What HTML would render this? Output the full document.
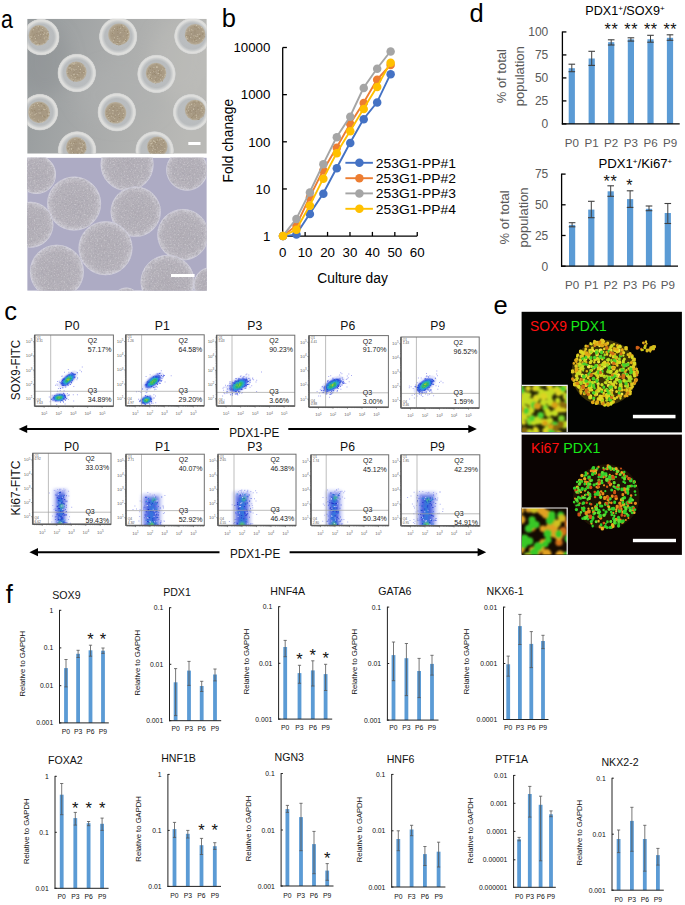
<!DOCTYPE html>
<html><head><meta charset="utf-8"><style>
html,body{margin:0;padding:0;background:#fff;}
body{width:685px;height:905px;overflow:hidden;position:relative;}
svg{position:absolute;left:0;top:0;font-family:"Liberation Sans", sans-serif;}
</style></head><body>
<svg width="685" height="905" viewBox="0 0 685 905">
<defs><filter id="sblur" x="-20%" y="-20%" width="140%" height="140%"><feGaussianBlur stdDeviation="0.45"/></filter><filter id="bigblur" x="-50%" y="-50%" width="200%" height="200%"><feGaussianBlur stdDeviation="8"/></filter><filter id="fsoft2" x="-50%" y="-50%" width="200%" height="200%"><feGaussianBlur stdDeviation="1.1"/></filter><filter id="fsoft" x="-50%" y="-50%" width="200%" height="200%"><feGaussianBlur stdDeviation="0.7"/></filter><clipPath id="fc1"><rect x="34.7" y="335.0" width="78.7" height="71.2"/></clipPath><clipPath id="fc2"><rect x="125.8" y="334.8" width="78.4" height="71.0"/></clipPath><clipPath id="fc3"><rect x="216.6" y="335.2" width="78.2" height="70.8"/></clipPath><clipPath id="fc4"><rect x="309.0" y="335.6" width="79.4" height="71.6"/></clipPath><clipPath id="fc5"><rect x="401.0" y="337.0" width="78.2" height="71.0"/></clipPath><clipPath id="fc6"><rect x="32.8" y="453.2" width="78.2" height="71.1"/></clipPath><clipPath id="fc7"><rect x="126.0" y="454.2" width="78.3" height="71.3"/></clipPath><clipPath id="fc8"><rect x="218.0" y="454.2" width="78.0" height="71.3"/></clipPath><clipPath id="fc9"><rect x="311.0" y="454.8" width="77.7" height="70.7"/></clipPath><clipPath id="fc10"><rect x="401.0" y="454.8" width="78.8" height="71.0"/></clipPath><linearGradient id="abg" x1="0" y1="0" x2="1" y2="0.15"><stop offset="0" stop-color="#959a9c"/><stop offset="0.45" stop-color="#a8aaaa"/><stop offset="1" stop-color="#b9b9b6"/></linearGradient><radialGradient id="awell" cx="0.5" cy="0.5" r="0.5"><stop offset="0" stop-color="#bcbfc1"/><stop offset="0.70" stop-color="#b9bcbe"/><stop offset="0.80" stop-color="#cdcfcf"/><stop offset="0.87" stop-color="#dfdfdd"/><stop offset="0.93" stop-color="#dddddb"/><stop offset="0.97" stop-color="#d0d1d0"/><stop offset="1" stop-color="#b8babb" stop-opacity="0.3"/></radialGradient><radialGradient id="asph" cx="0.5" cy="0.5" r="0.5"><stop offset="0" stop-color="#a39580"/><stop offset="0.8" stop-color="#aa9c85"/><stop offset="1" stop-color="#bab09d"/></radialGradient><filter id="grain" x="0" y="0" width="1" height="1"><feTurbulence type="fractalNoise" baseFrequency="0.8" numOctaves="2" seed="4" result="t"/><feColorMatrix in="t" type="matrix" values="0 0 0 0 0.35  0 0 0 0 0.3  0 0 0 0 0.22  1.4 0 0 0 -0.68" result="d"/><feComposite in="d" in2="SourceAlpha" operator="in" result="dd"/><feMerge><feMergeNode in="SourceGraphic"/><feMergeNode in="dd"/></feMerge></filter><filter id="grain2" x="0" y="0" width="1" height="1"><feTurbulence type="fractalNoise" baseFrequency="0.55" numOctaves="2" seed="9" result="t"/><feColorMatrix in="t" type="matrix" values="0 0 0 0 0.36  0 0 0 0 0.35  0 0 0 0 0.40  1.6 0 0 0 -0.72" result="d"/><feComposite in="d" in2="SourceAlpha" operator="in" result="dd"/><feTurbulence type="fractalNoise" baseFrequency="0.18" numOctaves="2" seed="3" result="t2"/><feColorMatrix in="t2" type="matrix" values="0 0 0 0 0.45  0 0 0 0 0.43  0 0 0 0 0.48  2.2 0 0 0 -1.0" result="d2"/><feComposite in="d2" in2="SourceAlpha" operator="in" result="dd2"/><feTurbulence type="fractalNoise" baseFrequency="0.7" numOctaves="1" seed="21" result="t3"/><feColorMatrix in="t3" type="matrix" values="0 0 0 0 0.88  0 0 0 0 0.87  0 0 0 0 0.9  1.2 0 0 0 -0.66" result="d3"/><feComposite in="d3" in2="SourceAlpha" operator="in" result="dd3"/><feMerge><feMergeNode in="SourceGraphic"/><feMergeNode in="dd2"/><feMergeNode in="dd"/><feMergeNode in="dd3"/></feMerge><feGaussianBlur stdDeviation="0.35"/></filter><clipPath id="clipA1"><rect x="27.2" y="18.8" width="179.6" height="134.9"/></clipPath><clipPath id="clipA2"><rect x="27.2" y="157.6" width="179.6" height="133.2"/></clipPath><radialGradient id="bsph" cx="0.5" cy="0.5" r="0.5"><stop offset="0" stop-color="#b2aeb6"/><stop offset="0.75" stop-color="#b7b3bb"/><stop offset="0.9" stop-color="#c4c1c9"/><stop offset="0.97" stop-color="#d0ced8"/><stop offset="1" stop-color="#c4c2d4"/></radialGradient><clipPath id="clipE1"><rect x="521.6" y="311.8" width="160.3" height="120.6"/></clipPath><clipPath id="clipE2"><rect x="521.6" y="434.6" width="160.3" height="120.4"/></clipPath><clipPath id="clipI1"><rect x="521.6" y="385.3" width="45.6" height="46.6"/></clipPath><clipPath id="clipI2"><rect x="521.6" y="508.0" width="45.6" height="46.6"/></clipPath><filter id="eblur" x="-10%" y="-10%" width="120%" height="120%"><feGaussianBlur stdDeviation="0.45"/></filter><filter id="eblur2" x="-10%" y="-10%" width="120%" height="120%"><feGaussianBlur stdDeviation="0.9"/></filter></defs>
<text x="0.00" y="0.00" font-size="25.5" fill="#000" text-anchor="start" transform="translate(0.9 28.0) scale(0.84 1)">a</text>
<text x="221.80" y="26.60" font-size="25.5" fill="#000" text-anchor="start" >b</text>
<text x="4.20" y="320.40" font-size="25.5" fill="#000" text-anchor="start" >c</text>
<text x="469.60" y="21.90" font-size="25.5" fill="#000" text-anchor="start" >d</text>
<text x="493.40" y="314.20" font-size="25.5" fill="#000" text-anchor="start" >e</text>
<text x="5.80" y="602.70" font-size="25.5" fill="#000" text-anchor="start" >f</text>
<line x1="282.70" y1="47.50" x2="282.70" y2="236.70" stroke="#000" stroke-width="1.3" />
<line x1="282.10" y1="236.10" x2="417.25" y2="236.10" stroke="#000" stroke-width="1.3" />
<line x1="282.70" y1="236.10" x2="286.90" y2="236.10" stroke="#000" stroke-width="1.3" />
<text x="270.40" y="240.80" font-size="13.3" fill="#000" text-anchor="end" >1</text>
<line x1="282.70" y1="188.95" x2="286.90" y2="188.95" stroke="#000" stroke-width="1.3" />
<text x="270.40" y="193.65" font-size="13.3" fill="#000" text-anchor="end" >10</text>
<line x1="282.70" y1="141.80" x2="286.90" y2="141.80" stroke="#000" stroke-width="1.3" />
<text x="270.40" y="146.50" font-size="13.3" fill="#000" text-anchor="end" >100</text>
<line x1="282.70" y1="94.65" x2="286.90" y2="94.65" stroke="#000" stroke-width="1.3" />
<text x="270.40" y="99.35" font-size="13.3" fill="#000" text-anchor="end" >1000</text>
<line x1="282.70" y1="47.50" x2="286.90" y2="47.50" stroke="#000" stroke-width="1.3" />
<text x="270.40" y="52.20" font-size="13.3" fill="#000" text-anchor="end" >10000</text>
<line x1="305.12" y1="236.10" x2="305.12" y2="231.90" stroke="#000" stroke-width="1.3" />
<line x1="327.55" y1="236.10" x2="327.55" y2="231.90" stroke="#000" stroke-width="1.3" />
<line x1="349.98" y1="236.10" x2="349.98" y2="231.90" stroke="#000" stroke-width="1.3" />
<line x1="372.40" y1="236.10" x2="372.40" y2="231.90" stroke="#000" stroke-width="1.3" />
<line x1="394.82" y1="236.10" x2="394.82" y2="231.90" stroke="#000" stroke-width="1.3" />
<line x1="417.25" y1="236.10" x2="417.25" y2="231.90" stroke="#000" stroke-width="1.3" />
<text x="282.70" y="257.00" font-size="13.3" fill="#000" text-anchor="middle" >0</text>
<text x="305.12" y="257.00" font-size="13.3" fill="#000" text-anchor="middle" >10</text>
<text x="327.55" y="257.00" font-size="13.3" fill="#000" text-anchor="middle" >20</text>
<text x="349.98" y="257.00" font-size="13.3" fill="#000" text-anchor="middle" >30</text>
<text x="372.40" y="257.00" font-size="13.3" fill="#000" text-anchor="middle" >40</text>
<text x="394.82" y="257.00" font-size="13.3" fill="#000" text-anchor="middle" >50</text>
<text x="417.25" y="257.00" font-size="13.3" fill="#000" text-anchor="middle" >60</text>
<text x="352.60" y="282.60" font-size="13.8" fill="#000" text-anchor="middle" >Culture day</text>
<text x="0.00" y="0.00" font-size="13.8" fill="#000" text-anchor="middle" transform="translate(232.9 140.7) rotate(-90)">Fold chanage</text>
<polyline points="282.70,236.10 296.15,234.60 309.61,214.00 323.06,193.70 336.52,168.20 349.98,143.00 363.43,119.20 376.88,102.60 390.34,74.30" fill="none" stroke="#4472C4" stroke-width="1.9"/>
<circle cx="283.00" cy="236.10" r="4.25" fill="#4472C4"/>
<circle cx="296.45" cy="234.60" r="4.25" fill="#4472C4"/>
<circle cx="309.91" cy="214.00" r="4.25" fill="#4472C4"/>
<circle cx="323.37" cy="193.70" r="4.25" fill="#4472C4"/>
<circle cx="336.82" cy="168.20" r="4.25" fill="#4472C4"/>
<circle cx="350.28" cy="143.00" r="4.25" fill="#4472C4"/>
<circle cx="363.73" cy="119.20" r="4.25" fill="#4472C4"/>
<circle cx="377.19" cy="102.60" r="4.25" fill="#4472C4"/>
<circle cx="390.64" cy="74.30" r="4.25" fill="#4472C4"/>
<polyline points="282.70,236.10 296.15,225.70 309.61,197.40 323.06,170.40 336.52,147.70 349.98,124.00 363.43,103.00 376.88,79.80 390.34,65.00" fill="none" stroke="#ED7D31" stroke-width="1.9"/>
<circle cx="283.00" cy="236.10" r="4.25" fill="#ED7D31"/>
<circle cx="296.45" cy="225.70" r="4.25" fill="#ED7D31"/>
<circle cx="309.91" cy="197.40" r="4.25" fill="#ED7D31"/>
<circle cx="323.37" cy="170.40" r="4.25" fill="#ED7D31"/>
<circle cx="336.82" cy="147.70" r="4.25" fill="#ED7D31"/>
<circle cx="350.28" cy="124.00" r="4.25" fill="#ED7D31"/>
<circle cx="363.73" cy="103.00" r="4.25" fill="#ED7D31"/>
<circle cx="377.19" cy="79.80" r="4.25" fill="#ED7D31"/>
<circle cx="390.64" cy="65.00" r="4.25" fill="#ED7D31"/>
<polyline points="282.70,236.10 296.15,219.10 309.61,192.50 323.06,164.30 336.52,137.30 349.98,116.70 363.43,88.00 376.88,68.70 390.34,51.50" fill="none" stroke="#A5A5A5" stroke-width="1.9"/>
<circle cx="283.00" cy="236.10" r="4.25" fill="#A5A5A5"/>
<circle cx="296.45" cy="219.10" r="4.25" fill="#A5A5A5"/>
<circle cx="309.91" cy="192.50" r="4.25" fill="#A5A5A5"/>
<circle cx="323.37" cy="164.30" r="4.25" fill="#A5A5A5"/>
<circle cx="336.82" cy="137.30" r="4.25" fill="#A5A5A5"/>
<circle cx="350.28" cy="116.70" r="4.25" fill="#A5A5A5"/>
<circle cx="363.73" cy="88.00" r="4.25" fill="#A5A5A5"/>
<circle cx="377.19" cy="68.70" r="4.25" fill="#A5A5A5"/>
<circle cx="390.64" cy="51.50" r="4.25" fill="#A5A5A5"/>
<polyline points="282.70,236.10 296.15,229.70 309.61,205.80 323.06,178.80 336.52,153.20 349.98,131.30 363.43,109.00 376.88,87.10 390.34,62.80" fill="none" stroke="#FFC000" stroke-width="1.9"/>
<circle cx="283.00" cy="236.10" r="4.25" fill="#FFC000"/>
<circle cx="296.45" cy="229.70" r="4.25" fill="#FFC000"/>
<circle cx="309.91" cy="205.80" r="4.25" fill="#FFC000"/>
<circle cx="323.37" cy="178.80" r="4.25" fill="#FFC000"/>
<circle cx="336.82" cy="153.20" r="4.25" fill="#FFC000"/>
<circle cx="350.28" cy="131.30" r="4.25" fill="#FFC000"/>
<circle cx="363.73" cy="109.00" r="4.25" fill="#FFC000"/>
<circle cx="377.19" cy="87.10" r="4.25" fill="#FFC000"/>
<circle cx="390.64" cy="62.80" r="4.25" fill="#FFC000"/>
<line x1="345.40" y1="162.80" x2="372.90" y2="162.80" stroke="#4472C4" stroke-width="1.9" />
<circle cx="359.4" cy="162.8" r="4.25" fill="#4472C4"/>
<text x="375.80" y="167.60" font-size="13.5" fill="#000" text-anchor="start" textLength="80.2" lengthAdjust="spacingAndGlyphs">253G1-PP#1</text>
<line x1="345.40" y1="178.20" x2="372.90" y2="178.20" stroke="#ED7D31" stroke-width="1.9" />
<circle cx="359.4" cy="178.2" r="4.25" fill="#ED7D31"/>
<text x="375.80" y="183.00" font-size="13.5" fill="#000" text-anchor="start" textLength="80.2" lengthAdjust="spacingAndGlyphs">253G1-PP#2</text>
<line x1="345.40" y1="193.40" x2="372.90" y2="193.40" stroke="#A5A5A5" stroke-width="1.9" />
<circle cx="359.4" cy="193.4" r="4.25" fill="#A5A5A5"/>
<text x="375.80" y="198.20" font-size="13.5" fill="#000" text-anchor="start" textLength="80.2" lengthAdjust="spacingAndGlyphs">253G1-PP#3</text>
<line x1="345.40" y1="208.80" x2="372.90" y2="208.80" stroke="#FFC000" stroke-width="1.9" />
<circle cx="359.4" cy="208.8" r="4.25" fill="#FFC000"/>
<text x="375.80" y="213.60" font-size="13.5" fill="#000" text-anchor="start" textLength="80.2" lengthAdjust="spacingAndGlyphs">253G1-PP#4</text>
<rect x="568.70" y="68.20" width="6.20" height="55.70" fill="#5B9BD5" />
<rect x="588.60" y="58.50" width="6.20" height="65.40" fill="#5B9BD5" />
<rect x="608.10" y="42.20" width="6.20" height="81.70" fill="#5B9BD5" />
<rect x="627.80" y="39.30" width="6.20" height="84.60" fill="#5B9BD5" />
<rect x="647.40" y="39.30" width="6.20" height="84.60" fill="#5B9BD5" />
<rect x="666.90" y="37.80" width="6.20" height="86.10" fill="#5B9BD5" />
<line x1="571.80" y1="64.20" x2="571.80" y2="71.70" stroke="#404040" stroke-width="1" />
<line x1="568.50" y1="64.20" x2="575.10" y2="64.20" stroke="#404040" stroke-width="1.1" />
<line x1="568.50" y1="71.70" x2="575.10" y2="71.70" stroke="#404040" stroke-width="1.1" />
<line x1="591.70" y1="51.30" x2="591.70" y2="65.40" stroke="#404040" stroke-width="1" />
<line x1="588.40" y1="51.30" x2="595.00" y2="51.30" stroke="#404040" stroke-width="1.1" />
<line x1="588.40" y1="65.40" x2="595.00" y2="65.40" stroke="#404040" stroke-width="1.1" />
<line x1="611.20" y1="39.80" x2="611.20" y2="45.00" stroke="#404040" stroke-width="1" />
<line x1="607.90" y1="39.80" x2="614.50" y2="39.80" stroke="#404040" stroke-width="1.1" />
<line x1="607.90" y1="45.00" x2="614.50" y2="45.00" stroke="#404040" stroke-width="1.1" />
<line x1="630.90" y1="37.80" x2="630.90" y2="41.10" stroke="#404040" stroke-width="1" />
<line x1="627.60" y1="37.80" x2="634.20" y2="37.80" stroke="#404040" stroke-width="1.1" />
<line x1="627.60" y1="41.10" x2="634.20" y2="41.10" stroke="#404040" stroke-width="1.1" />
<line x1="650.50" y1="35.30" x2="650.50" y2="42.20" stroke="#404040" stroke-width="1" />
<line x1="647.20" y1="35.30" x2="653.80" y2="35.30" stroke="#404040" stroke-width="1.1" />
<line x1="647.20" y1="42.20" x2="653.80" y2="42.20" stroke="#404040" stroke-width="1.1" />
<line x1="670.00" y1="34.80" x2="670.00" y2="40.30" stroke="#404040" stroke-width="1" />
<line x1="666.70" y1="34.80" x2="673.30" y2="34.80" stroke="#404040" stroke-width="1.1" />
<line x1="666.70" y1="40.30" x2="673.30" y2="40.30" stroke="#404040" stroke-width="1.1" />
<line x1="562.40" y1="31.50" x2="562.40" y2="124.50" stroke="#000" stroke-width="1.3" />
<line x1="561.80" y1="123.90" x2="679.70" y2="123.90" stroke="#000" stroke-width="1.3" />
<line x1="562.40" y1="123.90" x2="566.40" y2="123.90" stroke="#000" stroke-width="1.3" />
<text x="548.30" y="128.20" font-size="12.0" fill="#595959" text-anchor="end" >0</text>
<line x1="562.40" y1="100.91" x2="566.40" y2="100.91" stroke="#000" stroke-width="1.3" />
<text x="548.30" y="105.21" font-size="12.0" fill="#595959" text-anchor="end" >25</text>
<line x1="562.40" y1="77.92" x2="566.40" y2="77.92" stroke="#000" stroke-width="1.3" />
<text x="548.30" y="82.22" font-size="12.0" fill="#595959" text-anchor="end" >50</text>
<line x1="562.40" y1="54.93" x2="566.40" y2="54.93" stroke="#000" stroke-width="1.3" />
<text x="548.30" y="59.23" font-size="12.0" fill="#595959" text-anchor="end" >75</text>
<line x1="562.40" y1="31.94" x2="566.40" y2="31.94" stroke="#000" stroke-width="1.3" />
<text x="548.30" y="36.24" font-size="12.0" fill="#595959" text-anchor="end" >100</text>
<text x="571.80" y="146.60" font-size="11.6" fill="#595959" text-anchor="middle" >P0</text>
<text x="591.70" y="146.60" font-size="11.6" fill="#595959" text-anchor="middle" >P1</text>
<text x="611.20" y="146.60" font-size="11.6" fill="#595959" text-anchor="middle" >P2</text>
<text x="630.90" y="146.60" font-size="11.6" fill="#595959" text-anchor="middle" >P3</text>
<text x="650.50" y="146.60" font-size="11.6" fill="#595959" text-anchor="middle" >P6</text>
<text x="670.00" y="146.60" font-size="11.6" fill="#595959" text-anchor="middle" >P9</text>
<text x="611.50" y="35.20" font-size="16.2" fill="#111" text-anchor="middle" letter-spacing="0.6">**</text>
<text x="631.20" y="35.20" font-size="16.2" fill="#111" text-anchor="middle" letter-spacing="0.6">**</text>
<text x="650.80" y="35.20" font-size="16.2" fill="#111" text-anchor="middle" letter-spacing="0.6">**</text>
<text x="670.30" y="35.20" font-size="16.2" fill="#111" text-anchor="middle" letter-spacing="0.6">**</text>
<text x="585.3" y="15.2" font-size="12.6" fill="#000">PDX1<tspan font-size="8" dy="-4.5">+</tspan><tspan dy="4.5">/SOX9</tspan><tspan font-size="8" dy="-4.5">+</tspan><tspan dy="4.5"></tspan></text>
<text x="0.00" y="0.00" font-size="13.0" fill="#595959" text-anchor="middle" transform="translate(505.5 76.2) rotate(-90)">% of total</text>
<text x="0.00" y="0.00" font-size="13.0" fill="#595959" text-anchor="middle" transform="translate(524.0 76.2) rotate(-90)">population</text>
<rect x="569.00" y="224.90" width="6.20" height="41.30" fill="#5B9BD5" />
<rect x="588.20" y="209.60" width="6.20" height="56.60" fill="#5B9BD5" />
<rect x="607.60" y="191.30" width="6.20" height="74.90" fill="#5B9BD5" />
<rect x="627.00" y="199.10" width="6.20" height="67.10" fill="#5B9BD5" />
<rect x="645.90" y="208.80" width="6.20" height="57.40" fill="#5B9BD5" />
<rect x="664.70" y="213.00" width="6.20" height="53.20" fill="#5B9BD5" />
<line x1="572.10" y1="222.70" x2="572.10" y2="226.80" stroke="#404040" stroke-width="1" />
<line x1="568.80" y1="222.70" x2="575.40" y2="222.70" stroke="#404040" stroke-width="1.1" />
<line x1="568.80" y1="226.80" x2="575.40" y2="226.80" stroke="#404040" stroke-width="1.1" />
<line x1="591.30" y1="201.30" x2="591.30" y2="217.70" stroke="#404040" stroke-width="1" />
<line x1="588.00" y1="201.30" x2="594.60" y2="201.30" stroke="#404040" stroke-width="1.1" />
<line x1="588.00" y1="217.70" x2="594.60" y2="217.70" stroke="#404040" stroke-width="1.1" />
<line x1="610.70" y1="185.80" x2="610.70" y2="196.30" stroke="#404040" stroke-width="1" />
<line x1="607.40" y1="185.80" x2="614.00" y2="185.80" stroke="#404040" stroke-width="1.1" />
<line x1="607.40" y1="196.30" x2="614.00" y2="196.30" stroke="#404040" stroke-width="1.1" />
<line x1="630.10" y1="190.80" x2="630.10" y2="207.40" stroke="#404040" stroke-width="1" />
<line x1="626.80" y1="190.80" x2="633.40" y2="190.80" stroke="#404040" stroke-width="1.1" />
<line x1="626.80" y1="207.40" x2="633.40" y2="207.40" stroke="#404040" stroke-width="1.1" />
<line x1="649.00" y1="206.00" x2="649.00" y2="210.70" stroke="#404040" stroke-width="1" />
<line x1="645.70" y1="206.00" x2="652.30" y2="206.00" stroke="#404040" stroke-width="1.1" />
<line x1="645.70" y1="210.70" x2="652.30" y2="210.70" stroke="#404040" stroke-width="1.1" />
<line x1="667.80" y1="203.50" x2="667.80" y2="223.50" stroke="#404040" stroke-width="1" />
<line x1="664.50" y1="203.50" x2="671.10" y2="203.50" stroke="#404040" stroke-width="1.1" />
<line x1="664.50" y1="223.50" x2="671.10" y2="223.50" stroke="#404040" stroke-width="1.1" />
<line x1="561.60" y1="173.60" x2="561.60" y2="266.80" stroke="#000" stroke-width="1.3" />
<line x1="561.00" y1="266.20" x2="678.00" y2="266.20" stroke="#000" stroke-width="1.3" />
<line x1="561.60" y1="266.20" x2="565.60" y2="266.20" stroke="#000" stroke-width="1.3" />
<text x="548.30" y="270.50" font-size="12.0" fill="#595959" text-anchor="end" >0</text>
<line x1="561.60" y1="235.50" x2="565.60" y2="235.50" stroke="#000" stroke-width="1.3" />
<text x="548.30" y="239.80" font-size="12.0" fill="#595959" text-anchor="end" >25</text>
<line x1="561.60" y1="204.80" x2="565.60" y2="204.80" stroke="#000" stroke-width="1.3" />
<text x="548.30" y="209.10" font-size="12.0" fill="#595959" text-anchor="end" >50</text>
<line x1="561.60" y1="174.10" x2="565.60" y2="174.10" stroke="#000" stroke-width="1.3" />
<text x="548.30" y="178.40" font-size="12.0" fill="#595959" text-anchor="end" >75</text>
<text x="572.10" y="288.80" font-size="11.6" fill="#595959" text-anchor="middle" >P0</text>
<text x="591.30" y="288.80" font-size="11.6" fill="#595959" text-anchor="middle" >P1</text>
<text x="610.70" y="288.80" font-size="11.6" fill="#595959" text-anchor="middle" >P2</text>
<text x="630.10" y="288.80" font-size="11.6" fill="#595959" text-anchor="middle" >P3</text>
<text x="649.00" y="288.80" font-size="11.6" fill="#595959" text-anchor="middle" >P6</text>
<text x="667.80" y="288.80" font-size="11.6" fill="#595959" text-anchor="middle" >P9</text>
<text x="610.50" y="186.50" font-size="16.2" fill="#111" text-anchor="middle" letter-spacing="0.6">**</text>
<text x="629.70" y="191.30" font-size="16.2" fill="#111" text-anchor="middle" letter-spacing="0.6">*</text>
<text x="598.4" y="168.0" font-size="13.2" fill="#000">PDX1<tspan font-size="8" dy="-4.5">+</tspan><tspan dy="4.5">/Ki67</tspan><tspan font-size="8" dy="-4.5">+</tspan><tspan dy="4.5"></tspan></text>
<text x="0.00" y="0.00" font-size="13.0" fill="#595959" text-anchor="middle" transform="translate(509.0 217.4) rotate(-90)">% of total</text>
<text x="0.00" y="0.00" font-size="13.0" fill="#595959" text-anchor="middle" transform="translate(527.8 217.4) rotate(-90)">population</text>
<rect x="64.10" y="668.10" width="3.80" height="54.80" fill="#5B9BD5" />
<rect x="76.20" y="653.80" width="3.80" height="69.10" fill="#5B9BD5" />
<rect x="88.60" y="650.30" width="3.80" height="72.60" fill="#5B9BD5" />
<rect x="101.10" y="650.70" width="3.80" height="72.20" fill="#5B9BD5" />
<line x1="66.00" y1="659.50" x2="66.00" y2="686.90" stroke="#555" stroke-width="0.8" />
<line x1="64.40" y1="659.50" x2="67.60" y2="659.50" stroke="#555" stroke-width="0.8" />
<line x1="64.40" y1="686.90" x2="67.60" y2="686.90" stroke="#555" stroke-width="0.8" />
<line x1="78.10" y1="650.30" x2="78.10" y2="657.50" stroke="#555" stroke-width="0.8" />
<line x1="76.50" y1="650.30" x2="79.70" y2="650.30" stroke="#555" stroke-width="0.8" />
<line x1="76.50" y1="657.50" x2="79.70" y2="657.50" stroke="#555" stroke-width="0.8" />
<line x1="90.50" y1="645.20" x2="90.50" y2="656.20" stroke="#555" stroke-width="0.8" />
<line x1="88.90" y1="645.20" x2="92.10" y2="645.20" stroke="#555" stroke-width="0.8" />
<line x1="88.90" y1="656.20" x2="92.10" y2="656.20" stroke="#555" stroke-width="0.8" />
<line x1="103.00" y1="648.00" x2="103.00" y2="653.40" stroke="#555" stroke-width="0.8" />
<line x1="101.40" y1="648.00" x2="104.60" y2="648.00" stroke="#555" stroke-width="0.8" />
<line x1="101.40" y1="653.40" x2="104.60" y2="653.40" stroke="#555" stroke-width="0.8" />
<line x1="59.50" y1="609.90" x2="59.50" y2="723.40" stroke="#222" stroke-width="1.0" />
<line x1="59.00" y1="722.90" x2="108.80" y2="722.90" stroke="#222" stroke-width="1.0" />
<line x1="59.50" y1="610.30" x2="61.30" y2="610.30" stroke="#222" stroke-width="1.0" />
<text x="53.20" y="612.80" font-size="6.8" fill="#111" text-anchor="end" >1</text>
<line x1="59.50" y1="647.90" x2="61.30" y2="647.90" stroke="#222" stroke-width="1.0" />
<text x="53.20" y="650.40" font-size="6.8" fill="#111" text-anchor="end" >0.1</text>
<line x1="59.50" y1="685.70" x2="61.30" y2="685.70" stroke="#222" stroke-width="1.0" />
<text x="53.20" y="688.20" font-size="6.8" fill="#111" text-anchor="end" >0.01</text>
<line x1="59.50" y1="722.90" x2="61.30" y2="722.90" stroke="#222" stroke-width="1.0" />
<text x="53.20" y="725.40" font-size="6.8" fill="#111" text-anchor="end" >0.001</text>
<text x="66.00" y="734.00" font-size="6.8" fill="#111" text-anchor="middle" >P0</text>
<text x="78.10" y="734.00" font-size="6.8" fill="#111" text-anchor="middle" >P3</text>
<text x="90.50" y="734.00" font-size="6.8" fill="#111" text-anchor="middle" >P6</text>
<text x="103.00" y="734.00" font-size="6.8" fill="#111" text-anchor="middle" >P9</text>
<text x="90.50" y="644.80" font-size="16.5" fill="#111" text-anchor="middle" >*</text>
<text x="103.00" y="644.80" font-size="16.5" fill="#111" text-anchor="middle" >*</text>
<text x="66.40" y="598.60" font-size="10.6" fill="#111" text-anchor="middle" >SOX9</text>
<text x="0.00" y="0.00" font-size="8.1" fill="#111" text-anchor="middle" transform="translate(24.6 663.7) rotate(-90)" textLength="65.5" lengthAdjust="spacingAndGlyphs">Relative to GAPDH</text>
<rect x="173.70" y="682.30" width="3.80" height="38.40" fill="#5B9BD5" />
<rect x="187.10" y="670.60" width="3.80" height="50.10" fill="#5B9BD5" />
<rect x="199.80" y="686.00" width="3.80" height="34.70" fill="#5B9BD5" />
<rect x="213.10" y="674.50" width="3.80" height="46.20" fill="#5B9BD5" />
<line x1="175.60" y1="668.60" x2="175.60" y2="715.60" stroke="#555" stroke-width="0.8" />
<line x1="174.00" y1="668.60" x2="177.20" y2="668.60" stroke="#555" stroke-width="0.8" />
<line x1="174.00" y1="715.60" x2="177.20" y2="715.60" stroke="#555" stroke-width="0.8" />
<line x1="189.00" y1="661.40" x2="189.00" y2="685.40" stroke="#555" stroke-width="0.8" />
<line x1="187.40" y1="661.40" x2="190.60" y2="661.40" stroke="#555" stroke-width="0.8" />
<line x1="187.40" y1="685.40" x2="190.60" y2="685.40" stroke="#555" stroke-width="0.8" />
<line x1="201.70" y1="681.30" x2="201.70" y2="691.50" stroke="#555" stroke-width="0.8" />
<line x1="200.10" y1="681.30" x2="203.30" y2="681.30" stroke="#555" stroke-width="0.8" />
<line x1="200.10" y1="691.50" x2="203.30" y2="691.50" stroke="#555" stroke-width="0.8" />
<line x1="215.00" y1="669.00" x2="215.00" y2="680.90" stroke="#555" stroke-width="0.8" />
<line x1="213.40" y1="669.00" x2="216.60" y2="669.00" stroke="#555" stroke-width="0.8" />
<line x1="213.40" y1="680.90" x2="216.60" y2="680.90" stroke="#555" stroke-width="0.8" />
<line x1="169.50" y1="607.30" x2="169.50" y2="721.20" stroke="#222" stroke-width="1.0" />
<line x1="169.00" y1="720.70" x2="221.20" y2="720.70" stroke="#222" stroke-width="1.0" />
<line x1="169.50" y1="607.70" x2="171.30" y2="607.70" stroke="#222" stroke-width="1.0" />
<text x="163.20" y="610.20" font-size="6.8" fill="#111" text-anchor="end" >0.1</text>
<line x1="169.50" y1="664.30" x2="171.30" y2="664.30" stroke="#222" stroke-width="1.0" />
<text x="163.20" y="666.80" font-size="6.8" fill="#111" text-anchor="end" >0.01</text>
<line x1="169.50" y1="720.70" x2="171.30" y2="720.70" stroke="#222" stroke-width="1.0" />
<text x="163.20" y="723.20" font-size="6.8" fill="#111" text-anchor="end" >0.001</text>
<text x="175.60" y="731.30" font-size="6.8" fill="#111" text-anchor="middle" >P0</text>
<text x="189.00" y="731.30" font-size="6.8" fill="#111" text-anchor="middle" >P3</text>
<text x="201.70" y="731.30" font-size="6.8" fill="#111" text-anchor="middle" >P6</text>
<text x="215.00" y="731.30" font-size="6.8" fill="#111" text-anchor="middle" >P9</text>
<text x="177.00" y="596.00" font-size="10.6" fill="#111" text-anchor="middle" >PDX1</text>
<text x="0.00" y="0.00" font-size="8.1" fill="#111" text-anchor="middle" transform="translate(140.3 662.7) rotate(-90)" textLength="65.5" lengthAdjust="spacingAndGlyphs">Relative to GAPDH</text>
<rect x="283.30" y="647.00" width="3.80" height="72.10" fill="#5B9BD5" />
<rect x="297.60" y="673.10" width="3.80" height="46.00" fill="#5B9BD5" />
<rect x="310.90" y="670.40" width="3.80" height="48.70" fill="#5B9BD5" />
<rect x="323.70" y="674.10" width="3.80" height="45.00" fill="#5B9BD5" />
<line x1="285.20" y1="640.40" x2="285.20" y2="656.70" stroke="#555" stroke-width="0.8" />
<line x1="283.60" y1="640.40" x2="286.80" y2="640.40" stroke="#555" stroke-width="0.8" />
<line x1="283.60" y1="656.70" x2="286.80" y2="656.70" stroke="#555" stroke-width="0.8" />
<line x1="299.50" y1="665.30" x2="299.50" y2="683.30" stroke="#555" stroke-width="0.8" />
<line x1="297.90" y1="665.30" x2="301.10" y2="665.30" stroke="#555" stroke-width="0.8" />
<line x1="297.90" y1="683.30" x2="301.10" y2="683.30" stroke="#555" stroke-width="0.8" />
<line x1="312.80" y1="660.80" x2="312.80" y2="686.00" stroke="#555" stroke-width="0.8" />
<line x1="311.20" y1="660.80" x2="314.40" y2="660.80" stroke="#555" stroke-width="0.8" />
<line x1="311.20" y1="686.00" x2="314.40" y2="686.00" stroke="#555" stroke-width="0.8" />
<line x1="325.60" y1="664.30" x2="325.60" y2="690.50" stroke="#555" stroke-width="0.8" />
<line x1="324.00" y1="664.30" x2="327.20" y2="664.30" stroke="#555" stroke-width="0.8" />
<line x1="324.00" y1="690.50" x2="327.20" y2="690.50" stroke="#555" stroke-width="0.8" />
<line x1="278.60" y1="606.30" x2="278.60" y2="719.60" stroke="#222" stroke-width="1.0" />
<line x1="278.10" y1="719.10" x2="332.20" y2="719.10" stroke="#222" stroke-width="1.0" />
<line x1="278.60" y1="606.70" x2="280.40" y2="606.70" stroke="#222" stroke-width="1.0" />
<text x="272.30" y="609.20" font-size="6.8" fill="#111" text-anchor="end" >0.1</text>
<line x1="278.60" y1="663.30" x2="280.40" y2="663.30" stroke="#222" stroke-width="1.0" />
<text x="272.30" y="665.80" font-size="6.8" fill="#111" text-anchor="end" >0.01</text>
<line x1="278.60" y1="719.10" x2="280.40" y2="719.10" stroke="#222" stroke-width="1.0" />
<text x="272.30" y="721.60" font-size="6.8" fill="#111" text-anchor="end" >0.001</text>
<text x="285.20" y="730.30" font-size="6.8" fill="#111" text-anchor="middle" >P0</text>
<text x="299.50" y="730.30" font-size="6.8" fill="#111" text-anchor="middle" >P3</text>
<text x="312.80" y="730.30" font-size="6.8" fill="#111" text-anchor="middle" >P6</text>
<text x="325.60" y="730.30" font-size="6.8" fill="#111" text-anchor="middle" >P9</text>
<text x="299.50" y="665.05" font-size="16.5" fill="#111" text-anchor="middle" >*</text>
<text x="312.80" y="660.95" font-size="16.5" fill="#111" text-anchor="middle" >*</text>
<text x="325.60" y="664.05" font-size="16.5" fill="#111" text-anchor="middle" >*</text>
<text x="287.70" y="594.80" font-size="10.6" fill="#111" text-anchor="middle" >HNF4A</text>
<text x="0.00" y="0.00" font-size="8.1" fill="#111" text-anchor="middle" transform="translate(249.3 661.5) rotate(-90)" textLength="65.5" lengthAdjust="spacingAndGlyphs">Relative to GAPDH</text>
<rect x="391.60" y="655.10" width="3.80" height="65.00" fill="#5B9BD5" />
<rect x="404.50" y="658.20" width="3.80" height="61.90" fill="#5B9BD5" />
<rect x="417.20" y="671.00" width="3.80" height="49.10" fill="#5B9BD5" />
<rect x="430.10" y="663.90" width="3.80" height="56.20" fill="#5B9BD5" />
<line x1="393.50" y1="642.00" x2="393.50" y2="680.70" stroke="#555" stroke-width="0.8" />
<line x1="391.90" y1="642.00" x2="395.10" y2="642.00" stroke="#555" stroke-width="0.8" />
<line x1="391.90" y1="680.70" x2="395.10" y2="680.70" stroke="#555" stroke-width="0.8" />
<line x1="406.40" y1="643.50" x2="406.40" y2="695.60" stroke="#555" stroke-width="0.8" />
<line x1="404.80" y1="643.50" x2="408.00" y2="643.50" stroke="#555" stroke-width="0.8" />
<line x1="404.80" y1="695.60" x2="408.00" y2="695.60" stroke="#555" stroke-width="0.8" />
<line x1="419.10" y1="658.40" x2="419.10" y2="697.60" stroke="#555" stroke-width="0.8" />
<line x1="417.50" y1="658.40" x2="420.70" y2="658.40" stroke="#555" stroke-width="0.8" />
<line x1="417.50" y1="697.60" x2="420.70" y2="697.60" stroke="#555" stroke-width="0.8" />
<line x1="432.00" y1="655.30" x2="432.00" y2="675.10" stroke="#555" stroke-width="0.8" />
<line x1="430.40" y1="655.30" x2="433.60" y2="655.30" stroke="#555" stroke-width="0.8" />
<line x1="430.40" y1="675.10" x2="433.60" y2="675.10" stroke="#555" stroke-width="0.8" />
<line x1="387.40" y1="606.70" x2="387.40" y2="720.60" stroke="#222" stroke-width="1.0" />
<line x1="386.90" y1="720.10" x2="438.50" y2="720.10" stroke="#222" stroke-width="1.0" />
<line x1="387.40" y1="607.10" x2="389.20" y2="607.10" stroke="#222" stroke-width="1.0" />
<text x="381.10" y="609.60" font-size="6.8" fill="#111" text-anchor="end" >0.1</text>
<line x1="387.40" y1="663.50" x2="389.20" y2="663.50" stroke="#222" stroke-width="1.0" />
<text x="381.10" y="666.00" font-size="6.8" fill="#111" text-anchor="end" >0.01</text>
<line x1="387.40" y1="720.10" x2="389.20" y2="720.10" stroke="#222" stroke-width="1.0" />
<text x="381.10" y="722.60" font-size="6.8" fill="#111" text-anchor="end" >0.001</text>
<text x="393.50" y="730.30" font-size="6.8" fill="#111" text-anchor="middle" >P0</text>
<text x="406.40" y="730.30" font-size="6.8" fill="#111" text-anchor="middle" >P3</text>
<text x="419.10" y="730.30" font-size="6.8" fill="#111" text-anchor="middle" >P6</text>
<text x="432.00" y="730.30" font-size="6.8" fill="#111" text-anchor="middle" >P9</text>
<text x="394.80" y="595.00" font-size="10.6" fill="#111" text-anchor="middle" >GATA6</text>
<text x="0.00" y="0.00" font-size="8.1" fill="#111" text-anchor="middle" transform="translate(356.7 661.7) rotate(-90)" textLength="65.5" lengthAdjust="spacingAndGlyphs">Relative to GAPDH</text>
<rect x="506.30" y="664.30" width="3.80" height="55.20" fill="#5B9BD5" />
<rect x="518.00" y="626.10" width="3.80" height="93.40" fill="#5B9BD5" />
<rect x="529.40" y="643.90" width="3.80" height="75.60" fill="#5B9BD5" />
<rect x="541.10" y="641.00" width="3.80" height="78.50" fill="#5B9BD5" />
<line x1="508.20" y1="656.10" x2="508.20" y2="676.20" stroke="#555" stroke-width="0.8" />
<line x1="506.60" y1="656.10" x2="509.80" y2="656.10" stroke="#555" stroke-width="0.8" />
<line x1="506.60" y1="676.20" x2="509.80" y2="676.20" stroke="#555" stroke-width="0.8" />
<line x1="519.90" y1="614.40" x2="519.90" y2="644.50" stroke="#555" stroke-width="0.8" />
<line x1="518.30" y1="614.40" x2="521.50" y2="614.40" stroke="#555" stroke-width="0.8" />
<line x1="518.30" y1="644.50" x2="521.50" y2="644.50" stroke="#555" stroke-width="0.8" />
<line x1="531.30" y1="631.60" x2="531.30" y2="667.60" stroke="#555" stroke-width="0.8" />
<line x1="529.70" y1="631.60" x2="532.90" y2="631.60" stroke="#555" stroke-width="0.8" />
<line x1="529.70" y1="667.60" x2="532.90" y2="667.60" stroke="#555" stroke-width="0.8" />
<line x1="543.00" y1="635.30" x2="543.00" y2="648.60" stroke="#555" stroke-width="0.8" />
<line x1="541.40" y1="635.30" x2="544.60" y2="635.30" stroke="#555" stroke-width="0.8" />
<line x1="541.40" y1="648.60" x2="544.60" y2="648.60" stroke="#555" stroke-width="0.8" />
<line x1="503.50" y1="606.70" x2="503.50" y2="720.00" stroke="#222" stroke-width="1.0" />
<line x1="503.00" y1="719.50" x2="548.50" y2="719.50" stroke="#222" stroke-width="1.0" />
<line x1="503.50" y1="607.10" x2="505.30" y2="607.10" stroke="#222" stroke-width="1.0" />
<text x="497.20" y="609.60" font-size="6.8" fill="#111" text-anchor="end" >0.01</text>
<line x1="503.50" y1="663.50" x2="505.30" y2="663.50" stroke="#222" stroke-width="1.0" />
<text x="497.20" y="666.00" font-size="6.8" fill="#111" text-anchor="end" >0.001</text>
<line x1="503.50" y1="719.50" x2="505.30" y2="719.50" stroke="#222" stroke-width="1.0" />
<text x="497.20" y="722.00" font-size="6.8" fill="#111" text-anchor="end" >0.0001</text>
<text x="508.20" y="730.30" font-size="6.8" fill="#111" text-anchor="middle" >P0</text>
<text x="519.90" y="730.30" font-size="6.8" fill="#111" text-anchor="middle" >P3</text>
<text x="531.30" y="730.30" font-size="6.8" fill="#111" text-anchor="middle" >P6</text>
<text x="543.00" y="730.30" font-size="6.8" fill="#111" text-anchor="middle" >P9</text>
<text x="505.10" y="594.80" font-size="10.6" fill="#111" text-anchor="middle" >NKX6-1</text>
<text x="0.00" y="0.00" font-size="8.1" fill="#111" text-anchor="middle" transform="translate(469.3 661.5) rotate(-90)" textLength="65.5" lengthAdjust="spacingAndGlyphs">Relative to GAPDH</text>
<rect x="59.80" y="794.70" width="3.80" height="93.60" fill="#5B9BD5" />
<rect x="73.40" y="818.10" width="3.80" height="70.20" fill="#5B9BD5" />
<rect x="86.70" y="823.20" width="3.80" height="65.10" fill="#5B9BD5" />
<rect x="100.20" y="823.80" width="3.80" height="64.50" fill="#5B9BD5" />
<line x1="61.70" y1="783.50" x2="61.70" y2="814.70" stroke="#555" stroke-width="0.8" />
<line x1="60.10" y1="783.50" x2="63.30" y2="783.50" stroke="#555" stroke-width="0.8" />
<line x1="60.10" y1="814.70" x2="63.30" y2="814.70" stroke="#555" stroke-width="0.8" />
<line x1="75.30" y1="812.40" x2="75.30" y2="825.10" stroke="#555" stroke-width="0.8" />
<line x1="73.70" y1="812.40" x2="76.90" y2="812.40" stroke="#555" stroke-width="0.8" />
<line x1="73.70" y1="825.10" x2="76.90" y2="825.10" stroke="#555" stroke-width="0.8" />
<line x1="88.60" y1="821.50" x2="88.60" y2="825.70" stroke="#555" stroke-width="0.8" />
<line x1="87.00" y1="821.50" x2="90.20" y2="821.50" stroke="#555" stroke-width="0.8" />
<line x1="87.00" y1="825.70" x2="90.20" y2="825.70" stroke="#555" stroke-width="0.8" />
<line x1="102.10" y1="818.10" x2="102.10" y2="830.40" stroke="#555" stroke-width="0.8" />
<line x1="100.50" y1="818.10" x2="103.70" y2="818.10" stroke="#555" stroke-width="0.8" />
<line x1="100.50" y1="830.40" x2="103.70" y2="830.40" stroke="#555" stroke-width="0.8" />
<line x1="55.00" y1="775.90" x2="55.00" y2="888.80" stroke="#222" stroke-width="1.0" />
<line x1="54.50" y1="888.30" x2="108.60" y2="888.30" stroke="#222" stroke-width="1.0" />
<line x1="55.00" y1="776.30" x2="56.80" y2="776.30" stroke="#222" stroke-width="1.0" />
<text x="48.70" y="778.80" font-size="6.8" fill="#111" text-anchor="end" >1</text>
<line x1="55.00" y1="832.30" x2="56.80" y2="832.30" stroke="#222" stroke-width="1.0" />
<text x="48.70" y="834.80" font-size="6.8" fill="#111" text-anchor="end" >0.1</text>
<line x1="55.00" y1="888.30" x2="56.80" y2="888.30" stroke="#222" stroke-width="1.0" />
<text x="48.70" y="890.80" font-size="6.8" fill="#111" text-anchor="end" >0.01</text>
<text x="61.70" y="899.10" font-size="6.8" fill="#111" text-anchor="middle" >P0</text>
<text x="75.30" y="899.10" font-size="6.8" fill="#111" text-anchor="middle" >P3</text>
<text x="88.60" y="899.10" font-size="6.8" fill="#111" text-anchor="middle" >P6</text>
<text x="102.10" y="899.10" font-size="6.8" fill="#111" text-anchor="middle" >P9</text>
<text x="75.30" y="814.25" font-size="16.5" fill="#111" text-anchor="middle" >*</text>
<text x="88.60" y="814.25" font-size="16.5" fill="#111" text-anchor="middle" >*</text>
<text x="102.10" y="814.25" font-size="16.5" fill="#111" text-anchor="middle" >*</text>
<text x="65.40" y="764.00" font-size="10.6" fill="#111" text-anchor="middle" >FOXA2</text>
<text x="0.00" y="0.00" font-size="8.1" fill="#111" text-anchor="middle" transform="translate(29.3 831.3) rotate(-90)" textLength="65.5" lengthAdjust="spacingAndGlyphs">Relative to GAPDH</text>
<rect x="172.60" y="829.10" width="3.80" height="57.30" fill="#5B9BD5" />
<rect x="185.90" y="833.80" width="3.80" height="52.60" fill="#5B9BD5" />
<rect x="199.60" y="845.20" width="3.80" height="41.20" fill="#5B9BD5" />
<rect x="212.90" y="846.20" width="3.80" height="40.20" fill="#5B9BD5" />
<line x1="174.50" y1="822.40" x2="174.50" y2="837.40" stroke="#555" stroke-width="0.8" />
<line x1="172.90" y1="822.40" x2="176.10" y2="822.40" stroke="#555" stroke-width="0.8" />
<line x1="172.90" y1="837.40" x2="176.10" y2="837.40" stroke="#555" stroke-width="0.8" />
<line x1="187.80" y1="830.40" x2="187.80" y2="838.00" stroke="#555" stroke-width="0.8" />
<line x1="186.20" y1="830.40" x2="189.40" y2="830.40" stroke="#555" stroke-width="0.8" />
<line x1="186.20" y1="838.00" x2="189.40" y2="838.00" stroke="#555" stroke-width="0.8" />
<line x1="201.50" y1="838.40" x2="201.50" y2="854.50" stroke="#555" stroke-width="0.8" />
<line x1="199.90" y1="838.40" x2="203.10" y2="838.40" stroke="#555" stroke-width="0.8" />
<line x1="199.90" y1="854.50" x2="203.10" y2="854.50" stroke="#555" stroke-width="0.8" />
<line x1="214.80" y1="842.70" x2="214.80" y2="849.40" stroke="#555" stroke-width="0.8" />
<line x1="213.20" y1="842.70" x2="216.40" y2="842.70" stroke="#555" stroke-width="0.8" />
<line x1="213.20" y1="849.40" x2="216.40" y2="849.40" stroke="#555" stroke-width="0.8" />
<line x1="167.90" y1="774.00" x2="167.90" y2="886.90" stroke="#222" stroke-width="1.0" />
<line x1="167.40" y1="886.40" x2="221.00" y2="886.40" stroke="#222" stroke-width="1.0" />
<line x1="167.90" y1="774.40" x2="169.70" y2="774.40" stroke="#222" stroke-width="1.0" />
<text x="161.60" y="776.90" font-size="6.8" fill="#111" text-anchor="end" >1</text>
<line x1="167.90" y1="830.40" x2="169.70" y2="830.40" stroke="#222" stroke-width="1.0" />
<text x="161.60" y="832.90" font-size="6.8" fill="#111" text-anchor="end" >0.1</text>
<line x1="167.90" y1="886.40" x2="169.70" y2="886.40" stroke="#222" stroke-width="1.0" />
<text x="161.60" y="888.90" font-size="6.8" fill="#111" text-anchor="end" >0.01</text>
<text x="174.50" y="897.80" font-size="6.8" fill="#111" text-anchor="middle" >P0</text>
<text x="187.80" y="897.80" font-size="6.8" fill="#111" text-anchor="middle" >P3</text>
<text x="201.50" y="897.80" font-size="6.8" fill="#111" text-anchor="middle" >P6</text>
<text x="214.80" y="897.80" font-size="6.8" fill="#111" text-anchor="middle" >P9</text>
<text x="201.50" y="836.45" font-size="16.5" fill="#111" text-anchor="middle" >*</text>
<text x="214.80" y="836.45" font-size="16.5" fill="#111" text-anchor="middle" >*</text>
<text x="178.50" y="762.10" font-size="10.6" fill="#111" text-anchor="middle" >HNF1B</text>
<text x="0.00" y="0.00" font-size="8.1" fill="#111" text-anchor="middle" transform="translate(141.2 828.9) rotate(-90)" textLength="65.5" lengthAdjust="spacingAndGlyphs">Relative to GAPDH</text>
<rect x="285.50" y="809.10" width="3.80" height="76.90" fill="#5B9BD5" />
<rect x="299.10" y="817.10" width="3.80" height="68.90" fill="#5B9BD5" />
<rect x="312.10" y="844.10" width="3.80" height="41.90" fill="#5B9BD5" />
<rect x="325.30" y="870.60" width="3.80" height="15.40" fill="#5B9BD5" />
<line x1="287.40" y1="805.40" x2="287.40" y2="812.40" stroke="#555" stroke-width="0.8" />
<line x1="285.80" y1="805.40" x2="289.00" y2="805.40" stroke="#555" stroke-width="0.8" />
<line x1="285.80" y1="812.40" x2="289.00" y2="812.40" stroke="#555" stroke-width="0.8" />
<line x1="301.00" y1="803.30" x2="301.00" y2="850.70" stroke="#555" stroke-width="0.8" />
<line x1="299.40" y1="803.30" x2="302.60" y2="803.30" stroke="#555" stroke-width="0.8" />
<line x1="299.40" y1="850.70" x2="302.60" y2="850.70" stroke="#555" stroke-width="0.8" />
<line x1="314.00" y1="831.40" x2="314.00" y2="873.70" stroke="#555" stroke-width="0.8" />
<line x1="312.40" y1="831.40" x2="315.60" y2="831.40" stroke="#555" stroke-width="0.8" />
<line x1="312.40" y1="873.70" x2="315.60" y2="873.70" stroke="#555" stroke-width="0.8" />
<line x1="327.20" y1="863.60" x2="327.20" y2="880.30" stroke="#555" stroke-width="0.8" />
<line x1="325.60" y1="863.60" x2="328.80" y2="863.60" stroke="#555" stroke-width="0.8" />
<line x1="325.60" y1="880.30" x2="328.80" y2="880.30" stroke="#555" stroke-width="0.8" />
<line x1="281.10" y1="773.10" x2="281.10" y2="886.50" stroke="#222" stroke-width="1.0" />
<line x1="280.60" y1="886.00" x2="333.50" y2="886.00" stroke="#222" stroke-width="1.0" />
<line x1="281.10" y1="773.50" x2="282.90" y2="773.50" stroke="#222" stroke-width="1.0" />
<text x="274.80" y="776.00" font-size="6.8" fill="#111" text-anchor="end" >0.1</text>
<line x1="281.10" y1="830.00" x2="282.90" y2="830.00" stroke="#222" stroke-width="1.0" />
<text x="274.80" y="832.50" font-size="6.8" fill="#111" text-anchor="end" >0.01</text>
<line x1="281.10" y1="886.00" x2="282.90" y2="886.00" stroke="#222" stroke-width="1.0" />
<text x="274.80" y="888.50" font-size="6.8" fill="#111" text-anchor="end" >0.001</text>
<text x="287.40" y="897.80" font-size="6.8" fill="#111" text-anchor="middle" >P0</text>
<text x="301.00" y="897.80" font-size="6.8" fill="#111" text-anchor="middle" >P3</text>
<text x="314.00" y="897.80" font-size="6.8" fill="#111" text-anchor="middle" >P6</text>
<text x="327.20" y="897.80" font-size="6.8" fill="#111" text-anchor="middle" >P9</text>
<text x="327.20" y="863.55" font-size="16.5" fill="#111" text-anchor="middle" >*</text>
<text x="289.30" y="761.10" font-size="10.6" fill="#111" text-anchor="middle" >NGN3</text>
<text x="0.00" y="0.00" font-size="8.1" fill="#111" text-anchor="middle" transform="translate(250.6 828.5) rotate(-90)" textLength="65.5" lengthAdjust="spacingAndGlyphs">Relative to GAPDH</text>
<rect x="396.40" y="839.00" width="3.80" height="48.00" fill="#5B9BD5" />
<rect x="409.70" y="829.50" width="3.80" height="57.50" fill="#5B9BD5" />
<rect x="423.00" y="854.10" width="3.80" height="32.90" fill="#5B9BD5" />
<rect x="436.70" y="851.70" width="3.80" height="35.30" fill="#5B9BD5" />
<line x1="398.30" y1="830.80" x2="398.30" y2="850.70" stroke="#555" stroke-width="0.8" />
<line x1="396.70" y1="830.80" x2="399.90" y2="830.80" stroke="#555" stroke-width="0.8" />
<line x1="396.70" y1="850.70" x2="399.90" y2="850.70" stroke="#555" stroke-width="0.8" />
<line x1="411.60" y1="825.30" x2="411.60" y2="835.70" stroke="#555" stroke-width="0.8" />
<line x1="410.00" y1="825.30" x2="413.20" y2="825.30" stroke="#555" stroke-width="0.8" />
<line x1="410.00" y1="835.70" x2="413.20" y2="835.70" stroke="#555" stroke-width="0.8" />
<line x1="424.90" y1="846.50" x2="424.90" y2="865.50" stroke="#555" stroke-width="0.8" />
<line x1="423.30" y1="846.50" x2="426.50" y2="846.50" stroke="#555" stroke-width="0.8" />
<line x1="423.30" y1="865.50" x2="426.50" y2="865.50" stroke="#555" stroke-width="0.8" />
<line x1="438.60" y1="842.20" x2="438.60" y2="867.00" stroke="#555" stroke-width="0.8" />
<line x1="437.00" y1="842.20" x2="440.20" y2="842.20" stroke="#555" stroke-width="0.8" />
<line x1="437.00" y1="867.00" x2="440.20" y2="867.00" stroke="#555" stroke-width="0.8" />
<line x1="391.70" y1="774.00" x2="391.70" y2="887.50" stroke="#222" stroke-width="1.0" />
<line x1="391.20" y1="887.00" x2="445.40" y2="887.00" stroke="#222" stroke-width="1.0" />
<line x1="391.70" y1="774.40" x2="393.50" y2="774.40" stroke="#222" stroke-width="1.0" />
<text x="385.40" y="776.90" font-size="6.8" fill="#111" text-anchor="end" >0.1</text>
<line x1="391.70" y1="830.80" x2="393.50" y2="830.80" stroke="#222" stroke-width="1.0" />
<text x="385.40" y="833.30" font-size="6.8" fill="#111" text-anchor="end" >0.01</text>
<line x1="391.70" y1="887.00" x2="393.50" y2="887.00" stroke="#222" stroke-width="1.0" />
<text x="385.40" y="889.50" font-size="6.8" fill="#111" text-anchor="end" >0.001</text>
<text x="398.30" y="899.00" font-size="6.8" fill="#111" text-anchor="middle" >P0</text>
<text x="411.60" y="899.00" font-size="6.8" fill="#111" text-anchor="middle" >F3</text>
<text x="424.90" y="899.00" font-size="6.8" fill="#111" text-anchor="middle" >P6</text>
<text x="438.60" y="899.00" font-size="6.8" fill="#111" text-anchor="middle" >P9</text>
<text x="400.50" y="762.50" font-size="10.6" fill="#111" text-anchor="middle" >HNF6</text>
<text x="0.00" y="0.00" font-size="8.1" fill="#111" text-anchor="middle" transform="translate(361.6 829.6) rotate(-90)" textLength="65.5" lengthAdjust="spacingAndGlyphs">Relative to GAPDH</text>
<rect x="517.20" y="839.30" width="3.80" height="48.00" fill="#5B9BD5" />
<rect x="527.90" y="794.00" width="3.80" height="93.30" fill="#5B9BD5" />
<rect x="538.70" y="804.80" width="3.80" height="82.50" fill="#5B9BD5" />
<rect x="549.10" y="814.30" width="3.80" height="73.00" fill="#5B9BD5" />
<line x1="519.10" y1="837.40" x2="519.10" y2="840.80" stroke="#555" stroke-width="0.8" />
<line x1="517.50" y1="837.40" x2="520.70" y2="837.40" stroke="#555" stroke-width="0.8" />
<line x1="517.50" y1="840.80" x2="520.70" y2="840.80" stroke="#555" stroke-width="0.8" />
<line x1="529.80" y1="786.40" x2="529.80" y2="817.10" stroke="#555" stroke-width="0.8" />
<line x1="528.20" y1="786.40" x2="531.40" y2="786.40" stroke="#555" stroke-width="0.8" />
<line x1="528.20" y1="817.10" x2="531.40" y2="817.10" stroke="#555" stroke-width="0.8" />
<line x1="540.60" y1="796.20" x2="540.60" y2="860.80" stroke="#555" stroke-width="0.8" />
<line x1="539.00" y1="796.20" x2="542.20" y2="796.20" stroke="#555" stroke-width="0.8" />
<line x1="539.00" y1="860.80" x2="542.20" y2="860.80" stroke="#555" stroke-width="0.8" />
<line x1="551.00" y1="810.90" x2="551.00" y2="816.70" stroke="#555" stroke-width="0.8" />
<line x1="549.40" y1="810.90" x2="552.60" y2="810.90" stroke="#555" stroke-width="0.8" />
<line x1="549.40" y1="816.70" x2="552.60" y2="816.70" stroke="#555" stroke-width="0.8" />
<line x1="513.60" y1="775.00" x2="513.60" y2="887.80" stroke="#222" stroke-width="1.0" />
<line x1="513.10" y1="887.30" x2="555.80" y2="887.30" stroke="#222" stroke-width="1.0" />
<line x1="513.60" y1="775.40" x2="515.40" y2="775.40" stroke="#222" stroke-width="1.0" />
<text x="507.30" y="777.90" font-size="6.8" fill="#111" text-anchor="end" >0.01</text>
<line x1="513.60" y1="803.30" x2="515.40" y2="803.30" stroke="#222" stroke-width="1.0" />
<text x="507.30" y="805.80" font-size="6.8" fill="#111" text-anchor="end" >0.001</text>
<line x1="513.60" y1="831.40" x2="515.40" y2="831.40" stroke="#222" stroke-width="1.0" />
<text x="507.30" y="833.90" font-size="6.8" fill="#111" text-anchor="end" >0.0001</text>
<line x1="513.60" y1="859.80" x2="515.40" y2="859.80" stroke="#222" stroke-width="1.0" />
<text x="507.30" y="862.30" font-size="6.8" fill="#111" text-anchor="end" >0.00001</text>
<line x1="513.60" y1="887.30" x2="515.40" y2="887.30" stroke="#222" stroke-width="1.0" />
<text x="507.30" y="889.80" font-size="6.8" fill="#111" text-anchor="end" >0.000001</text>
<text x="519.10" y="899.10" font-size="6.8" fill="#111" text-anchor="middle" >P0</text>
<text x="529.80" y="899.10" font-size="6.8" fill="#111" text-anchor="middle" >P3</text>
<text x="540.60" y="899.10" font-size="6.8" fill="#111" text-anchor="middle" >P6</text>
<text x="551.00" y="899.10" font-size="6.8" fill="#111" text-anchor="middle" >P9</text>
<text x="511.70" y="763.40" font-size="10.6" fill="#111" text-anchor="middle" >PTF1A</text>
<text x="0.00" y="0.00" font-size="8.1" fill="#111" text-anchor="middle" transform="translate(472.5 830.4) rotate(-90)" textLength="65.5" lengthAdjust="spacingAndGlyphs">Relative to GAPDH</text>
<rect x="616.70" y="839.00" width="3.80" height="51.20" fill="#5B9BD5" />
<rect x="630.00" y="820.90" width="3.80" height="69.30" fill="#5B9BD5" />
<rect x="642.90" y="839.00" width="3.80" height="51.20" fill="#5B9BD5" />
<rect x="656.00" y="855.10" width="3.80" height="35.10" fill="#5B9BD5" />
<line x1="618.60" y1="830.00" x2="618.60" y2="852.60" stroke="#555" stroke-width="0.8" />
<line x1="617.00" y1="830.00" x2="620.20" y2="830.00" stroke="#555" stroke-width="0.8" />
<line x1="617.00" y1="852.60" x2="620.20" y2="852.60" stroke="#555" stroke-width="0.8" />
<line x1="631.90" y1="807.30" x2="631.90" y2="851.30" stroke="#555" stroke-width="0.8" />
<line x1="630.30" y1="807.30" x2="633.50" y2="807.30" stroke="#555" stroke-width="0.8" />
<line x1="630.30" y1="851.30" x2="633.50" y2="851.30" stroke="#555" stroke-width="0.8" />
<line x1="644.80" y1="825.30" x2="644.80" y2="871.20" stroke="#555" stroke-width="0.8" />
<line x1="643.20" y1="825.30" x2="646.40" y2="825.30" stroke="#555" stroke-width="0.8" />
<line x1="643.20" y1="871.20" x2="646.40" y2="871.20" stroke="#555" stroke-width="0.8" />
<line x1="657.90" y1="848.40" x2="657.90" y2="865.10" stroke="#555" stroke-width="0.8" />
<line x1="656.30" y1="848.40" x2="659.50" y2="848.40" stroke="#555" stroke-width="0.8" />
<line x1="656.30" y1="865.10" x2="659.50" y2="865.10" stroke="#555" stroke-width="0.8" />
<line x1="612.00" y1="777.80" x2="612.00" y2="890.70" stroke="#222" stroke-width="1.0" />
<line x1="611.50" y1="890.20" x2="663.80" y2="890.20" stroke="#222" stroke-width="1.0" />
<line x1="612.00" y1="778.20" x2="613.80" y2="778.20" stroke="#222" stroke-width="1.0" />
<text x="605.70" y="780.70" font-size="6.8" fill="#111" text-anchor="end" >0.1</text>
<line x1="612.00" y1="834.20" x2="613.80" y2="834.20" stroke="#222" stroke-width="1.0" />
<text x="605.70" y="836.70" font-size="6.8" fill="#111" text-anchor="end" >0.01</text>
<line x1="612.00" y1="890.20" x2="613.80" y2="890.20" stroke="#222" stroke-width="1.0" />
<text x="605.70" y="892.70" font-size="6.8" fill="#111" text-anchor="end" >0.001</text>
<text x="618.60" y="901.60" font-size="6.8" fill="#111" text-anchor="middle" >P0</text>
<text x="631.90" y="901.60" font-size="6.8" fill="#111" text-anchor="middle" >P3</text>
<text x="644.80" y="901.60" font-size="6.8" fill="#111" text-anchor="middle" >P6</text>
<text x="657.90" y="901.60" font-size="6.8" fill="#111" text-anchor="middle" >P9</text>
<text x="620.00" y="765.90" font-size="10.6" fill="#111" text-anchor="middle" >NKX2-2</text>
<text x="0.00" y="0.00" font-size="8.1" fill="#111" text-anchor="middle" transform="translate(582.4 832.7) rotate(-90)" textLength="65.5" lengthAdjust="spacingAndGlyphs">Relative to GAPDH</text>
<rect x="34.7" y="335.0" width="78.7" height="71.2" fill="#fff"/>
<g clip-path="url(#fc1)">
<g transform="translate(68.0 379.5) rotate(-40)" filter="url(#fsoft)"><ellipse rx="12.00" ry="5.60" fill="#a4a8f2" opacity="0.3"/><ellipse rx="9.00" ry="4.20" fill="#4660e2" opacity="0.8"/><ellipse rx="7.20" ry="3.36" fill="#2a6ee4" opacity="1"/><ellipse rx="5.88" ry="2.74" fill="#22a0d0" opacity="1"/><ellipse rx="4.44" ry="2.07" fill="#2cb890" opacity="1"/><ellipse rx="3.00" ry="1.40" fill="#48c048" opacity="1"/><ellipse rx="1.56" ry="0.73" fill="#b0c830" opacity="1"/></g><path fill="#2a4ad8" d="M61.7 382.7h1v1h-1zM62.9 383.3h1v1h-1zM63.1 379.3h1v1h-1zM71.7 375.0h1v1h-1zM62.0 380.0h1v1h-1zM62.3 382.6h1v1h-1zM72.8 373.9h1v1h-1zM66.7 375.7h1v1h-1zM66.5 384.6h1v1h-1zM67.3 383.5h1v1h-1zM74.4 376.4h1v1h-1zM62.2 382.2h1v1h-1zM71.0 382.3h1v1h-1zM72.3 373.1h1v1h-1zM62.0 384.8h1v1h-1zM64.6 385.0h1v1h-1zM60.7 382.8h1v1h-1zM74.9 373.8h1v1h-1zM74.2 377.3h1v1h-1zM74.2 374.0h1v1h-1zM62.9 385.0h1v1h-1zM62.0 384.5h1v1h-1zM64.0 378.5h1v1h-1zM68.8 374.4h1v1h-1zM71.7 380.2h1v1h-1zM63.3 378.5h1v1h-1z"/><path fill="#2aa0d8" d="M64.0 381.4h1v1h-1zM65.1 379.8h1v1h-1zM65.9 383.7h1v1h-1zM71.0 377.1h1v1h-1zM71.5 379.2h1v1h-1zM69.0 376.7h1v1h-1zM65.3 383.5h1v1h-1zM70.2 379.7h1v1h-1zM65.2 382.6h1v1h-1zM64.8 382.4h1v1h-1zM71.6 379.1h1v1h-1zM72.3 375.5h1v1h-1zM65.5 379.5h1v1h-1zM71.9 377.6h1v1h-1zM63.3 382.2h1v1h-1zM64.3 380.4h1v1h-1z"/><path fill="#a8aaf2" d="M68.3 371.7h1v1h-1zM73.3 385.9h1v1h-1zM81.8 366.6h1v1h-1zM63.6 390.2h1v1h-1zM56.7 384.7h1v1h-1zM57.9 388.1h1v1h-1zM76.4 379.3h1v1h-1zM58.7 380.8h1v1h-1zM56.5 393.3h1v1h-1zM61.7 375.5h1v1h-1zM57.0 380.9h1v1h-1zM67.8 369.1h1v1h-1zM59.7 389.9h1v1h-1zM61.3 376.1h1v1h-1zM81.0 371.3h1v1h-1zM64.0 371.7h1v1h-1zM55.0 384.8h1v1h-1zM79.5 369.8h1v1h-1zM56.5 383.4h1v1h-1z"/><path fill="#2ab070" d="M69.7 378.1h1v1h-1zM66.3 380.0h1v1h-1zM66.4 381.4h1v1h-1zM67.0 381.0h1v1h-1zM65.2 380.6h1v1h-1zM67.4 378.0h1v1h-1zM65.9 380.3h1v1h-1zM67.0 380.9h1v1h-1zM70.6 377.9h1v1h-1zM69.6 380.1h1v1h-1z"/><path fill="#5a6ae6" d="M70.5 372.8h1v1h-1zM61.9 378.7h1v1h-1zM77.1 377.5h1v1h-1zM67.8 384.8h1v1h-1zM69.8 384.0h1v1h-1zM76.8 372.3h1v1h-1zM71.3 372.0h1v1h-1zM59.6 382.0h1v1h-1zM61.2 380.7h1v1h-1zM59.9 387.9h1v1h-1zM62.3 387.3h1v1h-1zM65.2 386.5h1v1h-1zM71.3 372.1h1v1h-1z"/>
<g transform="translate(59.0 397.5) rotate(-10)" filter="url(#fsoft)"><ellipse rx="9.20" ry="5.00" fill="#a4a8f2" opacity="0.3"/><ellipse rx="6.90" ry="3.75" fill="#4660e2" opacity="0.8"/><ellipse rx="5.52" ry="3.00" fill="#2a6ee4" opacity="1"/><ellipse rx="4.51" ry="2.45" fill="#22a0d0" opacity="1"/><ellipse rx="3.40" ry="1.85" fill="#2cb890" opacity="1"/><ellipse rx="2.30" ry="1.25" fill="#48c048" opacity="1"/><ellipse rx="1.20" ry="0.65" fill="#b0c830" opacity="1"/></g><path fill="#5a6ae6" d="M52.5 399.8h1v1h-1zM51.7 398.6h1v1h-1zM54.1 394.9h1v1h-1zM51.2 398.4h1v1h-1zM51.0 398.9h1v1h-1zM62.9 392.8h1v1h-1zM66.2 398.1h1v1h-1zM67.7 394.8h1v1h-1zM63.0 401.4h1v1h-1zM64.9 399.7h1v1h-1zM63.2 393.3h1v1h-1zM65.4 398.5h1v1h-1zM60.0 401.4h1v1h-1zM64.0 393.8h1v1h-1z"/><path fill="#2a4ad8" d="M64.1 395.0h1v1h-1zM62.2 400.3h1v1h-1zM63.1 398.2h1v1h-1zM65.1 397.1h1v1h-1zM59.0 394.4h1v1h-1zM61.6 394.6h1v1h-1zM63.9 394.8h1v1h-1zM64.4 396.2h1v1h-1zM63.4 398.1h1v1h-1zM53.3 397.3h1v1h-1zM63.6 398.8h1v1h-1zM60.8 400.1h1v1h-1zM59.2 394.8h1v1h-1zM55.3 400.6h1v1h-1zM64.9 395.6h1v1h-1z"/><path fill="#a8aaf2" d="M51.7 394.8h1v1h-1zM67.8 398.9h1v1h-1zM72.8 394.2h1v1h-1zM49.6 401.3h1v1h-1zM76.9 394.2h1v1h-1zM68.9 394.2h1v1h-1zM68.5 394.8h1v1h-1zM56.2 404.0h1v1h-1zM73.2 400.4h1v1h-1zM48.8 396.5h1v1h-1zM66.9 393.0h1v1h-1zM56.9 390.7h1v1h-1zM64.6 403.6h1v1h-1z"/><path fill="#2ab070" d="M58.3 396.8h1v1h-1zM59.6 397.8h1v1h-1zM57.1 397.6h1v1h-1zM58.7 398.7h1v1h-1zM60.6 397.8h1v1h-1zM58.6 398.7h1v1h-1zM56.9 398.6h1v1h-1z"/><path fill="#2aa0d8" d="M60.8 399.3h1v1h-1zM54.9 398.9h1v1h-1zM57.8 399.7h1v1h-1zM62.7 396.8h1v1h-1zM59.4 395.1h1v1h-1zM62.3 398.5h1v1h-1zM59.7 395.6h1v1h-1zM60.4 399.6h1v1h-1zM60.4 399.6h1v1h-1zM60.6 398.8h1v1h-1zM59.3 399.4h1v1h-1z"/>
</g>
<line x1="50.70" y1="335.00" x2="50.70" y2="406.20" stroke="#a0a0a0" stroke-width="0.7" />
<line x1="34.70" y1="391.30" x2="113.40" y2="391.30" stroke="#a0a0a0" stroke-width="0.7" />
<rect x="34.7" y="335.0" width="78.7" height="71.2" fill="none" stroke="#6e6e6e" stroke-width="1.0"/>
<line x1="34.70" y1="335.00" x2="34.70" y2="406.20" stroke="#5e5e5e" stroke-width="1.5" />
<line x1="34.70" y1="406.20" x2="113.40" y2="406.20" stroke="#5e5e5e" stroke-width="1.5" />
<path d="M33.1 341.7H34.7M33.8 337.4H34.7M33.1 355.9H34.7M33.8 351.6H34.7M33.8 349.1H34.7M33.8 347.4H34.7M33.8 346.0H34.7M33.8 344.9H34.7M33.8 343.9H34.7M33.8 343.1H34.7M33.8 342.3H34.7M33.1 370.1H34.7M33.8 365.8H34.7M33.8 363.3H34.7M33.8 361.6H34.7M33.8 360.2H34.7M33.8 359.1H34.7M33.8 358.1H34.7M33.8 357.3H34.7M33.8 356.5H34.7M33.1 384.3H34.7M33.8 380.0H34.7M33.8 377.5H34.7M33.8 375.8H34.7M33.8 374.4H34.7M33.8 373.3H34.7M33.8 372.3H34.7M33.8 371.5H34.7M33.8 370.7H34.7M33.1 398.5H34.7M33.8 394.2H34.7M33.8 391.7H34.7M33.8 390.0H34.7M33.8 388.6H34.7M33.8 387.5H34.7M33.8 386.5H34.7M33.8 385.7H34.7M33.8 384.9H34.7M33.8 405.9H34.7M33.8 404.2H34.7M33.8 402.8H34.7M33.8 401.7H34.7M33.8 400.7H34.7M33.8 399.9H34.7M33.8 399.1H34.7M36.6 406.2V407.1M38.4 406.2V407.1M39.8 406.2V407.1M41.0 406.2V407.1M42.0 406.2V407.1M42.8 406.2V407.1M43.5 406.2V407.1M44.2 406.2V407.8M48.6 406.2V407.1M51.1 406.2V407.1M52.9 406.2V407.1M54.3 406.2V407.1M55.5 406.2V407.1M56.5 406.2V407.1M57.3 406.2V407.1M58.0 406.2V407.1M58.7 406.2V407.8M63.1 406.2V407.1M65.6 406.2V407.1M67.4 406.2V407.1M68.8 406.2V407.1M70.0 406.2V407.1M71.0 406.2V407.1M71.8 406.2V407.1M72.5 406.2V407.1M73.2 406.2V407.8M77.6 406.2V407.1M80.1 406.2V407.1M81.9 406.2V407.1M83.3 406.2V407.1M84.5 406.2V407.1M85.5 406.2V407.1M86.3 406.2V407.1M87.0 406.2V407.1M87.7 406.2V407.8M92.1 406.2V407.1M94.6 406.2V407.1M96.4 406.2V407.1M97.8 406.2V407.1M99.0 406.2V407.1M100.0 406.2V407.1M100.8 406.2V407.1M101.5 406.2V407.1M102.2 406.2V407.8M106.6 406.2V407.1M109.1 406.2V407.1M110.9 406.2V407.1M112.3 406.2V407.1" stroke="#555" stroke-width="0.6" fill="none"/>
<text x="32.3" y="343.1" font-size="4.4" fill="#666" text-anchor="end">10<tspan font-size="3.0" dy="-1.7">5</tspan></text>
<text x="32.3" y="357.3" font-size="4.4" fill="#666" text-anchor="end">10<tspan font-size="3.0" dy="-1.7">4</tspan></text>
<text x="32.3" y="371.5" font-size="4.4" fill="#666" text-anchor="end">10<tspan font-size="3.0" dy="-1.7">3</tspan></text>
<text x="32.3" y="385.7" font-size="4.4" fill="#666" text-anchor="end">10<tspan font-size="3.0" dy="-1.7">2</tspan></text>
<text x="32.3" y="399.9" font-size="4.4" fill="#666" text-anchor="end">10<tspan font-size="3.0" dy="-1.7">1</tspan></text>
<text x="44.2" y="415.4" font-size="4.4" fill="#666" text-anchor="middle">10<tspan font-size="3.0" dy="-1.7">1</tspan></text>
<text x="58.7" y="415.4" font-size="4.4" fill="#666" text-anchor="middle">10<tspan font-size="3.0" dy="-1.7">2</tspan></text>
<text x="73.2" y="415.4" font-size="4.4" fill="#666" text-anchor="middle">10<tspan font-size="3.0" dy="-1.7">3</tspan></text>
<text x="87.7" y="415.4" font-size="4.4" fill="#666" text-anchor="middle">10<tspan font-size="3.0" dy="-1.7">4</tspan></text>
<text x="102.2" y="415.4" font-size="4.4" fill="#666" text-anchor="middle">10<tspan font-size="3.0" dy="-1.7">5</tspan></text>
<text x="87.80" y="343.20" font-size="7.0" fill="#222" text-anchor="start" >Q2</text>
<text x="87.80" y="351.70" font-size="7.0" fill="#222" text-anchor="start" >57.17%</text>
<text x="87.80" y="393.30" font-size="7.0" fill="#222" text-anchor="start" >Q3</text>
<text x="87.80" y="402.30" font-size="7.0" fill="#222" text-anchor="start" >34.89%</text>
<text x="36.5" y="338.6" font-size="3.2" fill="#555">Q1</text>
<text x="36.5" y="342.2" font-size="3.2" fill="#555">0.31</text>
<text x="36.5" y="400.8" font-size="3.2" fill="#555">Q4</text>
<text x="36.5" y="404.4" font-size="3.2" fill="#555">7.63</text>
<rect x="125.8" y="334.8" width="78.4" height="71.0" fill="#fff"/>
<g clip-path="url(#fc2)">
<g transform="translate(153.0 381.5) rotate(-38)" filter="url(#fsoft)"><ellipse rx="13.00" ry="6.00" fill="#a4a8f2" opacity="0.3"/><ellipse rx="9.75" ry="4.50" fill="#4660e2" opacity="0.8"/><ellipse rx="7.80" ry="3.60" fill="#2a6ee4" opacity="1"/><ellipse rx="6.37" ry="2.94" fill="#22a0d0" opacity="1"/><ellipse rx="4.81" ry="2.22" fill="#2cb890" opacity="1"/><ellipse rx="3.25" ry="1.50" fill="#48c048" opacity="1"/><ellipse rx="1.69" ry="0.78" fill="#b0c830" opacity="1"/></g><path fill="#5a6ae6" d="M158.9 373.0h1v1h-1zM155.6 385.9h1v1h-1zM146.6 389.3h1v1h-1zM161.4 377.8h1v1h-1zM159.6 382.9h1v1h-1zM154.4 387.3h1v1h-1zM163.0 374.7h1v1h-1zM161.2 380.1h1v1h-1zM160.6 380.9h1v1h-1zM156.6 373.4h1v1h-1zM161.0 375.1h1v1h-1zM142.0 388.6h1v1h-1zM162.7 376.2h1v1h-1zM153.2 386.9h1v1h-1zM157.6 373.6h1v1h-1zM159.2 382.7h1v1h-1zM159.6 372.8h1v1h-1zM163.8 375.0h1v1h-1zM144.7 384.4h1v1h-1zM162.5 376.1h1v1h-1z"/><path fill="#a8aaf2" d="M149.6 374.3h1v1h-1zM160.8 370.2h1v1h-1zM140.1 399.3h1v1h-1zM164.6 381.5h1v1h-1zM138.0 398.8h1v1h-1zM145.6 376.1h1v1h-1zM145.6 392.3h1v1h-1zM155.4 388.9h1v1h-1zM145.8 395.8h1v1h-1zM146.3 392.0h1v1h-1zM138.4 391.0h1v1h-1zM136.0 391.3h1v1h-1zM153.9 389.3h1v1h-1zM170.7 375.2h1v1h-1zM156.7 386.8h1v1h-1z"/><path fill="#2aa0d8" d="M149.0 383.4h1v1h-1zM155.5 381.5h1v1h-1zM154.5 377.8h1v1h-1zM157.7 380.4h1v1h-1zM150.7 385.4h1v1h-1zM155.9 382.3h1v1h-1zM148.5 383.5h1v1h-1zM150.8 380.4h1v1h-1zM151.2 385.8h1v1h-1zM152.0 378.6h1v1h-1z"/><path fill="#2a4ad8" d="M158.5 379.6h1v1h-1zM158.6 375.6h1v1h-1zM156.2 382.8h1v1h-1zM156.6 376.5h1v1h-1zM153.0 376.5h1v1h-1zM148.3 382.1h1v1h-1zM146.2 383.9h1v1h-1zM146.0 385.3h1v1h-1zM145.5 383.9h1v1h-1zM148.3 381.9h1v1h-1zM159.7 379.7h1v1h-1zM148.7 381.6h1v1h-1zM157.0 383.7h1v1h-1zM146.9 381.4h1v1h-1zM158.0 380.6h1v1h-1zM156.3 376.8h1v1h-1zM151.0 386.0h1v1h-1zM146.8 383.2h1v1h-1zM155.9 376.2h1v1h-1zM155.1 376.2h1v1h-1zM155.3 376.8h1v1h-1zM158.4 377.0h1v1h-1z"/><path fill="#2ab070" d="M155.9 379.7h1v1h-1zM153.4 381.9h1v1h-1zM152.2 384.0h1v1h-1zM153.7 379.1h1v1h-1zM153.2 381.2h1v1h-1zM152.5 383.4h1v1h-1zM152.0 380.3h1v1h-1zM153.8 382.8h1v1h-1zM154.5 380.6h1v1h-1zM154.4 380.5h1v1h-1zM152.6 381.9h1v1h-1zM150.8 381.3h1v1h-1zM150.5 383.9h1v1h-1zM155.0 379.1h1v1h-1zM154.2 382.0h1v1h-1zM155.5 381.0h1v1h-1zM153.1 380.6h1v1h-1z"/>
<g transform="translate(146.5 400.0) rotate(-20)" filter="url(#fsoft)"><ellipse rx="7.60" ry="5.20" fill="#a4a8f2" opacity="0.3"/><ellipse rx="5.70" ry="3.90" fill="#4660e2" opacity="0.8"/><ellipse rx="4.56" ry="3.12" fill="#2a6ee4" opacity="1"/><ellipse rx="3.72" ry="2.55" fill="#22a0d0" opacity="1"/><ellipse rx="2.81" ry="1.92" fill="#2cb890" opacity="1"/><ellipse rx="1.90" ry="1.30" fill="#48c048" opacity="1"/><ellipse rx="0.99" ry="0.68" fill="#b0c830" opacity="1"/></g><path fill="#5a6ae6" d="M151.2 402.6h1v1h-1zM153.5 397.4h1v1h-1zM149.6 395.6h1v1h-1zM141.7 403.0h1v1h-1zM144.9 394.9h1v1h-1zM139.6 399.9h1v1h-1zM139.2 400.9h1v1h-1zM149.0 403.6h1v1h-1zM140.4 400.6h1v1h-1zM144.4 404.4h1v1h-1z"/><path fill="#2a4ad8" d="M142.3 398.7h1v1h-1zM147.1 396.1h1v1h-1zM150.6 398.6h1v1h-1zM150.4 399.2h1v1h-1zM150.1 397.7h1v1h-1zM144.8 403.8h1v1h-1zM150.8 401.0h1v1h-1zM143.6 402.8h1v1h-1zM142.8 402.3h1v1h-1zM150.7 398.4h1v1h-1zM141.5 401.9h1v1h-1z"/><path fill="#a8aaf2" d="M150.0 404.5h1v1h-1zM152.6 402.8h1v1h-1zM155.2 402.2h1v1h-1zM155.0 395.5h1v1h-1zM153.4 394.3h1v1h-1zM140.5 391.9h1v1h-1zM142.8 407.5h1v1h-1z"/><path fill="#2aa0d8" d="M143.3 401.1h1v1h-1zM146.6 397.6h1v1h-1zM148.0 397.6h1v1h-1zM146.3 397.8h1v1h-1zM147.2 397.8h1v1h-1zM148.2 401.2h1v1h-1z"/><path fill="#2ab070" d="M144.9 399.9h1v1h-1zM146.9 400.8h1v1h-1zM144.4 400.8h1v1h-1zM147.2 400.6h1v1h-1zM148.4 399.5h1v1h-1zM146.3 401.5h1v1h-1z"/>
</g>
<line x1="141.60" y1="334.80" x2="141.60" y2="405.80" stroke="#a0a0a0" stroke-width="0.7" />
<line x1="125.80" y1="391.30" x2="204.20" y2="391.30" stroke="#a0a0a0" stroke-width="0.7" />
<rect x="125.8" y="334.8" width="78.4" height="71.0" fill="none" stroke="#6e6e6e" stroke-width="1.0"/>
<line x1="125.80" y1="334.80" x2="125.80" y2="405.80" stroke="#5e5e5e" stroke-width="1.5" />
<line x1="125.80" y1="405.80" x2="204.20" y2="405.80" stroke="#5e5e5e" stroke-width="1.5" />
<path d="M124.2 341.5H125.8M124.9 337.2H125.8M124.2 355.7H125.8M124.9 351.4H125.8M124.9 348.9H125.8M124.9 347.2H125.8M124.9 345.8H125.8M124.9 344.7H125.8M124.9 343.7H125.8M124.9 342.9H125.8M124.9 342.1H125.8M124.2 369.9H125.8M124.9 365.6H125.8M124.9 363.1H125.8M124.9 361.4H125.8M124.9 360.0H125.8M124.9 358.9H125.8M124.9 357.9H125.8M124.9 357.1H125.8M124.9 356.3H125.8M124.2 384.1H125.8M124.9 379.8H125.8M124.9 377.3H125.8M124.9 375.6H125.8M124.9 374.2H125.8M124.9 373.1H125.8M124.9 372.1H125.8M124.9 371.3H125.8M124.9 370.5H125.8M124.2 398.3H125.8M124.9 394.0H125.8M124.9 391.5H125.8M124.9 389.8H125.8M124.9 388.4H125.8M124.9 387.3H125.8M124.9 386.3H125.8M124.9 385.5H125.8M124.9 384.7H125.8M124.9 405.7H125.8M124.9 404.0H125.8M124.9 402.6H125.8M124.9 401.5H125.8M124.9 400.5H125.8M124.9 399.7H125.8M124.9 398.9H125.8M127.7 405.8V406.7M129.5 405.8V406.7M130.9 405.8V406.7M132.1 405.8V406.7M133.1 405.8V406.7M133.9 405.8V406.7M134.6 405.8V406.7M135.3 405.8V407.4M139.7 405.8V406.7M142.2 405.8V406.7M144.0 405.8V406.7M145.4 405.8V406.7M146.6 405.8V406.7M147.6 405.8V406.7M148.4 405.8V406.7M149.1 405.8V406.7M149.8 405.8V407.4M154.2 405.8V406.7M156.7 405.8V406.7M158.5 405.8V406.7M159.9 405.8V406.7M161.1 405.8V406.7M162.1 405.8V406.7M162.9 405.8V406.7M163.6 405.8V406.7M164.3 405.8V407.4M168.7 405.8V406.7M171.2 405.8V406.7M173.0 405.8V406.7M174.4 405.8V406.7M175.6 405.8V406.7M176.6 405.8V406.7M177.4 405.8V406.7M178.1 405.8V406.7M178.8 405.8V407.4M183.2 405.8V406.7M185.7 405.8V406.7M187.5 405.8V406.7M188.9 405.8V406.7M190.1 405.8V406.7M191.1 405.8V406.7M191.9 405.8V406.7M192.6 405.8V406.7M193.3 405.8V407.4M197.7 405.8V406.7M200.2 405.8V406.7M202.0 405.8V406.7M203.4 405.8V406.7" stroke="#555" stroke-width="0.6" fill="none"/>
<text x="123.4" y="342.9" font-size="4.4" fill="#666" text-anchor="end">10<tspan font-size="3.0" dy="-1.7">5</tspan></text>
<text x="123.4" y="357.1" font-size="4.4" fill="#666" text-anchor="end">10<tspan font-size="3.0" dy="-1.7">4</tspan></text>
<text x="123.4" y="371.3" font-size="4.4" fill="#666" text-anchor="end">10<tspan font-size="3.0" dy="-1.7">3</tspan></text>
<text x="123.4" y="385.5" font-size="4.4" fill="#666" text-anchor="end">10<tspan font-size="3.0" dy="-1.7">2</tspan></text>
<text x="123.4" y="399.7" font-size="4.4" fill="#666" text-anchor="end">10<tspan font-size="3.0" dy="-1.7">1</tspan></text>
<text x="135.3" y="415.0" font-size="4.4" fill="#666" text-anchor="middle">10<tspan font-size="3.0" dy="-1.7">1</tspan></text>
<text x="149.8" y="415.0" font-size="4.4" fill="#666" text-anchor="middle">10<tspan font-size="3.0" dy="-1.7">2</tspan></text>
<text x="164.3" y="415.0" font-size="4.4" fill="#666" text-anchor="middle">10<tspan font-size="3.0" dy="-1.7">3</tspan></text>
<text x="178.8" y="415.0" font-size="4.4" fill="#666" text-anchor="middle">10<tspan font-size="3.0" dy="-1.7">4</tspan></text>
<text x="193.3" y="415.0" font-size="4.4" fill="#666" text-anchor="middle">10<tspan font-size="3.0" dy="-1.7">5</tspan></text>
<text x="178.60" y="343.00" font-size="7.0" fill="#222" text-anchor="start" >Q2</text>
<text x="178.60" y="351.50" font-size="7.0" fill="#222" text-anchor="start" >64.58%</text>
<text x="178.60" y="393.30" font-size="7.0" fill="#222" text-anchor="start" >Q3</text>
<text x="178.60" y="402.30" font-size="7.0" fill="#222" text-anchor="start" >29.20%</text>
<text x="127.6" y="338.4" font-size="3.2" fill="#555">Q1</text>
<text x="127.6" y="342.0" font-size="3.2" fill="#555">1.26</text>
<text x="127.6" y="400.4" font-size="3.2" fill="#555">Q4</text>
<text x="127.6" y="404.0" font-size="3.2" fill="#555">4.97</text>
<rect x="216.6" y="335.2" width="78.2" height="70.8" fill="#fff"/>
<g clip-path="url(#fc3)">
<g transform="translate(238.5 385.0) rotate(-30)" filter="url(#fsoft)"><ellipse rx="14.00" ry="7.20" fill="#a4a8f2" opacity="0.3"/><ellipse rx="10.50" ry="5.40" fill="#4660e2" opacity="0.8"/><ellipse rx="8.40" ry="4.32" fill="#2a6ee4" opacity="1"/><ellipse rx="6.86" ry="3.53" fill="#22a0d0" opacity="1"/><ellipse rx="5.18" ry="2.66" fill="#2cb890" opacity="1"/><ellipse rx="3.50" ry="1.80" fill="#48c048" opacity="1"/><ellipse rx="1.82" ry="0.94" fill="#b0c830" opacity="1"/></g><path fill="#2aa0d8" d="M232.2 387.6h1v1h-1zM241.5 387.0h1v1h-1zM241.3 380.7h1v1h-1zM244.0 383.6h1v1h-1zM240.0 387.9h1v1h-1zM240.8 387.1h1v1h-1zM234.7 387.6h1v1h-1zM233.8 386.3h1v1h-1zM243.2 384.3h1v1h-1zM242.6 384.6h1v1h-1zM242.8 385.4h1v1h-1zM233.4 385.9h1v1h-1zM235.1 384.7h1v1h-1zM234.2 389.6h1v1h-1zM237.9 382.8h1v1h-1zM236.6 383.1h1v1h-1zM233.9 389.3h1v1h-1zM242.9 384.5h1v1h-1zM235.6 387.8h1v1h-1zM235.8 388.5h1v1h-1zM240.7 387.5h1v1h-1zM233.5 385.6h1v1h-1zM243.6 384.1h1v1h-1zM238.2 381.7h1v1h-1zM236.5 382.8h1v1h-1z"/><path fill="#5a6ae6" d="M249.5 380.0h1v1h-1zM232.0 393.0h1v1h-1zM248.4 378.0h1v1h-1zM229.5 382.8h1v1h-1zM227.2 388.5h1v1h-1zM237.0 393.7h1v1h-1zM230.2 394.2h1v1h-1zM245.4 387.6h1v1h-1zM231.8 381.8h1v1h-1zM234.8 380.2h1v1h-1zM238.6 378.1h1v1h-1zM226.6 391.0h1v1h-1zM236.7 392.9h1v1h-1zM248.1 380.8h1v1h-1zM237.9 378.4h1v1h-1zM244.5 387.7h1v1h-1zM232.0 394.5h1v1h-1zM235.6 378.1h1v1h-1zM226.4 392.5h1v1h-1zM232.3 382.6h1v1h-1zM235.5 378.1h1v1h-1zM238.0 391.6h1v1h-1zM232.7 382.0h1v1h-1zM239.1 392.4h1v1h-1zM242.2 377.6h1v1h-1zM248.4 383.7h1v1h-1zM239.3 391.1h1v1h-1zM229.6 384.7h1v1h-1zM248.2 383.9h1v1h-1zM249.5 381.8h1v1h-1zM229.2 385.6h1v1h-1zM249.6 379.5h1v1h-1zM243.4 376.3h1v1h-1zM227.3 385.3h1v1h-1zM234.8 393.6h1v1h-1zM245.8 377.4h1v1h-1zM235.8 393.4h1v1h-1zM242.8 377.7h1v1h-1z"/><path fill="#2a4ad8" d="M246.4 380.0h1v1h-1zM246.6 384.1h1v1h-1zM238.2 390.9h1v1h-1zM246.0 378.7h1v1h-1zM245.4 379.1h1v1h-1zM230.8 389.1h1v1h-1zM234.9 391.0h1v1h-1zM231.3 388.9h1v1h-1zM232.0 385.3h1v1h-1zM234.1 383.0h1v1h-1zM246.4 378.8h1v1h-1zM244.6 384.5h1v1h-1zM240.5 388.8h1v1h-1zM246.7 381.5h1v1h-1zM236.0 391.2h1v1h-1zM241.4 389.1h1v1h-1zM234.5 381.4h1v1h-1zM245.4 385.1h1v1h-1zM244.3 386.1h1v1h-1zM235.8 381.0h1v1h-1zM243.6 378.9h1v1h-1zM245.8 385.1h1v1h-1zM237.7 380.9h1v1h-1zM232.0 388.4h1v1h-1zM238.1 379.7h1v1h-1zM234.2 383.1h1v1h-1zM231.0 388.3h1v1h-1zM231.8 389.5h1v1h-1zM232.4 389.5h1v1h-1zM245.0 380.3h1v1h-1zM245.8 385.4h1v1h-1zM247.0 384.1h1v1h-1zM247.7 380.9h1v1h-1zM234.1 383.1h1v1h-1z"/><path fill="#a8aaf2" d="M261.0 371.4h1v1h-1zM249.5 386.7h1v1h-1zM222.5 387.7h1v1h-1zM252.1 378.5h1v1h-1zM225.0 384.7h1v1h-1zM237.3 394.4h1v1h-1zM223.7 392.7h1v1h-1zM256.2 379.7h1v1h-1zM222.1 395.5h1v1h-1zM229.4 381.6h1v1h-1zM252.2 377.5h1v1h-1zM224.4 393.3h1v1h-1zM241.3 392.7h1v1h-1zM251.2 385.3h1v1h-1zM248.3 374.5h1v1h-1zM223.7 399.6h1v1h-1zM223.5 386.7h1v1h-1zM240.5 375.2h1v1h-1zM255.5 381.6h1v1h-1zM253.1 379.2h1v1h-1zM223.3 391.9h1v1h-1zM223.1 389.7h1v1h-1zM229.6 381.0h1v1h-1zM225.5 386.6h1v1h-1zM256.2 379.8h1v1h-1zM245.5 374.3h1v1h-1zM241.9 391.9h1v1h-1zM240.0 375.9h1v1h-1zM246.3 373.5h1v1h-1zM256.1 390.9h1v1h-1z"/><path fill="#2ab070" d="M239.5 386.4h1v1h-1zM235.7 386.2h1v1h-1zM236.9 387.2h1v1h-1zM235.6 387.4h1v1h-1zM237.2 383.4h1v1h-1zM236.9 385.8h1v1h-1zM239.0 386.9h1v1h-1zM240.8 384.4h1v1h-1zM238.2 384.2h1v1h-1zM236.2 386.8h1v1h-1zM237.8 385.1h1v1h-1zM240.7 382.8h1v1h-1zM237.9 383.8h1v1h-1z"/>
</g>
<line x1="232.00" y1="335.20" x2="232.00" y2="406.00" stroke="#a0a0a0" stroke-width="0.7" />
<line x1="216.60" y1="392.40" x2="294.80" y2="392.40" stroke="#a0a0a0" stroke-width="0.7" />
<rect x="216.6" y="335.2" width="78.2" height="70.8" fill="none" stroke="#6e6e6e" stroke-width="1.0"/>
<line x1="216.60" y1="335.20" x2="216.60" y2="406.00" stroke="#5e5e5e" stroke-width="1.5" />
<line x1="216.60" y1="406.00" x2="294.80" y2="406.00" stroke="#5e5e5e" stroke-width="1.5" />
<path d="M215.0 341.9H216.6M215.7 337.6H216.6M215.0 356.1H216.6M215.7 351.8H216.6M215.7 349.3H216.6M215.7 347.6H216.6M215.7 346.2H216.6M215.7 345.1H216.6M215.7 344.1H216.6M215.7 343.3H216.6M215.7 342.5H216.6M215.0 370.3H216.6M215.7 366.0H216.6M215.7 363.5H216.6M215.7 361.8H216.6M215.7 360.4H216.6M215.7 359.3H216.6M215.7 358.3H216.6M215.7 357.5H216.6M215.7 356.7H216.6M215.0 384.5H216.6M215.7 380.2H216.6M215.7 377.7H216.6M215.7 376.0H216.6M215.7 374.6H216.6M215.7 373.5H216.6M215.7 372.5H216.6M215.7 371.7H216.6M215.7 370.9H216.6M215.0 398.7H216.6M215.7 394.4H216.6M215.7 391.9H216.6M215.7 390.2H216.6M215.7 388.8H216.6M215.7 387.7H216.6M215.7 386.7H216.6M215.7 385.9H216.6M215.7 385.1H216.6M215.7 404.4H216.6M215.7 403.0H216.6M215.7 401.9H216.6M215.7 400.9H216.6M215.7 400.1H216.6M215.7 399.3H216.6M218.5 406.0V406.9M220.3 406.0V406.9M221.7 406.0V406.9M222.9 406.0V406.9M223.9 406.0V406.9M224.7 406.0V406.9M225.4 406.0V406.9M226.1 406.0V407.6M230.5 406.0V406.9M233.0 406.0V406.9M234.8 406.0V406.9M236.2 406.0V406.9M237.4 406.0V406.9M238.4 406.0V406.9M239.2 406.0V406.9M239.9 406.0V406.9M240.6 406.0V407.6M245.0 406.0V406.9M247.5 406.0V406.9M249.3 406.0V406.9M250.7 406.0V406.9M251.9 406.0V406.9M252.9 406.0V406.9M253.7 406.0V406.9M254.4 406.0V406.9M255.1 406.0V407.6M259.5 406.0V406.9M262.0 406.0V406.9M263.8 406.0V406.9M265.2 406.0V406.9M266.4 406.0V406.9M267.4 406.0V406.9M268.2 406.0V406.9M268.9 406.0V406.9M269.6 406.0V407.6M274.0 406.0V406.9M276.5 406.0V406.9M278.3 406.0V406.9M279.7 406.0V406.9M280.9 406.0V406.9M281.9 406.0V406.9M282.7 406.0V406.9M283.4 406.0V406.9M284.1 406.0V407.6M288.5 406.0V406.9M291.0 406.0V406.9M292.8 406.0V406.9M294.2 406.0V406.9" stroke="#555" stroke-width="0.6" fill="none"/>
<text x="214.2" y="343.3" font-size="4.4" fill="#666" text-anchor="end">10<tspan font-size="3.0" dy="-1.7">5</tspan></text>
<text x="214.2" y="357.5" font-size="4.4" fill="#666" text-anchor="end">10<tspan font-size="3.0" dy="-1.7">4</tspan></text>
<text x="214.2" y="371.7" font-size="4.4" fill="#666" text-anchor="end">10<tspan font-size="3.0" dy="-1.7">3</tspan></text>
<text x="214.2" y="385.9" font-size="4.4" fill="#666" text-anchor="end">10<tspan font-size="3.0" dy="-1.7">2</tspan></text>
<text x="214.2" y="400.1" font-size="4.4" fill="#666" text-anchor="end">10<tspan font-size="3.0" dy="-1.7">1</tspan></text>
<text x="226.1" y="415.2" font-size="4.4" fill="#666" text-anchor="middle">10<tspan font-size="3.0" dy="-1.7">1</tspan></text>
<text x="240.6" y="415.2" font-size="4.4" fill="#666" text-anchor="middle">10<tspan font-size="3.0" dy="-1.7">2</tspan></text>
<text x="255.1" y="415.2" font-size="4.4" fill="#666" text-anchor="middle">10<tspan font-size="3.0" dy="-1.7">3</tspan></text>
<text x="269.6" y="415.2" font-size="4.4" fill="#666" text-anchor="middle">10<tspan font-size="3.0" dy="-1.7">4</tspan></text>
<text x="284.1" y="415.2" font-size="4.4" fill="#666" text-anchor="middle">10<tspan font-size="3.0" dy="-1.7">5</tspan></text>
<text x="269.20" y="343.40" font-size="7.0" fill="#222" text-anchor="start" >Q2</text>
<text x="269.20" y="351.90" font-size="7.0" fill="#222" text-anchor="start" >90.23%</text>
<text x="269.20" y="394.40" font-size="7.0" fill="#222" text-anchor="start" >Q3</text>
<text x="269.20" y="403.40" font-size="7.0" fill="#222" text-anchor="start" >3.66%</text>
<text x="218.4" y="338.8" font-size="3.2" fill="#555">Q1</text>
<text x="218.4" y="342.4" font-size="3.2" fill="#555">5.43</text>
<text x="218.4" y="400.6" font-size="3.2" fill="#555">Q4</text>
<text x="218.4" y="404.2" font-size="3.2" fill="#555">0.68</text>
<rect x="309.0" y="335.6" width="79.4" height="71.6" fill="#fff"/>
<g clip-path="url(#fc4)">
<g transform="translate(332.5 385.0) rotate(-32)" filter="url(#fsoft)"><ellipse rx="13.60" ry="6.80" fill="#a4a8f2" opacity="0.3"/><ellipse rx="10.20" ry="5.10" fill="#4660e2" opacity="0.8"/><ellipse rx="8.16" ry="4.08" fill="#2a6ee4" opacity="1"/><ellipse rx="6.66" ry="3.33" fill="#22a0d0" opacity="1"/><ellipse rx="5.03" ry="2.52" fill="#2cb890" opacity="1"/><ellipse rx="3.40" ry="1.70" fill="#48c048" opacity="1"/><ellipse rx="1.77" ry="0.88" fill="#b0c830" opacity="1"/></g><path fill="#a8aaf2" d="M319.9 395.4h1v1h-1zM347.8 377.3h1v1h-1zM319.1 392.6h1v1h-1zM339.1 374.4h1v1h-1zM346.8 375.4h1v1h-1zM345.3 383.0h1v1h-1zM348.3 373.6h1v1h-1zM329.0 396.8h1v1h-1zM319.8 389.2h1v1h-1zM318.1 395.4h1v1h-1zM346.5 386.5h1v1h-1zM336.5 391.1h1v1h-1zM328.2 376.0h1v1h-1zM346.7 378.2h1v1h-1zM351.0 375.0h1v1h-1zM348.7 381.2h1v1h-1zM316.6 391.0h1v1h-1zM340.2 372.2h1v1h-1zM340.4 388.7h1v1h-1zM330.2 375.3h1v1h-1zM341.4 373.3h1v1h-1zM345.8 378.9h1v1h-1z"/><path fill="#2aa0d8" d="M338.4 382.1h1v1h-1zM336.4 381.9h1v1h-1zM336.0 382.2h1v1h-1zM334.3 386.6h1v1h-1zM332.5 382.0h1v1h-1zM329.3 384.4h1v1h-1zM337.2 383.2h1v1h-1zM332.7 381.6h1v1h-1zM336.7 383.1h1v1h-1zM327.5 385.6h1v1h-1zM336.0 385.5h1v1h-1zM337.7 381.4h1v1h-1zM330.3 382.9h1v1h-1zM329.2 384.9h1v1h-1zM331.0 383.5h1v1h-1zM336.0 384.5h1v1h-1zM333.9 381.1h1v1h-1zM327.7 386.5h1v1h-1zM338.1 383.4h1v1h-1zM331.8 383.0h1v1h-1zM335.2 381.2h1v1h-1zM327.6 388.6h1v1h-1zM331.3 388.5h1v1h-1zM329.0 388.3h1v1h-1zM328.6 386.1h1v1h-1z"/><path fill="#5a6ae6" d="M341.7 377.6h1v1h-1zM341.5 384.4h1v1h-1zM331.2 393.2h1v1h-1zM342.0 381.5h1v1h-1zM323.6 386.5h1v1h-1zM342.1 382.5h1v1h-1zM332.4 377.7h1v1h-1zM343.5 383.0h1v1h-1zM329.5 394.0h1v1h-1zM326.4 393.2h1v1h-1zM323.2 391.9h1v1h-1zM339.5 377.8h1v1h-1zM323.5 387.4h1v1h-1zM327.5 380.0h1v1h-1zM330.2 392.1h1v1h-1zM322.4 392.1h1v1h-1zM342.4 379.2h1v1h-1zM337.6 388.1h1v1h-1zM321.8 386.3h1v1h-1zM340.0 385.7h1v1h-1zM336.9 390.3h1v1h-1zM322.8 390.1h1v1h-1zM343.4 382.0h1v1h-1zM325.7 393.5h1v1h-1zM332.3 392.2h1v1h-1zM327.2 381.1h1v1h-1zM330.4 393.5h1v1h-1zM342.7 383.1h1v1h-1zM342.8 380.9h1v1h-1zM325.7 391.9h1v1h-1zM323.5 390.4h1v1h-1zM321.1 390.1h1v1h-1z"/><path fill="#2a4ad8" d="M338.4 384.5h1v1h-1zM336.3 379.0h1v1h-1zM325.2 385.9h1v1h-1zM337.2 385.6h1v1h-1zM333.9 379.4h1v1h-1zM336.5 387.4h1v1h-1zM333.2 390.3h1v1h-1zM338.3 385.2h1v1h-1zM337.4 379.1h1v1h-1zM327.2 390.8h1v1h-1zM326.9 389.1h1v1h-1zM334.6 380.4h1v1h-1zM332.3 381.2h1v1h-1zM326.1 391.6h1v1h-1zM339.4 381.9h1v1h-1zM325.7 386.5h1v1h-1zM334.2 379.2h1v1h-1zM325.9 387.5h1v1h-1zM325.8 387.0h1v1h-1zM337.3 380.6h1v1h-1zM340.6 380.4h1v1h-1zM324.8 388.6h1v1h-1zM340.3 381.2h1v1h-1zM332.6 390.3h1v1h-1zM325.3 390.5h1v1h-1zM324.6 386.4h1v1h-1zM330.6 381.2h1v1h-1zM327.5 384.8h1v1h-1zM336.9 387.0h1v1h-1zM338.0 386.0h1v1h-1zM338.7 379.7h1v1h-1zM338.2 379.8h1v1h-1zM329.7 382.5h1v1h-1zM331.1 390.8h1v1h-1zM332.7 379.8h1v1h-1z"/><path fill="#2ab070" d="M329.2 385.6h1v1h-1zM334.2 382.5h1v1h-1zM329.7 387.3h1v1h-1zM334.5 384.3h1v1h-1zM333.4 385.3h1v1h-1zM333.6 383.9h1v1h-1zM330.9 383.7h1v1h-1zM330.8 385.5h1v1h-1zM331.1 385.5h1v1h-1zM333.7 385.3h1v1h-1zM331.2 386.8h1v1h-1zM335.0 384.7h1v1h-1zM330.2 387.4h1v1h-1zM329.7 385.9h1v1h-1zM333.5 385.9h1v1h-1zM333.6 384.6h1v1h-1z"/>
</g>
<line x1="325.60" y1="335.60" x2="325.60" y2="407.20" stroke="#a0a0a0" stroke-width="0.7" />
<line x1="309.00" y1="392.80" x2="388.40" y2="392.80" stroke="#a0a0a0" stroke-width="0.7" />
<rect x="309.0" y="335.6" width="79.4" height="71.6" fill="none" stroke="#6e6e6e" stroke-width="1.0"/>
<line x1="309.00" y1="335.60" x2="309.00" y2="407.20" stroke="#5e5e5e" stroke-width="1.5" />
<line x1="309.00" y1="407.20" x2="388.40" y2="407.20" stroke="#5e5e5e" stroke-width="1.5" />
<path d="M307.4 342.3H309.0M308.1 338.0H309.0M307.4 356.5H309.0M308.1 352.2H309.0M308.1 349.7H309.0M308.1 348.0H309.0M308.1 346.6H309.0M308.1 345.5H309.0M308.1 344.5H309.0M308.1 343.7H309.0M308.1 342.9H309.0M307.4 370.7H309.0M308.1 366.4H309.0M308.1 363.9H309.0M308.1 362.2H309.0M308.1 360.8H309.0M308.1 359.7H309.0M308.1 358.7H309.0M308.1 357.9H309.0M308.1 357.1H309.0M307.4 384.9H309.0M308.1 380.6H309.0M308.1 378.1H309.0M308.1 376.4H309.0M308.1 375.0H309.0M308.1 373.9H309.0M308.1 372.9H309.0M308.1 372.1H309.0M308.1 371.3H309.0M307.4 399.1H309.0M308.1 394.8H309.0M308.1 392.3H309.0M308.1 390.6H309.0M308.1 389.2H309.0M308.1 388.1H309.0M308.1 387.1H309.0M308.1 386.3H309.0M308.1 385.5H309.0M308.1 406.5H309.0M308.1 404.8H309.0M308.1 403.4H309.0M308.1 402.3H309.0M308.1 401.3H309.0M308.1 400.5H309.0M308.1 399.7H309.0M310.9 407.2V408.1M312.7 407.2V408.1M314.1 407.2V408.1M315.3 407.2V408.1M316.3 407.2V408.1M317.1 407.2V408.1M317.8 407.2V408.1M318.5 407.2V408.8M322.9 407.2V408.1M325.4 407.2V408.1M327.2 407.2V408.1M328.6 407.2V408.1M329.8 407.2V408.1M330.8 407.2V408.1M331.6 407.2V408.1M332.3 407.2V408.1M333.0 407.2V408.8M337.4 407.2V408.1M339.9 407.2V408.1M341.7 407.2V408.1M343.1 407.2V408.1M344.3 407.2V408.1M345.3 407.2V408.1M346.1 407.2V408.1M346.8 407.2V408.1M347.5 407.2V408.8M351.9 407.2V408.1M354.4 407.2V408.1M356.2 407.2V408.1M357.6 407.2V408.1M358.8 407.2V408.1M359.8 407.2V408.1M360.6 407.2V408.1M361.3 407.2V408.1M362.0 407.2V408.8M366.4 407.2V408.1M368.9 407.2V408.1M370.7 407.2V408.1M372.1 407.2V408.1M373.3 407.2V408.1M374.3 407.2V408.1M375.1 407.2V408.1M375.8 407.2V408.1M376.5 407.2V408.8M380.9 407.2V408.1M383.4 407.2V408.1M385.2 407.2V408.1M386.6 407.2V408.1M387.8 407.2V408.1" stroke="#555" stroke-width="0.6" fill="none"/>
<text x="306.6" y="343.7" font-size="4.4" fill="#666" text-anchor="end">10<tspan font-size="3.0" dy="-1.7">5</tspan></text>
<text x="306.6" y="357.9" font-size="4.4" fill="#666" text-anchor="end">10<tspan font-size="3.0" dy="-1.7">4</tspan></text>
<text x="306.6" y="372.1" font-size="4.4" fill="#666" text-anchor="end">10<tspan font-size="3.0" dy="-1.7">3</tspan></text>
<text x="306.6" y="386.3" font-size="4.4" fill="#666" text-anchor="end">10<tspan font-size="3.0" dy="-1.7">2</tspan></text>
<text x="306.6" y="400.5" font-size="4.4" fill="#666" text-anchor="end">10<tspan font-size="3.0" dy="-1.7">1</tspan></text>
<text x="318.5" y="416.4" font-size="4.4" fill="#666" text-anchor="middle">10<tspan font-size="3.0" dy="-1.7">1</tspan></text>
<text x="333.0" y="416.4" font-size="4.4" fill="#666" text-anchor="middle">10<tspan font-size="3.0" dy="-1.7">2</tspan></text>
<text x="347.5" y="416.4" font-size="4.4" fill="#666" text-anchor="middle">10<tspan font-size="3.0" dy="-1.7">3</tspan></text>
<text x="362.0" y="416.4" font-size="4.4" fill="#666" text-anchor="middle">10<tspan font-size="3.0" dy="-1.7">4</tspan></text>
<text x="376.5" y="416.4" font-size="4.4" fill="#666" text-anchor="middle">10<tspan font-size="3.0" dy="-1.7">5</tspan></text>
<text x="362.80" y="343.80" font-size="7.0" fill="#222" text-anchor="start" >Q2</text>
<text x="362.80" y="352.30" font-size="7.0" fill="#222" text-anchor="start" >91.70%</text>
<text x="362.80" y="394.80" font-size="7.0" fill="#222" text-anchor="start" >Q3</text>
<text x="362.80" y="403.80" font-size="7.0" fill="#222" text-anchor="start" >3.00%</text>
<text x="310.8" y="339.2" font-size="3.2" fill="#555">Q1</text>
<text x="310.8" y="342.8" font-size="3.2" fill="#555">4.41</text>
<text x="310.8" y="401.8" font-size="3.2" fill="#555">Q4</text>
<text x="310.8" y="405.4" font-size="3.2" fill="#555">0.88</text>
<rect x="401.0" y="337.0" width="78.2" height="71.0" fill="#fff"/>
<g clip-path="url(#fc5)">
<g transform="translate(425.0 385.0) rotate(-35)" filter="url(#fsoft)"><ellipse rx="13.20" ry="6.80" fill="#a4a8f2" opacity="0.3"/><ellipse rx="9.90" ry="5.10" fill="#4660e2" opacity="0.8"/><ellipse rx="7.92" ry="4.08" fill="#2a6ee4" opacity="1"/><ellipse rx="6.47" ry="3.33" fill="#22a0d0" opacity="1"/><ellipse rx="4.88" ry="2.52" fill="#2cb890" opacity="1"/><ellipse rx="3.30" ry="1.70" fill="#48c048" opacity="1"/><ellipse rx="1.72" ry="0.88" fill="#b0c830" opacity="1"/></g><path fill="#2aa0d8" d="M419.9 388.6h1v1h-1zM420.5 385.3h1v1h-1zM421.5 389.0h1v1h-1zM428.4 380.5h1v1h-1zM426.0 387.7h1v1h-1zM428.6 384.0h1v1h-1zM422.8 389.2h1v1h-1zM429.3 381.0h1v1h-1zM420.6 386.9h1v1h-1zM430.2 384.0h1v1h-1zM424.2 388.4h1v1h-1zM429.5 382.5h1v1h-1zM428.8 383.8h1v1h-1zM421.5 387.9h1v1h-1zM429.6 382.2h1v1h-1z"/><path fill="#a8aaf2" d="M409.1 398.4h1v1h-1zM435.5 385.3h1v1h-1zM437.3 388.8h1v1h-1zM436.3 370.6h1v1h-1zM416.7 382.1h1v1h-1zM428.9 393.7h1v1h-1zM426.2 375.3h1v1h-1zM408.8 387.2h1v1h-1zM411.6 394.7h1v1h-1zM425.8 376.0h1v1h-1zM436.9 375.3h1v1h-1zM426.8 375.8h1v1h-1zM431.5 391.8h1v1h-1zM416.7 395.4h1v1h-1zM413.9 397.6h1v1h-1zM417.9 377.5h1v1h-1zM430.8 391.6h1v1h-1zM412.7 387.9h1v1h-1zM427.3 394.5h1v1h-1zM420.7 377.5h1v1h-1zM438.0 385.7h1v1h-1zM410.6 386.2h1v1h-1zM426.0 373.0h1v1h-1zM436.1 373.5h1v1h-1zM429.3 375.3h1v1h-1zM442.5 382.3h1v1h-1zM414.1 394.1h1v1h-1zM439.0 381.9h1v1h-1zM415.1 384.4h1v1h-1zM422.3 395.9h1v1h-1zM425.0 393.6h1v1h-1zM433.1 395.3h1v1h-1zM440.5 380.8h1v1h-1zM422.2 396.0h1v1h-1zM427.2 394.6h1v1h-1zM408.9 385.6h1v1h-1z"/><path fill="#2a4ad8" d="M430.9 383.1h1v1h-1zM430.4 380.7h1v1h-1zM420.0 383.3h1v1h-1zM418.0 387.5h1v1h-1zM421.8 391.7h1v1h-1zM418.0 387.2h1v1h-1zM433.3 380.5h1v1h-1zM417.4 389.3h1v1h-1zM419.0 390.2h1v1h-1zM432.3 380.6h1v1h-1zM424.5 389.5h1v1h-1zM417.9 385.2h1v1h-1zM419.5 388.9h1v1h-1zM430.1 384.8h1v1h-1zM432.9 380.1h1v1h-1zM432.9 380.4h1v1h-1zM418.8 391.9h1v1h-1zM423.7 390.1h1v1h-1zM433.5 380.7h1v1h-1zM425.5 379.4h1v1h-1zM427.5 389.2h1v1h-1zM430.7 381.7h1v1h-1zM418.0 390.4h1v1h-1zM431.7 379.0h1v1h-1zM417.1 389.6h1v1h-1zM420.6 382.9h1v1h-1zM427.4 389.2h1v1h-1zM428.6 387.0h1v1h-1zM431.6 381.1h1v1h-1zM418.0 386.9h1v1h-1zM432.3 383.7h1v1h-1zM418.4 384.3h1v1h-1zM417.0 386.9h1v1h-1zM428.6 387.3h1v1h-1zM423.6 390.0h1v1h-1zM424.8 389.1h1v1h-1zM419.5 391.3h1v1h-1zM420.1 384.2h1v1h-1zM418.9 386.5h1v1h-1z"/><path fill="#2ab070" d="M422.9 384.6h1v1h-1zM423.0 384.2h1v1h-1zM422.0 386.8h1v1h-1zM425.9 384.4h1v1h-1zM427.4 382.9h1v1h-1zM424.2 385.0h1v1h-1zM427.8 384.4h1v1h-1zM426.8 385.1h1v1h-1zM425.8 385.6h1v1h-1zM428.1 384.6h1v1h-1zM426.9 383.4h1v1h-1zM424.8 385.3h1v1h-1zM426.0 385.6h1v1h-1zM423.8 386.9h1v1h-1zM423.1 385.5h1v1h-1zM423.6 384.9h1v1h-1zM424.6 385.3h1v1h-1z"/><path fill="#5a6ae6" d="M423.6 391.9h1v1h-1zM415.7 387.1h1v1h-1zM424.3 378.6h1v1h-1zM415.4 386.3h1v1h-1zM433.1 383.9h1v1h-1zM430.4 389.1h1v1h-1zM420.8 394.5h1v1h-1zM434.9 377.8h1v1h-1zM428.0 376.5h1v1h-1zM433.0 383.8h1v1h-1zM425.7 391.6h1v1h-1zM429.2 390.8h1v1h-1zM426.5 378.3h1v1h-1zM424.9 378.1h1v1h-1zM430.4 389.9h1v1h-1zM426.1 391.5h1v1h-1zM421.7 392.7h1v1h-1zM428.5 389.5h1v1h-1zM419.3 383.1h1v1h-1zM425.4 391.8h1v1h-1zM420.7 392.2h1v1h-1zM414.6 386.1h1v1h-1zM419.1 393.5h1v1h-1z"/>
</g>
<line x1="416.40" y1="337.00" x2="416.40" y2="408.00" stroke="#a0a0a0" stroke-width="0.7" />
<line x1="401.00" y1="393.40" x2="479.20" y2="393.40" stroke="#a0a0a0" stroke-width="0.7" />
<rect x="401.0" y="337.0" width="78.2" height="71.0" fill="none" stroke="#6e6e6e" stroke-width="1.0"/>
<line x1="401.00" y1="337.00" x2="401.00" y2="408.00" stroke="#5e5e5e" stroke-width="1.5" />
<line x1="401.00" y1="408.00" x2="479.20" y2="408.00" stroke="#5e5e5e" stroke-width="1.5" />
<path d="M399.4 343.7H401.0M400.1 339.4H401.0M399.4 357.9H401.0M400.1 353.6H401.0M400.1 351.1H401.0M400.1 349.4H401.0M400.1 348.0H401.0M400.1 346.9H401.0M400.1 345.9H401.0M400.1 345.1H401.0M400.1 344.3H401.0M399.4 372.1H401.0M400.1 367.8H401.0M400.1 365.3H401.0M400.1 363.6H401.0M400.1 362.2H401.0M400.1 361.1H401.0M400.1 360.1H401.0M400.1 359.3H401.0M400.1 358.5H401.0M399.4 386.3H401.0M400.1 382.0H401.0M400.1 379.5H401.0M400.1 377.8H401.0M400.1 376.4H401.0M400.1 375.3H401.0M400.1 374.3H401.0M400.1 373.5H401.0M400.1 372.7H401.0M399.4 400.5H401.0M400.1 396.2H401.0M400.1 393.7H401.0M400.1 392.0H401.0M400.1 390.6H401.0M400.1 389.5H401.0M400.1 388.5H401.0M400.1 387.7H401.0M400.1 386.9H401.0M400.1 407.9H401.0M400.1 406.2H401.0M400.1 404.8H401.0M400.1 403.7H401.0M400.1 402.7H401.0M400.1 401.9H401.0M400.1 401.1H401.0M402.9 408.0V408.9M404.7 408.0V408.9M406.1 408.0V408.9M407.3 408.0V408.9M408.3 408.0V408.9M409.1 408.0V408.9M409.8 408.0V408.9M410.5 408.0V409.6M414.9 408.0V408.9M417.4 408.0V408.9M419.2 408.0V408.9M420.6 408.0V408.9M421.8 408.0V408.9M422.8 408.0V408.9M423.6 408.0V408.9M424.3 408.0V408.9M425.0 408.0V409.6M429.4 408.0V408.9M431.9 408.0V408.9M433.7 408.0V408.9M435.1 408.0V408.9M436.3 408.0V408.9M437.3 408.0V408.9M438.1 408.0V408.9M438.8 408.0V408.9M439.5 408.0V409.6M443.9 408.0V408.9M446.4 408.0V408.9M448.2 408.0V408.9M449.6 408.0V408.9M450.8 408.0V408.9M451.8 408.0V408.9M452.6 408.0V408.9M453.3 408.0V408.9M454.0 408.0V409.6M458.4 408.0V408.9M460.9 408.0V408.9M462.7 408.0V408.9M464.1 408.0V408.9M465.3 408.0V408.9M466.3 408.0V408.9M467.1 408.0V408.9M467.8 408.0V408.9M468.5 408.0V409.6M472.9 408.0V408.9M475.4 408.0V408.9M477.2 408.0V408.9M478.6 408.0V408.9" stroke="#555" stroke-width="0.6" fill="none"/>
<text x="398.6" y="345.1" font-size="4.4" fill="#666" text-anchor="end">10<tspan font-size="3.0" dy="-1.7">5</tspan></text>
<text x="398.6" y="359.3" font-size="4.4" fill="#666" text-anchor="end">10<tspan font-size="3.0" dy="-1.7">4</tspan></text>
<text x="398.6" y="373.5" font-size="4.4" fill="#666" text-anchor="end">10<tspan font-size="3.0" dy="-1.7">3</tspan></text>
<text x="398.6" y="387.7" font-size="4.4" fill="#666" text-anchor="end">10<tspan font-size="3.0" dy="-1.7">2</tspan></text>
<text x="398.6" y="401.9" font-size="4.4" fill="#666" text-anchor="end">10<tspan font-size="3.0" dy="-1.7">1</tspan></text>
<text x="410.5" y="417.2" font-size="4.4" fill="#666" text-anchor="middle">10<tspan font-size="3.0" dy="-1.7">1</tspan></text>
<text x="425.0" y="417.2" font-size="4.4" fill="#666" text-anchor="middle">10<tspan font-size="3.0" dy="-1.7">2</tspan></text>
<text x="439.5" y="417.2" font-size="4.4" fill="#666" text-anchor="middle">10<tspan font-size="3.0" dy="-1.7">3</tspan></text>
<text x="454.0" y="417.2" font-size="4.4" fill="#666" text-anchor="middle">10<tspan font-size="3.0" dy="-1.7">4</tspan></text>
<text x="468.5" y="417.2" font-size="4.4" fill="#666" text-anchor="middle">10<tspan font-size="3.0" dy="-1.7">5</tspan></text>
<text x="453.60" y="345.20" font-size="7.0" fill="#222" text-anchor="start" >Q2</text>
<text x="453.60" y="353.70" font-size="7.0" fill="#222" text-anchor="start" >96.52%</text>
<text x="453.60" y="395.40" font-size="7.0" fill="#222" text-anchor="start" >Q3</text>
<text x="453.60" y="404.40" font-size="7.0" fill="#222" text-anchor="start" >1.59%</text>
<text x="402.8" y="340.6" font-size="3.2" fill="#555">Q1</text>
<text x="402.8" y="344.2" font-size="3.2" fill="#555">1.43</text>
<text x="402.8" y="402.6" font-size="3.2" fill="#555">Q4</text>
<text x="402.8" y="406.2" font-size="3.2" fill="#555">0.46</text>
<rect x="32.8" y="453.2" width="78.2" height="71.1" fill="#fff"/>
<g clip-path="url(#fc6)">
<g filter="url(#fsoft2)"><rect x="52.5" y="488.0" width="16.0" height="41.0" rx="4" fill="#b0b6f4" opacity="0.45"/><rect x="55.5" y="491.0" width="10.0" height="35.0" rx="3" fill="#6478e6" opacity="0.7"/><rect x="57.3" y="494.0" width="6.4" height="32.0" rx="2" fill="#3450dc" opacity="0.75"/><rect x="59.1" y="497.0" width="2.8" height="29.0" rx="1" fill="#2a80d8" opacity="0.6"/><ellipse cx="60.5" cy="523.5" rx="2.2" ry="2.6" fill="#2ab0a0"/><ellipse cx="60.5" cy="523.5" rx="1.1" ry="1.4" fill="#70d030"/><ellipse cx="61.5" cy="506.0" rx="2.2" ry="2.6" fill="#28a8b0"/><ellipse cx="61.5" cy="506.0" rx="1.0" ry="1.2" fill="#60c850"/></g><path fill="#1e36cc" d="M58.5 497.9h1v1h-1zM58.5 514.7h1v1h-1zM58.1 500.1h1v1h-1zM62.7 503.0h1v1h-1zM61.9 527.3h1v1h-1zM61.9 516.4h1v1h-1zM58.3 507.9h1v1h-1zM61.5 510.7h1v1h-1zM60.9 502.4h1v1h-1zM62.0 514.6h1v1h-1zM60.6 516.7h1v1h-1zM62.9 496.5h1v1h-1zM59.1 500.0h1v1h-1zM62.2 518.6h1v1h-1zM64.1 503.5h1v1h-1zM61.1 518.3h1v1h-1zM59.0 508.1h1v1h-1zM59.2 492.0h1v1h-1zM63.2 510.1h1v1h-1zM60.3 519.5h1v1h-1zM63.1 521.5h1v1h-1zM62.6 515.3h1v1h-1zM62.3 523.1h1v1h-1zM64.0 514.5h1v1h-1zM59.9 511.1h1v1h-1zM61.3 518.5h1v1h-1zM61.5 525.0h1v1h-1zM60.0 491.8h1v1h-1zM56.8 506.1h1v1h-1zM60.4 516.1h1v1h-1zM60.2 510.0h1v1h-1zM62.7 513.2h1v1h-1zM60.9 498.2h1v1h-1zM58.1 518.9h1v1h-1zM58.8 523.9h1v1h-1zM64.2 499.0h1v1h-1zM62.6 522.7h1v1h-1zM62.2 497.4h1v1h-1zM63.4 526.9h1v1h-1zM59.5 503.5h1v1h-1zM64.3 521.8h1v1h-1zM61.3 520.9h1v1h-1zM61.8 501.6h1v1h-1zM56.8 497.3h1v1h-1zM56.8 513.4h1v1h-1zM58.4 505.2h1v1h-1zM63.7 494.8h1v1h-1zM63.7 513.1h1v1h-1z"/><path fill="#6070e4" d="M65.7 500.6h1v1h-1zM66.4 522.2h1v1h-1zM56.0 514.3h1v1h-1zM66.0 511.1h1v1h-1zM55.1 509.9h1v1h-1zM65.2 522.1h1v1h-1zM65.8 506.7h1v1h-1zM56.0 494.8h1v1h-1zM65.9 504.8h1v1h-1zM65.6 514.9h1v1h-1zM65.4 511.6h1v1h-1zM54.9 519.0h1v1h-1zM55.6 516.0h1v1h-1zM64.9 509.0h1v1h-1zM66.0 495.3h1v1h-1zM64.5 499.8h1v1h-1zM54.8 516.5h1v1h-1zM64.7 525.4h1v1h-1zM55.9 510.0h1v1h-1zM65.8 514.1h1v1h-1zM64.7 501.3h1v1h-1zM55.8 512.0h1v1h-1zM54.7 508.4h1v1h-1zM64.9 514.2h1v1h-1zM54.9 494.6h1v1h-1zM65.1 514.5h1v1h-1zM66.4 501.2h1v1h-1z"/><path fill="#c0c6f6" d="M62.1 496.8h1v1h-1zM63.9 524.0h1v1h-1zM64.3 512.7h1v1h-1zM57.9 493.9h1v1h-1zM60.7 521.7h1v1h-1zM62.1 508.9h1v1h-1zM56.7 503.4h1v1h-1zM62.3 515.6h1v1h-1zM62.8 524.6h1v1h-1zM62.6 505.4h1v1h-1zM57.3 520.9h1v1h-1zM63.0 524.2h1v1h-1zM63.5 509.4h1v1h-1zM61.1 505.4h1v1h-1zM64.2 511.3h1v1h-1zM58.1 527.8h1v1h-1zM59.5 502.5h1v1h-1zM59.3 517.6h1v1h-1zM63.7 519.0h1v1h-1zM62.3 523.6h1v1h-1z"/><path fill="#2a8ad8" d="M64.3 519.4h1v1h-1zM58.9 499.4h1v1h-1zM59.3 510.2h1v1h-1zM60.7 525.6h1v1h-1zM61.8 513.5h1v1h-1zM61.3 509.5h1v1h-1zM63.3 521.3h1v1h-1zM62.6 519.0h1v1h-1zM59.4 493.3h1v1h-1zM62.6 495.5h1v1h-1zM58.0 498.9h1v1h-1zM60.7 510.1h1v1h-1zM60.7 510.0h1v1h-1zM63.7 506.3h1v1h-1zM57.5 502.8h1v1h-1zM59.6 524.8h1v1h-1zM61.2 500.8h1v1h-1zM62.0 521.1h1v1h-1z"/><path fill="#aab0f2" d="M63.3 488.4h1v1h-1zM48.8 492.5h1v1h-1zM70.5 525.5h1v1h-1zM62.3 489.9h1v1h-1zM52.3 504.9h1v1h-1zM69.9 522.7h1v1h-1zM59.3 489.8h1v1h-1zM59.0 488.8h1v1h-1zM64.7 489.6h1v1h-1zM53.5 508.9h1v1h-1zM53.8 489.9h1v1h-1zM51.3 521.6h1v1h-1zM68.3 495.6h1v1h-1zM67.0 500.4h1v1h-1zM69.0 516.3h1v1h-1zM63.4 491.0h1v1h-1zM68.1 519.1h1v1h-1zM63.7 490.3h1v1h-1zM71.2 506.8h1v1h-1zM60.4 488.8h1v1h-1zM68.1 490.7h1v1h-1zM60.0 488.7h1v1h-1zM52.1 526.7h1v1h-1zM52.1 515.6h1v1h-1zM57.1 489.0h1v1h-1zM58.9 489.6h1v1h-1zM55.2 490.6h1v1h-1z"/>
</g>
<line x1="48.40" y1="453.20" x2="48.40" y2="524.30" stroke="#a0a0a0" stroke-width="0.7" />
<line x1="32.80" y1="512.20" x2="111.00" y2="512.20" stroke="#a0a0a0" stroke-width="0.7" />
<rect x="32.8" y="453.2" width="78.2" height="71.1" fill="none" stroke="#6e6e6e" stroke-width="1.0"/>
<line x1="32.80" y1="453.20" x2="32.80" y2="524.30" stroke="#5e5e5e" stroke-width="1.5" />
<line x1="32.80" y1="524.30" x2="111.00" y2="524.30" stroke="#5e5e5e" stroke-width="1.5" />
<path d="M31.2 459.9H32.8M31.9 455.6H32.8M31.2 474.1H32.8M31.9 469.8H32.8M31.9 467.3H32.8M31.9 465.6H32.8M31.9 464.2H32.8M31.9 463.1H32.8M31.9 462.1H32.8M31.9 461.3H32.8M31.9 460.5H32.8M31.2 488.3H32.8M31.9 484.0H32.8M31.9 481.5H32.8M31.9 479.8H32.8M31.9 478.4H32.8M31.9 477.3H32.8M31.9 476.3H32.8M31.9 475.5H32.8M31.9 474.7H32.8M31.2 502.5H32.8M31.9 498.2H32.8M31.9 495.7H32.8M31.9 494.0H32.8M31.9 492.6H32.8M31.9 491.5H32.8M31.9 490.5H32.8M31.9 489.7H32.8M31.9 488.9H32.8M31.2 516.7H32.8M31.9 512.4H32.8M31.9 509.9H32.8M31.9 508.2H32.8M31.9 506.8H32.8M31.9 505.7H32.8M31.9 504.7H32.8M31.9 503.9H32.8M31.9 503.1H32.8M31.9 524.1H32.8M31.9 522.4H32.8M31.9 521.0H32.8M31.9 519.9H32.8M31.9 518.9H32.8M31.9 518.1H32.8M31.9 517.3H32.8M34.7 524.3V525.2M36.5 524.3V525.2M37.9 524.3V525.2M39.1 524.3V525.2M40.1 524.3V525.2M40.9 524.3V525.2M41.6 524.3V525.2M42.3 524.3V525.9M46.7 524.3V525.2M49.2 524.3V525.2M51.0 524.3V525.2M52.4 524.3V525.2M53.6 524.3V525.2M54.6 524.3V525.2M55.4 524.3V525.2M56.1 524.3V525.2M56.8 524.3V525.9M61.2 524.3V525.2M63.7 524.3V525.2M65.5 524.3V525.2M66.9 524.3V525.2M68.1 524.3V525.2M69.1 524.3V525.2M69.9 524.3V525.2M70.6 524.3V525.2M71.3 524.3V525.9M75.7 524.3V525.2M78.2 524.3V525.2M80.0 524.3V525.2M81.4 524.3V525.2M82.6 524.3V525.2M83.6 524.3V525.2M84.4 524.3V525.2M85.1 524.3V525.2M85.8 524.3V525.9M90.2 524.3V525.2M92.7 524.3V525.2M94.5 524.3V525.2M95.9 524.3V525.2M97.1 524.3V525.2M98.1 524.3V525.2M98.9 524.3V525.2M99.6 524.3V525.2M100.3 524.3V525.9M104.7 524.3V525.2M107.2 524.3V525.2M109.0 524.3V525.2M110.4 524.3V525.2" stroke="#555" stroke-width="0.6" fill="none"/>
<text x="30.4" y="461.3" font-size="4.4" fill="#666" text-anchor="end">10<tspan font-size="3.0" dy="-1.7">5</tspan></text>
<text x="30.4" y="475.5" font-size="4.4" fill="#666" text-anchor="end">10<tspan font-size="3.0" dy="-1.7">4</tspan></text>
<text x="30.4" y="489.7" font-size="4.4" fill="#666" text-anchor="end">10<tspan font-size="3.0" dy="-1.7">3</tspan></text>
<text x="30.4" y="503.9" font-size="4.4" fill="#666" text-anchor="end">10<tspan font-size="3.0" dy="-1.7">2</tspan></text>
<text x="30.4" y="518.1" font-size="4.4" fill="#666" text-anchor="end">10<tspan font-size="3.0" dy="-1.7">1</tspan></text>
<text x="42.3" y="533.5" font-size="4.4" fill="#666" text-anchor="middle">10<tspan font-size="3.0" dy="-1.7">1</tspan></text>
<text x="56.8" y="533.5" font-size="4.4" fill="#666" text-anchor="middle">10<tspan font-size="3.0" dy="-1.7">2</tspan></text>
<text x="71.3" y="533.5" font-size="4.4" fill="#666" text-anchor="middle">10<tspan font-size="3.0" dy="-1.7">3</tspan></text>
<text x="85.8" y="533.5" font-size="4.4" fill="#666" text-anchor="middle">10<tspan font-size="3.0" dy="-1.7">4</tspan></text>
<text x="100.3" y="533.5" font-size="4.4" fill="#666" text-anchor="middle">10<tspan font-size="3.0" dy="-1.7">5</tspan></text>
<text x="85.40" y="461.40" font-size="7.0" fill="#222" text-anchor="start" >Q2</text>
<text x="85.40" y="469.90" font-size="7.0" fill="#222" text-anchor="start" >33.03%</text>
<text x="85.40" y="514.20" font-size="7.0" fill="#222" text-anchor="start" >Q3</text>
<text x="85.40" y="523.20" font-size="7.0" fill="#222" text-anchor="start" >59.43%</text>
<text x="34.6" y="456.8" font-size="3.2" fill="#555">Q1</text>
<text x="34.6" y="460.4" font-size="3.2" fill="#555">0.92</text>
<text x="34.6" y="518.9" font-size="3.2" fill="#555">Q4</text>
<text x="34.6" y="522.5" font-size="3.2" fill="#555">6.62</text>
<rect x="126.0" y="454.2" width="78.3" height="71.3" fill="#fff"/>
<g clip-path="url(#fc7)">
<g filter="url(#fsoft2)"><rect x="140.5" y="493.0" width="22.0" height="37.0" rx="4" fill="#b0b6f4" opacity="0.45"/><rect x="143.5" y="496.0" width="16.0" height="31.0" rx="3" fill="#6478e6" opacity="0.7"/><rect x="146.4" y="499.0" width="10.2" height="28.0" rx="2" fill="#3450dc" opacity="0.75"/><rect x="149.3" y="502.0" width="4.5" height="25.0" rx="1" fill="#2a80d8" opacity="0.6"/><ellipse cx="151.5" cy="524.5" rx="3.5" ry="2.6" fill="#2ab0a0"/><ellipse cx="151.5" cy="524.5" rx="1.8" ry="1.4" fill="#70d030"/><ellipse cx="154.0" cy="500.0" rx="2.2" ry="2.6" fill="#28a8b0"/><ellipse cx="154.0" cy="500.0" rx="1.0" ry="1.2" fill="#60c850"/></g><path fill="#2a8ad8" d="M156.2 509.0h1v1h-1zM148.5 528.8h1v1h-1zM157.6 528.4h1v1h-1zM156.1 522.6h1v1h-1zM149.2 523.6h1v1h-1zM147.4 519.7h1v1h-1zM148.4 519.4h1v1h-1zM146.9 525.5h1v1h-1zM156.4 507.6h1v1h-1zM155.9 517.2h1v1h-1zM145.7 519.7h1v1h-1zM152.6 502.1h1v1h-1zM148.0 497.9h1v1h-1zM154.0 507.6h1v1h-1zM147.3 515.9h1v1h-1zM155.6 504.0h1v1h-1zM145.3 526.2h1v1h-1zM149.6 523.2h1v1h-1zM146.5 500.7h1v1h-1zM152.6 521.6h1v1h-1zM156.0 510.8h1v1h-1zM146.1 522.0h1v1h-1zM152.7 508.5h1v1h-1zM154.2 499.1h1v1h-1zM152.0 527.9h1v1h-1zM155.9 503.2h1v1h-1zM153.6 500.9h1v1h-1zM148.7 501.6h1v1h-1zM151.3 527.5h1v1h-1zM145.7 500.9h1v1h-1zM150.7 500.9h1v1h-1z"/><path fill="#1e36cc" d="M147.3 518.4h1v1h-1zM156.8 502.2h1v1h-1zM153.1 521.5h1v1h-1zM153.3 527.6h1v1h-1zM146.0 496.5h1v1h-1zM148.7 502.1h1v1h-1zM155.1 496.3h1v1h-1zM145.1 496.7h1v1h-1zM145.8 511.2h1v1h-1zM156.2 514.3h1v1h-1zM153.0 511.1h1v1h-1zM147.6 509.3h1v1h-1zM154.6 501.0h1v1h-1zM156.4 510.6h1v1h-1zM152.3 518.3h1v1h-1zM147.1 521.1h1v1h-1zM156.7 517.0h1v1h-1zM152.7 511.3h1v1h-1zM154.5 523.6h1v1h-1zM152.0 502.8h1v1h-1zM153.5 500.5h1v1h-1zM150.7 529.0h1v1h-1zM150.4 510.8h1v1h-1zM152.2 519.7h1v1h-1zM155.2 501.6h1v1h-1zM156.0 528.4h1v1h-1zM154.6 501.3h1v1h-1zM148.1 509.0h1v1h-1zM148.2 521.6h1v1h-1zM157.4 524.6h1v1h-1zM157.8 514.5h1v1h-1zM148.2 509.7h1v1h-1zM147.1 525.3h1v1h-1zM147.0 524.9h1v1h-1zM152.0 525.2h1v1h-1zM150.5 504.0h1v1h-1zM145.3 514.4h1v1h-1zM149.1 517.0h1v1h-1z"/><path fill="#6070e4" d="M143.4 506.8h1v1h-1zM158.3 519.0h1v1h-1zM144.4 506.6h1v1h-1zM160.5 520.6h1v1h-1zM158.2 512.0h1v1h-1zM160.3 524.2h1v1h-1zM143.3 508.6h1v1h-1zM144.1 514.6h1v1h-1zM144.6 524.1h1v1h-1zM144.6 507.2h1v1h-1zM144.6 504.9h1v1h-1zM158.2 517.3h1v1h-1zM159.8 522.8h1v1h-1zM145.0 516.0h1v1h-1zM160.3 522.1h1v1h-1zM143.9 517.2h1v1h-1zM157.9 506.0h1v1h-1zM161.2 496.6h1v1h-1zM159.8 507.5h1v1h-1zM145.0 501.4h1v1h-1zM158.8 509.9h1v1h-1zM144.6 514.4h1v1h-1z"/><path fill="#aab0f2" d="M154.1 495.6h1v1h-1zM138.3 526.4h1v1h-1zM163.4 520.6h1v1h-1zM164.0 512.2h1v1h-1zM154.2 495.7h1v1h-1zM153.8 494.1h1v1h-1zM164.1 528.4h1v1h-1zM152.0 494.7h1v1h-1zM162.9 512.9h1v1h-1zM141.5 501.5h1v1h-1zM164.0 520.8h1v1h-1zM138.4 520.6h1v1h-1zM155.3 495.8h1v1h-1zM153.8 494.5h1v1h-1zM132.5 509.1h1v1h-1zM145.7 495.9h1v1h-1zM133.6 521.3h1v1h-1zM162.7 506.3h1v1h-1zM164.4 495.1h1v1h-1zM162.5 505.3h1v1h-1zM163.0 507.5h1v1h-1zM136.0 508.4h1v1h-1zM139.6 509.1h1v1h-1zM139.2 511.3h1v1h-1zM139.7 500.4h1v1h-1zM139.2 515.9h1v1h-1zM134.4 505.4h1v1h-1zM147.3 492.1h1v1h-1zM149.6 493.6h1v1h-1z"/><path fill="#c0c6f6" d="M152.7 508.7h1v1h-1zM153.6 510.7h1v1h-1zM150.0 521.4h1v1h-1zM145.6 521.4h1v1h-1zM150.0 528.5h1v1h-1zM153.9 521.3h1v1h-1zM147.2 500.5h1v1h-1zM147.0 504.9h1v1h-1zM149.3 520.7h1v1h-1zM155.9 500.4h1v1h-1zM147.6 517.8h1v1h-1zM154.5 501.2h1v1h-1zM147.0 517.3h1v1h-1zM155.1 513.3h1v1h-1zM157.2 500.3h1v1h-1zM145.6 505.3h1v1h-1zM153.6 515.9h1v1h-1zM154.0 496.3h1v1h-1zM156.4 521.3h1v1h-1zM149.6 504.6h1v1h-1z"/>
</g>
<line x1="141.50" y1="454.20" x2="141.50" y2="525.50" stroke="#a0a0a0" stroke-width="0.7" />
<line x1="126.00" y1="510.60" x2="204.30" y2="510.60" stroke="#a0a0a0" stroke-width="0.7" />
<rect x="126.0" y="454.2" width="78.3" height="71.3" fill="none" stroke="#6e6e6e" stroke-width="1.0"/>
<line x1="126.00" y1="454.20" x2="126.00" y2="525.50" stroke="#5e5e5e" stroke-width="1.5" />
<line x1="126.00" y1="525.50" x2="204.30" y2="525.50" stroke="#5e5e5e" stroke-width="1.5" />
<path d="M124.4 460.9H126.0M125.1 456.6H126.0M124.4 475.1H126.0M125.1 470.8H126.0M125.1 468.3H126.0M125.1 466.6H126.0M125.1 465.2H126.0M125.1 464.1H126.0M125.1 463.1H126.0M125.1 462.3H126.0M125.1 461.5H126.0M124.4 489.3H126.0M125.1 485.0H126.0M125.1 482.5H126.0M125.1 480.8H126.0M125.1 479.4H126.0M125.1 478.3H126.0M125.1 477.3H126.0M125.1 476.5H126.0M125.1 475.7H126.0M124.4 503.5H126.0M125.1 499.2H126.0M125.1 496.7H126.0M125.1 495.0H126.0M125.1 493.6H126.0M125.1 492.5H126.0M125.1 491.5H126.0M125.1 490.7H126.0M125.1 489.9H126.0M124.4 517.7H126.0M125.1 513.4H126.0M125.1 510.9H126.0M125.1 509.2H126.0M125.1 507.8H126.0M125.1 506.7H126.0M125.1 505.7H126.0M125.1 504.9H126.0M125.1 504.1H126.0M125.1 525.1H126.0M125.1 523.4H126.0M125.1 522.0H126.0M125.1 520.9H126.0M125.1 519.9H126.0M125.1 519.1H126.0M125.1 518.3H126.0M127.9 525.5V526.4M129.7 525.5V526.4M131.1 525.5V526.4M132.3 525.5V526.4M133.3 525.5V526.4M134.1 525.5V526.4M134.8 525.5V526.4M135.5 525.5V527.1M139.9 525.5V526.4M142.4 525.5V526.4M144.2 525.5V526.4M145.6 525.5V526.4M146.8 525.5V526.4M147.8 525.5V526.4M148.6 525.5V526.4M149.3 525.5V526.4M150.0 525.5V527.1M154.4 525.5V526.4M156.9 525.5V526.4M158.7 525.5V526.4M160.1 525.5V526.4M161.3 525.5V526.4M162.3 525.5V526.4M163.1 525.5V526.4M163.8 525.5V526.4M164.5 525.5V527.1M168.9 525.5V526.4M171.4 525.5V526.4M173.2 525.5V526.4M174.6 525.5V526.4M175.8 525.5V526.4M176.8 525.5V526.4M177.6 525.5V526.4M178.3 525.5V526.4M179.0 525.5V527.1M183.4 525.5V526.4M185.9 525.5V526.4M187.7 525.5V526.4M189.1 525.5V526.4M190.3 525.5V526.4M191.3 525.5V526.4M192.1 525.5V526.4M192.8 525.5V526.4M193.5 525.5V527.1M197.9 525.5V526.4M200.4 525.5V526.4M202.2 525.5V526.4M203.6 525.5V526.4" stroke="#555" stroke-width="0.6" fill="none"/>
<text x="123.6" y="462.3" font-size="4.4" fill="#666" text-anchor="end">10<tspan font-size="3.0" dy="-1.7">5</tspan></text>
<text x="123.6" y="476.5" font-size="4.4" fill="#666" text-anchor="end">10<tspan font-size="3.0" dy="-1.7">4</tspan></text>
<text x="123.6" y="490.7" font-size="4.4" fill="#666" text-anchor="end">10<tspan font-size="3.0" dy="-1.7">3</tspan></text>
<text x="123.6" y="504.9" font-size="4.4" fill="#666" text-anchor="end">10<tspan font-size="3.0" dy="-1.7">2</tspan></text>
<text x="123.6" y="519.1" font-size="4.4" fill="#666" text-anchor="end">10<tspan font-size="3.0" dy="-1.7">1</tspan></text>
<text x="135.5" y="534.7" font-size="4.4" fill="#666" text-anchor="middle">10<tspan font-size="3.0" dy="-1.7">1</tspan></text>
<text x="150.0" y="534.7" font-size="4.4" fill="#666" text-anchor="middle">10<tspan font-size="3.0" dy="-1.7">2</tspan></text>
<text x="164.5" y="534.7" font-size="4.4" fill="#666" text-anchor="middle">10<tspan font-size="3.0" dy="-1.7">3</tspan></text>
<text x="179.0" y="534.7" font-size="4.4" fill="#666" text-anchor="middle">10<tspan font-size="3.0" dy="-1.7">4</tspan></text>
<text x="193.5" y="534.7" font-size="4.4" fill="#666" text-anchor="middle">10<tspan font-size="3.0" dy="-1.7">5</tspan></text>
<text x="178.70" y="462.40" font-size="7.0" fill="#222" text-anchor="start" >Q2</text>
<text x="178.70" y="470.90" font-size="7.0" fill="#222" text-anchor="start" >40.07%</text>
<text x="178.70" y="512.60" font-size="7.0" fill="#222" text-anchor="start" >Q3</text>
<text x="178.70" y="521.60" font-size="7.0" fill="#222" text-anchor="start" >52.92%</text>
<text x="127.8" y="457.8" font-size="3.2" fill="#555">Q1</text>
<text x="127.8" y="461.4" font-size="3.2" fill="#555">2.71</text>
<text x="127.8" y="520.1" font-size="3.2" fill="#555">Q4</text>
<text x="127.8" y="523.7" font-size="3.2" fill="#555">4.30</text>
<rect x="218.0" y="454.2" width="78.0" height="71.3" fill="#fff"/>
<g clip-path="url(#fc8)">
<g filter="url(#fsoft2)"><rect x="232.0" y="490.5" width="20.0" height="39.5" rx="4" fill="#b0b6f4" opacity="0.45"/><rect x="235.0" y="493.5" width="14.0" height="33.5" rx="3" fill="#6478e6" opacity="0.7"/><rect x="237.5" y="496.5" width="9.0" height="30.5" rx="2" fill="#3450dc" opacity="0.75"/><rect x="240.0" y="499.5" width="3.9" height="27.5" rx="1" fill="#2a80d8" opacity="0.6"/><ellipse cx="242.0" cy="524.5" rx="3.1" ry="2.6" fill="#2ab0a0"/><ellipse cx="242.0" cy="524.5" rx="1.5" ry="1.4" fill="#70d030"/><ellipse cx="244.0" cy="499.0" rx="2.2" ry="2.6" fill="#28a8b0"/><ellipse cx="244.0" cy="499.0" rx="1.0" ry="1.2" fill="#60c850"/></g><path fill="#1e36cc" d="M241.0 517.5h1v1h-1zM236.8 522.7h1v1h-1zM237.1 504.0h1v1h-1zM241.3 525.5h1v1h-1zM245.4 515.0h1v1h-1zM245.4 499.8h1v1h-1zM246.8 510.5h1v1h-1zM243.8 511.8h1v1h-1zM238.5 508.0h1v1h-1zM244.4 513.3h1v1h-1zM237.0 502.3h1v1h-1zM241.2 515.0h1v1h-1zM238.5 527.1h1v1h-1zM240.1 494.2h1v1h-1zM236.6 523.5h1v1h-1zM245.4 526.0h1v1h-1zM243.5 498.0h1v1h-1zM247.4 496.2h1v1h-1zM237.3 503.7h1v1h-1zM240.8 519.4h1v1h-1zM246.8 502.6h1v1h-1zM239.5 495.3h1v1h-1zM244.9 503.4h1v1h-1zM247.1 513.3h1v1h-1zM243.9 526.9h1v1h-1zM246.1 514.2h1v1h-1zM243.9 506.1h1v1h-1zM246.2 509.5h1v1h-1zM245.4 521.3h1v1h-1zM238.0 508.5h1v1h-1zM243.3 518.2h1v1h-1zM239.4 527.1h1v1h-1z"/><path fill="#6070e4" d="M249.3 510.5h1v1h-1zM236.4 518.8h1v1h-1zM248.7 528.2h1v1h-1zM234.4 528.6h1v1h-1zM249.0 516.7h1v1h-1zM250.3 511.5h1v1h-1zM250.0 508.2h1v1h-1zM248.8 528.3h1v1h-1zM249.0 494.4h1v1h-1zM248.4 524.4h1v1h-1zM249.1 501.1h1v1h-1zM250.0 524.8h1v1h-1zM247.6 494.5h1v1h-1zM249.2 500.2h1v1h-1zM234.6 518.9h1v1h-1zM235.1 512.2h1v1h-1zM235.3 504.7h1v1h-1zM235.4 525.9h1v1h-1zM234.0 505.1h1v1h-1zM235.6 521.8h1v1h-1zM235.6 513.3h1v1h-1zM234.6 524.8h1v1h-1zM250.6 497.9h1v1h-1zM234.0 522.3h1v1h-1zM250.4 523.2h1v1h-1zM248.9 505.3h1v1h-1zM248.9 528.5h1v1h-1z"/><path fill="#2a8ad8" d="M247.3 526.6h1v1h-1zM242.8 511.7h1v1h-1zM245.9 503.5h1v1h-1zM240.3 528.1h1v1h-1zM241.9 493.5h1v1h-1zM241.2 518.8h1v1h-1zM242.1 507.3h1v1h-1zM237.7 511.9h1v1h-1zM244.0 504.8h1v1h-1zM239.4 497.7h1v1h-1zM242.9 528.4h1v1h-1zM244.0 526.2h1v1h-1zM240.9 528.4h1v1h-1zM239.5 506.8h1v1h-1zM246.6 495.8h1v1h-1zM241.5 508.1h1v1h-1zM245.0 520.7h1v1h-1zM245.3 518.7h1v1h-1zM239.1 520.2h1v1h-1zM246.1 518.7h1v1h-1zM236.7 493.6h1v1h-1zM245.6 493.5h1v1h-1zM242.8 503.5h1v1h-1zM244.1 509.1h1v1h-1zM244.1 494.2h1v1h-1zM242.9 514.2h1v1h-1zM245.0 499.9h1v1h-1zM244.4 494.4h1v1h-1zM238.6 504.6h1v1h-1zM237.3 510.3h1v1h-1zM238.8 502.1h1v1h-1zM239.1 525.7h1v1h-1zM241.4 508.4h1v1h-1zM240.5 519.4h1v1h-1zM241.1 497.6h1v1h-1z"/><path fill="#aab0f2" d="M256.2 514.0h1v1h-1zM244.4 489.7h1v1h-1zM251.3 503.2h1v1h-1zM244.0 490.0h1v1h-1zM250.3 491.0h1v1h-1zM241.3 489.6h1v1h-1zM252.2 523.3h1v1h-1zM247.3 492.4h1v1h-1zM256.3 492.3h1v1h-1zM233.0 523.1h1v1h-1zM232.0 528.9h1v1h-1zM253.9 528.0h1v1h-1zM247.2 489.7h1v1h-1zM252.7 492.2h1v1h-1zM238.0 491.3h1v1h-1zM241.0 492.0h1v1h-1zM246.3 491.6h1v1h-1zM252.6 512.4h1v1h-1zM242.9 491.8h1v1h-1zM242.6 493.0h1v1h-1zM255.1 490.3h1v1h-1zM228.9 521.1h1v1h-1zM240.8 490.7h1v1h-1zM247.0 490.9h1v1h-1zM251.8 505.1h1v1h-1zM252.2 507.2h1v1h-1zM255.5 500.5h1v1h-1zM254.0 498.3h1v1h-1zM239.6 490.1h1v1h-1zM241.3 489.7h1v1h-1zM246.4 492.9h1v1h-1zM247.3 490.6h1v1h-1zM231.7 504.3h1v1h-1z"/><path fill="#c0c6f6" d="M237.6 516.1h1v1h-1zM239.9 503.3h1v1h-1zM246.4 494.3h1v1h-1zM240.6 502.7h1v1h-1zM239.1 505.9h1v1h-1zM241.4 502.3h1v1h-1zM239.0 512.5h1v1h-1zM240.0 506.1h1v1h-1zM242.0 497.0h1v1h-1zM240.8 493.9h1v1h-1zM241.9 528.7h1v1h-1zM247.1 523.3h1v1h-1zM246.3 512.2h1v1h-1z"/>
</g>
<line x1="234.00" y1="454.20" x2="234.00" y2="525.50" stroke="#a0a0a0" stroke-width="0.7" />
<line x1="218.00" y1="510.30" x2="296.00" y2="510.30" stroke="#a0a0a0" stroke-width="0.7" />
<rect x="218.0" y="454.2" width="78.0" height="71.3" fill="none" stroke="#6e6e6e" stroke-width="1.0"/>
<line x1="218.00" y1="454.20" x2="218.00" y2="525.50" stroke="#5e5e5e" stroke-width="1.5" />
<line x1="218.00" y1="525.50" x2="296.00" y2="525.50" stroke="#5e5e5e" stroke-width="1.5" />
<path d="M216.4 460.9H218.0M217.1 456.6H218.0M216.4 475.1H218.0M217.1 470.8H218.0M217.1 468.3H218.0M217.1 466.6H218.0M217.1 465.2H218.0M217.1 464.1H218.0M217.1 463.1H218.0M217.1 462.3H218.0M217.1 461.5H218.0M216.4 489.3H218.0M217.1 485.0H218.0M217.1 482.5H218.0M217.1 480.8H218.0M217.1 479.4H218.0M217.1 478.3H218.0M217.1 477.3H218.0M217.1 476.5H218.0M217.1 475.7H218.0M216.4 503.5H218.0M217.1 499.2H218.0M217.1 496.7H218.0M217.1 495.0H218.0M217.1 493.6H218.0M217.1 492.5H218.0M217.1 491.5H218.0M217.1 490.7H218.0M217.1 489.9H218.0M216.4 517.7H218.0M217.1 513.4H218.0M217.1 510.9H218.0M217.1 509.2H218.0M217.1 507.8H218.0M217.1 506.7H218.0M217.1 505.7H218.0M217.1 504.9H218.0M217.1 504.1H218.0M217.1 525.1H218.0M217.1 523.4H218.0M217.1 522.0H218.0M217.1 520.9H218.0M217.1 519.9H218.0M217.1 519.1H218.0M217.1 518.3H218.0M219.9 525.5V526.4M221.7 525.5V526.4M223.1 525.5V526.4M224.3 525.5V526.4M225.3 525.5V526.4M226.1 525.5V526.4M226.8 525.5V526.4M227.5 525.5V527.1M231.9 525.5V526.4M234.4 525.5V526.4M236.2 525.5V526.4M237.6 525.5V526.4M238.8 525.5V526.4M239.8 525.5V526.4M240.6 525.5V526.4M241.3 525.5V526.4M242.0 525.5V527.1M246.4 525.5V526.4M248.9 525.5V526.4M250.7 525.5V526.4M252.1 525.5V526.4M253.3 525.5V526.4M254.3 525.5V526.4M255.1 525.5V526.4M255.8 525.5V526.4M256.5 525.5V527.1M260.9 525.5V526.4M263.4 525.5V526.4M265.2 525.5V526.4M266.6 525.5V526.4M267.8 525.5V526.4M268.8 525.5V526.4M269.6 525.5V526.4M270.3 525.5V526.4M271.0 525.5V527.1M275.4 525.5V526.4M277.9 525.5V526.4M279.7 525.5V526.4M281.1 525.5V526.4M282.3 525.5V526.4M283.3 525.5V526.4M284.1 525.5V526.4M284.8 525.5V526.4M285.5 525.5V527.1M289.9 525.5V526.4M292.4 525.5V526.4M294.2 525.5V526.4M295.6 525.5V526.4" stroke="#555" stroke-width="0.6" fill="none"/>
<text x="215.6" y="462.3" font-size="4.4" fill="#666" text-anchor="end">10<tspan font-size="3.0" dy="-1.7">5</tspan></text>
<text x="215.6" y="476.5" font-size="4.4" fill="#666" text-anchor="end">10<tspan font-size="3.0" dy="-1.7">4</tspan></text>
<text x="215.6" y="490.7" font-size="4.4" fill="#666" text-anchor="end">10<tspan font-size="3.0" dy="-1.7">3</tspan></text>
<text x="215.6" y="504.9" font-size="4.4" fill="#666" text-anchor="end">10<tspan font-size="3.0" dy="-1.7">2</tspan></text>
<text x="215.6" y="519.1" font-size="4.4" fill="#666" text-anchor="end">10<tspan font-size="3.0" dy="-1.7">1</tspan></text>
<text x="227.5" y="534.7" font-size="4.4" fill="#666" text-anchor="middle">10<tspan font-size="3.0" dy="-1.7">1</tspan></text>
<text x="242.0" y="534.7" font-size="4.4" fill="#666" text-anchor="middle">10<tspan font-size="3.0" dy="-1.7">2</tspan></text>
<text x="256.5" y="534.7" font-size="4.4" fill="#666" text-anchor="middle">10<tspan font-size="3.0" dy="-1.7">3</tspan></text>
<text x="271.0" y="534.7" font-size="4.4" fill="#666" text-anchor="middle">10<tspan font-size="3.0" dy="-1.7">4</tspan></text>
<text x="285.5" y="534.7" font-size="4.4" fill="#666" text-anchor="middle">10<tspan font-size="3.0" dy="-1.7">5</tspan></text>
<text x="270.40" y="462.40" font-size="7.0" fill="#222" text-anchor="start" >Q2</text>
<text x="270.40" y="470.90" font-size="7.0" fill="#222" text-anchor="start" >46.38%</text>
<text x="270.40" y="512.30" font-size="7.0" fill="#222" text-anchor="start" >Q3</text>
<text x="270.40" y="521.30" font-size="7.0" fill="#222" text-anchor="start" >46.43%</text>
<text x="219.8" y="457.8" font-size="3.2" fill="#555">Q1</text>
<text x="219.8" y="461.4" font-size="3.2" fill="#555">2.65</text>
<text x="219.8" y="520.1" font-size="3.2" fill="#555">Q4</text>
<text x="219.8" y="523.7" font-size="3.2" fill="#555">4.55</text>
<rect x="311.0" y="454.8" width="77.7" height="70.7" fill="#fff"/>
<g clip-path="url(#fc9)">
<g filter="url(#fsoft2)"><rect x="325.0" y="489.5" width="18.0" height="40.5" rx="4" fill="#b0b6f4" opacity="0.45"/><rect x="328.0" y="492.5" width="12.0" height="34.5" rx="3" fill="#6478e6" opacity="0.7"/><rect x="330.2" y="495.5" width="7.7" height="31.5" rx="2" fill="#3450dc" opacity="0.75"/><rect x="332.3" y="498.5" width="3.4" height="28.5" rx="1" fill="#2a80d8" opacity="0.6"/><ellipse cx="334.0" cy="524.5" rx="2.6" ry="2.6" fill="#2ab0a0"/><ellipse cx="334.0" cy="524.5" rx="1.3" ry="1.4" fill="#70d030"/><ellipse cx="335.5" cy="498.0" rx="2.2" ry="2.6" fill="#28a8b0"/><ellipse cx="335.5" cy="498.0" rx="1.0" ry="1.2" fill="#60c850"/></g><path fill="#1e36cc" d="M334.6 515.2h1v1h-1zM336.1 502.9h1v1h-1zM337.6 527.9h1v1h-1zM335.7 519.6h1v1h-1zM333.5 503.6h1v1h-1zM337.1 523.9h1v1h-1zM331.5 502.4h1v1h-1zM335.8 511.1h1v1h-1zM333.3 528.7h1v1h-1zM331.5 516.0h1v1h-1zM332.8 502.9h1v1h-1zM338.2 518.4h1v1h-1zM338.0 494.8h1v1h-1zM333.4 500.8h1v1h-1zM335.1 503.3h1v1h-1zM337.3 512.6h1v1h-1zM336.4 507.6h1v1h-1zM331.0 508.2h1v1h-1zM329.3 502.3h1v1h-1zM331.3 497.7h1v1h-1zM333.4 507.8h1v1h-1zM336.3 499.3h1v1h-1zM329.7 507.8h1v1h-1zM337.8 511.4h1v1h-1zM337.5 510.9h1v1h-1zM332.5 511.1h1v1h-1zM335.8 511.6h1v1h-1zM338.3 528.7h1v1h-1zM331.8 503.1h1v1h-1zM331.6 516.4h1v1h-1zM337.3 526.9h1v1h-1zM333.3 493.9h1v1h-1zM331.2 502.4h1v1h-1zM332.4 523.4h1v1h-1zM337.3 523.8h1v1h-1zM330.3 507.3h1v1h-1zM330.7 509.3h1v1h-1zM336.8 516.7h1v1h-1zM330.4 492.5h1v1h-1zM332.1 529.0h1v1h-1zM331.2 528.7h1v1h-1zM335.4 521.4h1v1h-1z"/><path fill="#2a8ad8" d="M335.6 499.5h1v1h-1zM330.4 518.1h1v1h-1zM335.0 519.7h1v1h-1zM331.5 516.0h1v1h-1zM332.0 516.0h1v1h-1zM334.6 519.6h1v1h-1zM329.4 523.5h1v1h-1zM337.9 526.7h1v1h-1zM334.9 509.3h1v1h-1zM331.1 517.8h1v1h-1zM333.4 501.3h1v1h-1zM337.4 513.0h1v1h-1zM332.1 494.2h1v1h-1zM334.4 513.1h1v1h-1zM335.5 526.9h1v1h-1zM330.0 525.8h1v1h-1zM331.2 514.5h1v1h-1zM337.8 510.6h1v1h-1zM333.4 494.7h1v1h-1zM333.1 504.7h1v1h-1zM338.2 494.6h1v1h-1z"/><path fill="#6070e4" d="M328.6 522.8h1v1h-1zM340.3 528.4h1v1h-1zM338.8 495.0h1v1h-1zM327.4 501.2h1v1h-1zM328.2 519.3h1v1h-1zM326.5 513.8h1v1h-1zM326.5 521.0h1v1h-1zM339.4 507.8h1v1h-1zM339.6 498.4h1v1h-1zM327.7 515.4h1v1h-1zM328.6 528.6h1v1h-1zM340.1 520.6h1v1h-1zM327.9 505.1h1v1h-1zM327.5 520.5h1v1h-1zM339.1 492.9h1v1h-1zM339.8 516.6h1v1h-1zM341.2 523.4h1v1h-1zM339.4 521.1h1v1h-1zM329.0 500.2h1v1h-1zM328.6 504.1h1v1h-1zM341.2 519.3h1v1h-1zM340.6 504.6h1v1h-1z"/><path fill="#aab0f2" d="M322.8 503.6h1v1h-1zM322.5 497.1h1v1h-1zM325.9 502.2h1v1h-1zM344.2 490.8h1v1h-1zM341.9 526.2h1v1h-1zM338.2 491.8h1v1h-1zM342.1 523.2h1v1h-1zM343.4 519.0h1v1h-1zM334.6 490.6h1v1h-1zM324.1 504.8h1v1h-1zM337.8 488.6h1v1h-1zM332.6 492.0h1v1h-1zM344.2 497.7h1v1h-1zM324.2 514.8h1v1h-1zM334.0 491.4h1v1h-1zM334.1 492.3h1v1h-1zM339.6 491.1h1v1h-1zM343.2 492.3h1v1h-1zM326.4 498.5h1v1h-1zM327.0 489.5h1v1h-1zM340.3 491.1h1v1h-1zM326.0 497.0h1v1h-1zM335.2 491.8h1v1h-1zM347.2 521.4h1v1h-1zM341.9 496.6h1v1h-1zM336.5 492.1h1v1h-1zM324.9 528.3h1v1h-1zM336.1 489.0h1v1h-1zM337.7 491.6h1v1h-1zM336.2 489.9h1v1h-1zM341.5 490.8h1v1h-1zM340.1 492.2h1v1h-1zM322.2 520.7h1v1h-1z"/><path fill="#c0c6f6" d="M333.7 492.7h1v1h-1zM338.8 516.5h1v1h-1zM335.7 495.3h1v1h-1zM330.7 499.0h1v1h-1zM331.2 515.2h1v1h-1zM333.8 506.0h1v1h-1zM336.3 525.0h1v1h-1zM331.4 510.3h1v1h-1zM331.0 498.1h1v1h-1zM333.8 523.1h1v1h-1zM331.4 515.9h1v1h-1zM334.6 517.6h1v1h-1zM335.6 527.3h1v1h-1zM329.6 497.5h1v1h-1zM336.5 498.5h1v1h-1zM337.7 499.3h1v1h-1zM331.3 520.4h1v1h-1zM337.1 503.2h1v1h-1zM338.1 519.4h1v1h-1zM335.5 506.0h1v1h-1zM335.1 519.5h1v1h-1zM331.3 507.7h1v1h-1z"/>
</g>
<line x1="326.20" y1="454.80" x2="326.20" y2="525.50" stroke="#a0a0a0" stroke-width="0.7" />
<line x1="311.00" y1="510.30" x2="388.70" y2="510.30" stroke="#a0a0a0" stroke-width="0.7" />
<rect x="311.0" y="454.8" width="77.7" height="70.7" fill="none" stroke="#6e6e6e" stroke-width="1.0"/>
<line x1="311.00" y1="454.80" x2="311.00" y2="525.50" stroke="#5e5e5e" stroke-width="1.5" />
<line x1="311.00" y1="525.50" x2="388.70" y2="525.50" stroke="#5e5e5e" stroke-width="1.5" />
<path d="M309.4 461.5H311.0M310.1 457.2H311.0M309.4 475.7H311.0M310.1 471.4H311.0M310.1 468.9H311.0M310.1 467.2H311.0M310.1 465.8H311.0M310.1 464.7H311.0M310.1 463.7H311.0M310.1 462.9H311.0M310.1 462.1H311.0M309.4 489.9H311.0M310.1 485.6H311.0M310.1 483.1H311.0M310.1 481.4H311.0M310.1 480.0H311.0M310.1 478.9H311.0M310.1 477.9H311.0M310.1 477.1H311.0M310.1 476.3H311.0M309.4 504.1H311.0M310.1 499.8H311.0M310.1 497.3H311.0M310.1 495.6H311.0M310.1 494.2H311.0M310.1 493.1H311.0M310.1 492.1H311.0M310.1 491.3H311.0M310.1 490.5H311.0M309.4 518.3H311.0M310.1 514.0H311.0M310.1 511.5H311.0M310.1 509.8H311.0M310.1 508.4H311.0M310.1 507.3H311.0M310.1 506.3H311.0M310.1 505.5H311.0M310.1 504.7H311.0M310.1 524.0H311.0M310.1 522.6H311.0M310.1 521.5H311.0M310.1 520.5H311.0M310.1 519.7H311.0M310.1 518.9H311.0M312.9 525.5V526.4M314.7 525.5V526.4M316.1 525.5V526.4M317.3 525.5V526.4M318.3 525.5V526.4M319.1 525.5V526.4M319.8 525.5V526.4M320.5 525.5V527.1M324.9 525.5V526.4M327.4 525.5V526.4M329.2 525.5V526.4M330.6 525.5V526.4M331.8 525.5V526.4M332.8 525.5V526.4M333.6 525.5V526.4M334.3 525.5V526.4M335.0 525.5V527.1M339.4 525.5V526.4M341.9 525.5V526.4M343.7 525.5V526.4M345.1 525.5V526.4M346.3 525.5V526.4M347.3 525.5V526.4M348.1 525.5V526.4M348.8 525.5V526.4M349.5 525.5V527.1M353.9 525.5V526.4M356.4 525.5V526.4M358.2 525.5V526.4M359.6 525.5V526.4M360.8 525.5V526.4M361.8 525.5V526.4M362.6 525.5V526.4M363.3 525.5V526.4M364.0 525.5V527.1M368.4 525.5V526.4M370.9 525.5V526.4M372.7 525.5V526.4M374.1 525.5V526.4M375.3 525.5V526.4M376.3 525.5V526.4M377.1 525.5V526.4M377.8 525.5V526.4M378.5 525.5V527.1M382.9 525.5V526.4M385.4 525.5V526.4M387.2 525.5V526.4M388.6 525.5V526.4" stroke="#555" stroke-width="0.6" fill="none"/>
<text x="308.6" y="462.9" font-size="4.4" fill="#666" text-anchor="end">10<tspan font-size="3.0" dy="-1.7">5</tspan></text>
<text x="308.6" y="477.1" font-size="4.4" fill="#666" text-anchor="end">10<tspan font-size="3.0" dy="-1.7">4</tspan></text>
<text x="308.6" y="491.3" font-size="4.4" fill="#666" text-anchor="end">10<tspan font-size="3.0" dy="-1.7">3</tspan></text>
<text x="308.6" y="505.5" font-size="4.4" fill="#666" text-anchor="end">10<tspan font-size="3.0" dy="-1.7">2</tspan></text>
<text x="308.6" y="519.7" font-size="4.4" fill="#666" text-anchor="end">10<tspan font-size="3.0" dy="-1.7">1</tspan></text>
<text x="320.5" y="534.7" font-size="4.4" fill="#666" text-anchor="middle">10<tspan font-size="3.0" dy="-1.7">1</tspan></text>
<text x="335.0" y="534.7" font-size="4.4" fill="#666" text-anchor="middle">10<tspan font-size="3.0" dy="-1.7">2</tspan></text>
<text x="349.5" y="534.7" font-size="4.4" fill="#666" text-anchor="middle">10<tspan font-size="3.0" dy="-1.7">3</tspan></text>
<text x="364.0" y="534.7" font-size="4.4" fill="#666" text-anchor="middle">10<tspan font-size="3.0" dy="-1.7">4</tspan></text>
<text x="378.5" y="534.7" font-size="4.4" fill="#666" text-anchor="middle">10<tspan font-size="3.0" dy="-1.7">5</tspan></text>
<text x="363.10" y="463.00" font-size="7.0" fill="#222" text-anchor="start" >Q2</text>
<text x="363.10" y="471.50" font-size="7.0" fill="#222" text-anchor="start" >45.12%</text>
<text x="363.10" y="512.30" font-size="7.0" fill="#222" text-anchor="start" >Q3</text>
<text x="363.10" y="521.30" font-size="7.0" fill="#222" text-anchor="start" >50.34%</text>
<text x="312.8" y="458.4" font-size="3.2" fill="#555">Q1</text>
<text x="312.8" y="462.0" font-size="3.2" fill="#555">1.74</text>
<text x="312.8" y="520.1" font-size="3.2" fill="#555">Q4</text>
<text x="312.8" y="523.7" font-size="3.2" fill="#555">2.80</text>
<rect x="401.0" y="454.8" width="78.8" height="71.0" fill="#fff"/>
<g clip-path="url(#fc10)">
<g filter="url(#fsoft2)"><rect x="415.5" y="491.0" width="22.0" height="39.0" rx="4" fill="#b0b6f4" opacity="0.45"/><rect x="418.5" y="494.0" width="16.0" height="33.0" rx="3" fill="#6478e6" opacity="0.7"/><rect x="421.4" y="497.0" width="10.2" height="30.0" rx="2" fill="#3450dc" opacity="0.75"/><rect x="424.3" y="500.0" width="4.5" height="27.0" rx="1" fill="#2a80d8" opacity="0.6"/><ellipse cx="426.5" cy="524.5" rx="3.5" ry="2.6" fill="#2ab0a0"/><ellipse cx="426.5" cy="524.5" rx="1.8" ry="1.4" fill="#70d030"/><ellipse cx="428.0" cy="500.0" rx="2.2" ry="2.6" fill="#28a8b0"/><ellipse cx="428.0" cy="500.0" rx="1.0" ry="1.2" fill="#60c850"/></g><path fill="#1e36cc" d="M431.0 520.1h1v1h-1zM432.4 506.9h1v1h-1zM430.1 526.4h1v1h-1zM422.1 523.3h1v1h-1zM420.8 510.0h1v1h-1zM423.1 515.4h1v1h-1zM429.8 497.5h1v1h-1zM426.8 498.2h1v1h-1zM432.7 515.7h1v1h-1zM424.2 508.5h1v1h-1zM425.7 526.5h1v1h-1zM431.5 515.1h1v1h-1zM429.2 522.0h1v1h-1zM422.1 496.3h1v1h-1zM428.0 500.6h1v1h-1zM432.3 498.7h1v1h-1zM423.0 527.0h1v1h-1zM429.7 501.0h1v1h-1zM424.7 524.4h1v1h-1zM420.2 514.1h1v1h-1zM424.7 500.4h1v1h-1zM426.0 501.5h1v1h-1zM431.0 504.4h1v1h-1zM428.2 509.5h1v1h-1zM421.6 505.5h1v1h-1zM429.1 514.0h1v1h-1zM429.6 503.1h1v1h-1zM421.2 517.1h1v1h-1zM430.7 514.6h1v1h-1zM421.6 509.7h1v1h-1zM421.6 519.2h1v1h-1zM426.9 506.5h1v1h-1zM422.4 502.1h1v1h-1zM427.2 505.2h1v1h-1z"/><path fill="#aab0f2" d="M433.0 491.9h1v1h-1zM437.2 497.4h1v1h-1zM412.9 521.9h1v1h-1zM414.0 507.5h1v1h-1zM415.5 511.6h1v1h-1zM414.2 523.0h1v1h-1zM425.6 492.0h1v1h-1zM428.6 492.6h1v1h-1zM413.3 513.3h1v1h-1zM416.3 497.2h1v1h-1zM416.1 504.9h1v1h-1zM428.3 491.8h1v1h-1zM428.3 493.5h1v1h-1zM410.5 495.5h1v1h-1zM415.3 525.7h1v1h-1zM411.9 503.6h1v1h-1zM427.6 491.9h1v1h-1zM437.3 512.9h1v1h-1zM419.0 491.1h1v1h-1zM409.5 519.9h1v1h-1zM436.0 493.2h1v1h-1zM439.7 503.7h1v1h-1zM439.2 491.5h1v1h-1zM438.7 512.7h1v1h-1zM427.1 493.1h1v1h-1zM442.5 508.6h1v1h-1zM413.4 519.1h1v1h-1zM413.3 505.7h1v1h-1zM439.8 491.5h1v1h-1zM442.2 510.9h1v1h-1zM413.6 491.7h1v1h-1zM407.1 496.9h1v1h-1zM414.6 520.8h1v1h-1zM422.3 491.0h1v1h-1zM415.3 527.3h1v1h-1z"/><path fill="#2a8ad8" d="M422.3 498.0h1v1h-1zM421.1 527.6h1v1h-1zM426.7 512.1h1v1h-1zM432.6 523.6h1v1h-1zM423.2 513.2h1v1h-1zM422.7 497.7h1v1h-1zM429.6 515.0h1v1h-1zM429.5 499.8h1v1h-1zM422.3 517.7h1v1h-1zM432.2 499.0h1v1h-1zM430.2 528.1h1v1h-1zM421.9 521.2h1v1h-1zM422.3 524.7h1v1h-1zM425.5 509.8h1v1h-1zM432.3 512.8h1v1h-1zM424.3 507.2h1v1h-1zM429.1 514.4h1v1h-1zM424.4 524.6h1v1h-1zM426.7 514.6h1v1h-1zM423.8 516.9h1v1h-1zM422.2 528.5h1v1h-1zM432.0 497.5h1v1h-1zM430.7 519.5h1v1h-1zM426.6 497.6h1v1h-1zM431.2 500.1h1v1h-1zM420.4 509.5h1v1h-1zM426.4 501.2h1v1h-1zM421.3 505.6h1v1h-1z"/><path fill="#6070e4" d="M434.2 527.3h1v1h-1zM433.2 520.2h1v1h-1zM434.6 499.3h1v1h-1zM417.1 494.9h1v1h-1zM435.5 518.0h1v1h-1zM419.6 503.4h1v1h-1zM435.5 519.9h1v1h-1zM434.6 519.4h1v1h-1zM435.2 503.0h1v1h-1zM417.9 514.1h1v1h-1zM432.9 511.1h1v1h-1zM434.8 498.1h1v1h-1zM434.6 528.2h1v1h-1zM433.2 501.7h1v1h-1zM419.8 517.6h1v1h-1zM419.4 519.6h1v1h-1zM433.0 494.5h1v1h-1zM418.5 497.9h1v1h-1zM419.4 504.9h1v1h-1zM434.6 505.7h1v1h-1zM417.0 500.1h1v1h-1zM416.9 501.3h1v1h-1zM417.4 520.0h1v1h-1zM433.1 515.5h1v1h-1zM417.5 510.6h1v1h-1zM417.2 518.6h1v1h-1zM434.5 519.8h1v1h-1zM436.5 499.4h1v1h-1z"/><path fill="#c0c6f6" d="M421.6 496.3h1v1h-1zM424.7 520.2h1v1h-1zM427.4 524.7h1v1h-1zM425.3 521.2h1v1h-1zM429.5 528.9h1v1h-1zM427.6 509.8h1v1h-1zM424.2 498.7h1v1h-1zM429.9 519.0h1v1h-1zM424.3 511.2h1v1h-1zM425.2 496.9h1v1h-1zM426.0 520.2h1v1h-1zM422.9 519.3h1v1h-1zM429.2 527.6h1v1h-1zM422.0 516.7h1v1h-1zM429.6 524.1h1v1h-1z"/>
</g>
<line x1="417.00" y1="454.80" x2="417.00" y2="525.80" stroke="#a0a0a0" stroke-width="0.7" />
<line x1="401.00" y1="513.80" x2="479.80" y2="513.80" stroke="#a0a0a0" stroke-width="0.7" />
<rect x="401.0" y="454.8" width="78.8" height="71.0" fill="none" stroke="#6e6e6e" stroke-width="1.0"/>
<line x1="401.00" y1="454.80" x2="401.00" y2="525.80" stroke="#5e5e5e" stroke-width="1.5" />
<line x1="401.00" y1="525.80" x2="479.80" y2="525.80" stroke="#5e5e5e" stroke-width="1.5" />
<path d="M399.4 461.5H401.0M400.1 457.2H401.0M399.4 475.7H401.0M400.1 471.4H401.0M400.1 468.9H401.0M400.1 467.2H401.0M400.1 465.8H401.0M400.1 464.7H401.0M400.1 463.7H401.0M400.1 462.9H401.0M400.1 462.1H401.0M399.4 489.9H401.0M400.1 485.6H401.0M400.1 483.1H401.0M400.1 481.4H401.0M400.1 480.0H401.0M400.1 478.9H401.0M400.1 477.9H401.0M400.1 477.1H401.0M400.1 476.3H401.0M399.4 504.1H401.0M400.1 499.8H401.0M400.1 497.3H401.0M400.1 495.6H401.0M400.1 494.2H401.0M400.1 493.1H401.0M400.1 492.1H401.0M400.1 491.3H401.0M400.1 490.5H401.0M399.4 518.3H401.0M400.1 514.0H401.0M400.1 511.5H401.0M400.1 509.8H401.0M400.1 508.4H401.0M400.1 507.3H401.0M400.1 506.3H401.0M400.1 505.5H401.0M400.1 504.7H401.0M400.1 525.7H401.0M400.1 524.0H401.0M400.1 522.6H401.0M400.1 521.5H401.0M400.1 520.5H401.0M400.1 519.7H401.0M400.1 518.9H401.0M402.9 525.8V526.7M404.7 525.8V526.7M406.1 525.8V526.7M407.3 525.8V526.7M408.3 525.8V526.7M409.1 525.8V526.7M409.8 525.8V526.7M410.5 525.8V527.4M414.9 525.8V526.7M417.4 525.8V526.7M419.2 525.8V526.7M420.6 525.8V526.7M421.8 525.8V526.7M422.8 525.8V526.7M423.6 525.8V526.7M424.3 525.8V526.7M425.0 525.8V527.4M429.4 525.8V526.7M431.9 525.8V526.7M433.7 525.8V526.7M435.1 525.8V526.7M436.3 525.8V526.7M437.3 525.8V526.7M438.1 525.8V526.7M438.8 525.8V526.7M439.5 525.8V527.4M443.9 525.8V526.7M446.4 525.8V526.7M448.2 525.8V526.7M449.6 525.8V526.7M450.8 525.8V526.7M451.8 525.8V526.7M452.6 525.8V526.7M453.3 525.8V526.7M454.0 525.8V527.4M458.4 525.8V526.7M460.9 525.8V526.7M462.7 525.8V526.7M464.1 525.8V526.7M465.3 525.8V526.7M466.3 525.8V526.7M467.1 525.8V526.7M467.8 525.8V526.7M468.5 525.8V527.4M472.9 525.8V526.7M475.4 525.8V526.7M477.2 525.8V526.7M478.6 525.8V526.7M479.8 525.8V526.7" stroke="#555" stroke-width="0.6" fill="none"/>
<text x="398.6" y="462.9" font-size="4.4" fill="#666" text-anchor="end">10<tspan font-size="3.0" dy="-1.7">5</tspan></text>
<text x="398.6" y="477.1" font-size="4.4" fill="#666" text-anchor="end">10<tspan font-size="3.0" dy="-1.7">4</tspan></text>
<text x="398.6" y="491.3" font-size="4.4" fill="#666" text-anchor="end">10<tspan font-size="3.0" dy="-1.7">3</tspan></text>
<text x="398.6" y="505.5" font-size="4.4" fill="#666" text-anchor="end">10<tspan font-size="3.0" dy="-1.7">2</tspan></text>
<text x="398.6" y="519.7" font-size="4.4" fill="#666" text-anchor="end">10<tspan font-size="3.0" dy="-1.7">1</tspan></text>
<text x="410.5" y="535.0" font-size="4.4" fill="#666" text-anchor="middle">10<tspan font-size="3.0" dy="-1.7">1</tspan></text>
<text x="425.0" y="535.0" font-size="4.4" fill="#666" text-anchor="middle">10<tspan font-size="3.0" dy="-1.7">2</tspan></text>
<text x="439.5" y="535.0" font-size="4.4" fill="#666" text-anchor="middle">10<tspan font-size="3.0" dy="-1.7">3</tspan></text>
<text x="454.0" y="535.0" font-size="4.4" fill="#666" text-anchor="middle">10<tspan font-size="3.0" dy="-1.7">4</tspan></text>
<text x="468.5" y="535.0" font-size="4.4" fill="#666" text-anchor="middle">10<tspan font-size="3.0" dy="-1.7">5</tspan></text>
<text x="454.20" y="463.00" font-size="7.0" fill="#222" text-anchor="start" >Q2</text>
<text x="454.20" y="471.50" font-size="7.0" fill="#222" text-anchor="start" >42.29%</text>
<text x="454.20" y="515.80" font-size="7.0" fill="#222" text-anchor="start" >Q3</text>
<text x="454.20" y="524.80" font-size="7.0" fill="#222" text-anchor="start" >54.91%</text>
<text x="402.8" y="458.4" font-size="3.2" fill="#555">Q1</text>
<text x="402.8" y="462.0" font-size="3.2" fill="#555">1.85</text>
<text x="402.8" y="520.4" font-size="3.2" fill="#555">Q4</text>
<text x="402.8" y="524.0" font-size="3.2" fill="#555">0.95</text>
<text x="0.00" y="0.00" font-size="13.3" fill="#111" text-anchor="middle" transform="translate(72.0 329.7) scale(0.92 1)">P0</text>
<text x="0.00" y="0.00" font-size="13.3" fill="#111" text-anchor="middle" transform="translate(162.3 329.7) scale(0.92 1)">P1</text>
<text x="0.00" y="0.00" font-size="13.3" fill="#111" text-anchor="middle" transform="translate(254.8 329.7) scale(0.92 1)">P3</text>
<text x="0.00" y="0.00" font-size="13.3" fill="#111" text-anchor="middle" transform="translate(347.8 329.7) scale(0.92 1)">P6</text>
<text x="0.00" y="0.00" font-size="13.3" fill="#111" text-anchor="middle" transform="translate(437.8 329.7) scale(0.92 1)">P9</text>
<text x="0.00" y="0.00" font-size="13.3" fill="#111" text-anchor="middle" transform="translate(71.6 450.5) scale(0.92 1)">P0</text>
<text x="0.00" y="0.00" font-size="13.3" fill="#111" text-anchor="middle" transform="translate(162.6 450.5) scale(0.92 1)">P1</text>
<text x="0.00" y="0.00" font-size="13.3" fill="#111" text-anchor="middle" transform="translate(254.8 450.5) scale(0.92 1)">P3</text>
<text x="0.00" y="0.00" font-size="13.3" fill="#111" text-anchor="middle" transform="translate(347.5 450.5) scale(0.92 1)">P6</text>
<text x="0.00" y="0.00" font-size="13.3" fill="#111" text-anchor="middle" transform="translate(437.4 450.5) scale(0.92 1)">P9</text>
<text x="0.00" y="0.00" font-size="13.2" fill="#111" text-anchor="middle" transform="translate(19.8 370.0) rotate(-90)" textLength="60.3" lengthAdjust="spacingAndGlyphs">SOX9-FITC</text>
<text x="0.00" y="0.00" font-size="13.2" fill="#111" text-anchor="middle" transform="translate(19.8 487.9) rotate(-90)" textLength="55.0" lengthAdjust="spacingAndGlyphs">Ki67-FITC</text>
<line x1="25.60" y1="429.00" x2="219.00" y2="429.00" stroke="#000" stroke-width="2.0" />
<line x1="288.30" y1="429.00" x2="469.90" y2="429.00" stroke="#000" stroke-width="2.0" />
<polygon points="18.6,429.0 27.2,424.9 27.2,433.1" fill="#000"/>
<polygon points="476.9,429.0 468.3,424.9 468.3,433.1" fill="#000"/>
<text x="254.25" y="437.20" font-size="12.6" fill="#111" text-anchor="middle" textLength="50.2" lengthAdjust="spacingAndGlyphs">PDX1-PE</text>
<line x1="36.40" y1="552.20" x2="219.50" y2="552.20" stroke="#000" stroke-width="2.0" />
<line x1="289.60" y1="552.20" x2="479.20" y2="552.20" stroke="#000" stroke-width="2.0" />
<polygon points="29.4,552.2 38.0,548.1 38.0,556.3" fill="#000"/>
<polygon points="486.2,552.2 477.6,548.1 477.6,556.3" fill="#000"/>
<text x="255.15" y="557.70" font-size="12.6" fill="#111" text-anchor="middle" textLength="50.2" lengthAdjust="spacingAndGlyphs">PDX1-PE</text>
<g clip-path="url(#clipA1)">
<rect x="27.20" y="18.80" width="179.60" height="134.90" fill="url(#abg)" />
<g filter="url(#bigblur)"><ellipse cx="120" cy="95" rx="45" ry="30" fill="#b0b2b2" opacity="0.35"/><ellipse cx="180" cy="60" rx="30" ry="40" fill="#c0c0be" opacity="0.35"/><ellipse cx="45" cy="60" rx="25" ry="35" fill="#84888b" opacity="0.3"/></g>
<circle cx="41.2" cy="37.1" r="18.5" fill="url(#awell)"/>
<circle cx="118.2" cy="36.6" r="19.4" fill="url(#awell)"/>
<circle cx="192.4" cy="36.1" r="18.5" fill="url(#awell)"/>
<circle cx="76.8" cy="73.0" r="19.5" fill="url(#awell)"/>
<circle cx="156.5" cy="73.9" r="19.5" fill="url(#awell)"/>
<circle cx="39.9" cy="112.2" r="18.5" fill="url(#awell)"/>
<circle cx="116.8" cy="112.2" r="19.5" fill="url(#awell)"/>
<circle cx="191.1" cy="112.2" r="18.5" fill="url(#awell)"/>
<circle cx="77.1" cy="150.5" r="19.5" fill="url(#awell)"/>
<circle cx="154.6" cy="150.5" r="19.5" fill="url(#awell)"/>
<g filter="url(#sblur)"><circle cx="39.0" cy="35.3" r="10.3" fill="url(#asph)"/>
<path fill="#948468" opacity="0.7" d="M33.5 27.8h.9v.9h-.9zM38.0 34.8h.9v.9h-.9zM43.7 42.7h.9v.9h-.9zM36.4 33.0h.9v.9h-.9zM42.1 32.1h.9v.9h-.9zM48.1 34.3h.9v.9h-.9zM48.0 33.4h.9v.9h-.9zM36.4 38.4h.9v.9h-.9zM47.1 35.5h.9v.9h-.9zM35.7 43.5h.9v.9h-.9zM48.0 38.7h.9v.9h-.9zM39.0 26.3h.9v.9h-.9zM41.1 35.4h.9v.9h-.9zM47.6 31.2h.9v.9h-.9zM33.7 33.8h.9v.9h-.9zM40.2 37.8h.9v.9h-.9zM35.4 26.2h.9v.9h-.9zM42.0 29.4h.9v.9h-.9zM47.8 38.5h.9v.9h-.9zM30.0 35.7h.9v.9h-.9zM39.8 32.2h.9v.9h-.9zM44.3 42.6h.9v.9h-.9zM45.5 34.3h.9v.9h-.9zM38.1 28.6h.9v.9h-.9zM35.9 37.4h.9v.9h-.9zM33.3 35.3h.9v.9h-.9zM33.6 41.5h.9v.9h-.9zM39.0 43.3h.9v.9h-.9zM32.0 31.4h.9v.9h-.9zM38.7 33.7h.9v.9h-.9zM31.6 38.2h.9v.9h-.9zM36.0 28.1h.9v.9h-.9zM34.4 36.1h.9v.9h-.9zM42.7 39.4h.9v.9h-.9z"/><path fill="#d2c8b2" opacity="0.8" d="M33.0 29.4h.9v.9h-.9zM46.9 32.3h.9v.9h-.9zM45.6 36.5h.9v.9h-.9zM34.2 36.2h.9v.9h-.9zM37.3 44.5h.9v.9h-.9zM46.0 33.6h.9v.9h-.9zM41.7 44.4h.9v.9h-.9zM43.9 37.4h.9v.9h-.9zM36.3 41.5h.9v.9h-.9zM40.4 29.5h.9v.9h-.9zM43.2 34.1h.9v.9h-.9zM34.7 40.9h.9v.9h-.9zM45.6 40.6h.9v.9h-.9zM40.2 33.9h.9v.9h-.9zM43.8 38.4h.9v.9h-.9zM44.0 32.5h.9v.9h-.9zM48.3 38.2h.9v.9h-.9zM35.0 38.0h.9v.9h-.9zM37.9 25.8h.9v.9h-.9zM29.6 38.1h.9v.9h-.9zM48.6 34.6h.9v.9h-.9zM37.8 43.9h.9v.9h-.9zM33.4 41.9h.9v.9h-.9zM36.3 27.8h.9v.9h-.9zM30.4 36.1h.9v.9h-.9zM36.4 44.5h.9v.9h-.9zM38.1 34.8h.9v.9h-.9zM42.2 28.1h.9v.9h-.9zM34.5 41.7h.9v.9h-.9zM41.7 30.2h.9v.9h-.9zM44.6 29.4h.9v.9h-.9zM45.8 33.4h.9v.9h-.9zM43.5 43.0h.9v.9h-.9zM30.9 36.5h.9v.9h-.9zM38.5 31.3h.9v.9h-.9zM32.9 29.3h.9v.9h-.9z"/></g>
<g filter="url(#sblur)"><circle cx="119.0" cy="34.4" r="10.8" fill="url(#asph)"/>
<path fill="#948468" opacity="0.7" d="M119.7 36.2h.9v.9h-.9zM119.7 44.1h.9v.9h-.9zM114.5 37.4h.9v.9h-.9zM126.0 40.6h.9v.9h-.9zM126.8 36.2h.9v.9h-.9zM128.0 32.0h.9v.9h-.9zM122.2 26.8h.9v.9h-.9zM113.2 42.2h.9v.9h-.9zM114.2 39.1h.9v.9h-.9zM116.4 44.2h.9v.9h-.9zM118.4 44.5h.9v.9h-.9zM113.5 34.7h.9v.9h-.9zM124.8 40.0h.9v.9h-.9zM126.5 35.0h.9v.9h-.9zM127.3 30.8h.9v.9h-.9zM116.9 42.1h.9v.9h-.9zM125.6 40.4h.9v.9h-.9zM113.2 33.2h.9v.9h-.9zM112.1 33.1h.9v.9h-.9zM118.8 26.5h.9v.9h-.9zM124.8 29.5h.9v.9h-.9zM116.9 26.5h.9v.9h-.9zM124.4 31.0h.9v.9h-.9zM121.7 30.8h.9v.9h-.9zM116.7 28.1h.9v.9h-.9zM120.9 24.8h.9v.9h-.9zM111.5 35.4h.9v.9h-.9zM120.0 31.9h.9v.9h-.9zM127.6 34.3h.9v.9h-.9zM127.3 31.8h.9v.9h-.9zM116.4 43.9h.9v.9h-.9zM113.9 30.2h.9v.9h-.9zM117.5 32.9h.9v.9h-.9zM117.0 36.3h.9v.9h-.9zM123.5 39.4h.9v.9h-.9zM118.4 42.0h.9v.9h-.9zM119.0 27.0h.9v.9h-.9zM126.2 38.7h.9v.9h-.9zM124.6 40.0h.9v.9h-.9zM124.1 29.4h.9v.9h-.9zM117.0 30.0h.9v.9h-.9zM124.2 40.6h.9v.9h-.9z"/><path fill="#d2c8b2" opacity="0.8" d="M113.1 39.9h.9v.9h-.9zM113.3 32.7h.9v.9h-.9zM124.0 40.6h.9v.9h-.9zM128.7 31.7h.9v.9h-.9zM125.0 39.2h.9v.9h-.9zM124.2 40.7h.9v.9h-.9zM128.5 32.0h.9v.9h-.9zM114.0 37.3h.9v.9h-.9zM116.6 43.1h.9v.9h-.9zM118.6 38.4h.9v.9h-.9zM114.1 28.1h.9v.9h-.9zM118.9 41.3h.9v.9h-.9zM120.2 27.8h.9v.9h-.9zM120.3 32.1h.9v.9h-.9zM117.0 37.9h.9v.9h-.9zM122.9 26.1h.9v.9h-.9zM127.6 35.8h.9v.9h-.9zM121.6 30.4h.9v.9h-.9zM111.1 30.4h.9v.9h-.9zM113.2 30.2h.9v.9h-.9zM117.3 36.1h.9v.9h-.9zM123.7 41.0h.9v.9h-.9zM125.5 30.3h.9v.9h-.9zM119.6 40.6h.9v.9h-.9zM122.7 42.2h.9v.9h-.9zM119.5 32.7h.9v.9h-.9zM122.8 35.7h.9v.9h-.9zM127.2 33.0h.9v.9h-.9z"/></g>
<g filter="url(#sblur)"><circle cx="195.1" cy="34.4" r="10.3" fill="url(#asph)"/>
<path fill="#948468" opacity="0.7" d="M191.6 39.3h.9v.9h-.9zM192.7 36.3h.9v.9h-.9zM186.6 35.4h.9v.9h-.9zM189.1 37.3h.9v.9h-.9zM197.3 37.6h.9v.9h-.9zM188.2 40.4h.9v.9h-.9zM195.0 39.6h.9v.9h-.9zM194.0 39.0h.9v.9h-.9zM204.3 36.3h.9v.9h-.9zM185.7 36.1h.9v.9h-.9zM194.6 30.5h.9v.9h-.9zM199.7 35.1h.9v.9h-.9zM187.3 40.0h.9v.9h-.9zM192.6 40.6h.9v.9h-.9zM194.2 26.2h.9v.9h-.9zM202.1 33.9h.9v.9h-.9zM185.6 34.9h.9v.9h-.9zM195.2 36.6h.9v.9h-.9zM199.7 36.2h.9v.9h-.9zM194.3 36.5h.9v.9h-.9zM189.3 38.5h.9v.9h-.9zM187.7 35.0h.9v.9h-.9zM195.6 37.7h.9v.9h-.9zM193.7 37.7h.9v.9h-.9zM195.2 37.2h.9v.9h-.9zM190.8 32.1h.9v.9h-.9zM194.4 32.4h.9v.9h-.9zM193.8 40.2h.9v.9h-.9zM195.6 27.0h.9v.9h-.9zM194.0 26.3h.9v.9h-.9zM197.4 28.8h.9v.9h-.9zM198.8 36.0h.9v.9h-.9zM192.8 29.7h.9v.9h-.9zM195.7 27.1h.9v.9h-.9zM198.5 35.5h.9v.9h-.9zM195.9 40.8h.9v.9h-.9zM199.0 27.0h.9v.9h-.9zM188.8 36.0h.9v.9h-.9zM202.5 33.0h.9v.9h-.9zM197.6 28.6h.9v.9h-.9z"/><path fill="#d2c8b2" opacity="0.8" d="M195.6 40.0h.9v.9h-.9zM198.9 27.5h.9v.9h-.9zM186.8 38.1h.9v.9h-.9zM188.9 30.3h.9v.9h-.9zM195.7 36.3h.9v.9h-.9zM186.0 36.1h.9v.9h-.9zM202.6 31.3h.9v.9h-.9zM192.5 29.8h.9v.9h-.9zM195.6 42.4h.9v.9h-.9zM191.2 29.3h.9v.9h-.9zM197.5 34.5h.9v.9h-.9zM193.3 35.5h.9v.9h-.9zM197.3 35.9h.9v.9h-.9zM199.2 33.7h.9v.9h-.9zM193.8 37.4h.9v.9h-.9zM201.8 30.8h.9v.9h-.9zM195.4 35.7h.9v.9h-.9zM189.2 28.5h.9v.9h-.9zM192.8 40.5h.9v.9h-.9zM202.4 38.9h.9v.9h-.9zM190.3 37.0h.9v.9h-.9zM186.4 31.2h.9v.9h-.9zM198.3 27.2h.9v.9h-.9zM201.2 27.0h.9v.9h-.9zM194.6 35.4h.9v.9h-.9zM191.1 33.6h.9v.9h-.9zM186.2 37.5h.9v.9h-.9zM199.2 38.1h.9v.9h-.9zM196.1 25.0h.9v.9h-.9zM196.9 34.2h.9v.9h-.9z"/></g>
<g filter="url(#sblur)"><circle cx="76.3" cy="71.7" r="10.3" fill="url(#asph)"/>
<path fill="#948468" opacity="0.7" d="M67.2 72.7h.9v.9h-.9zM77.4 76.7h.9v.9h-.9zM76.6 77.5h.9v.9h-.9zM71.7 67.5h.9v.9h-.9zM79.7 65.7h.9v.9h-.9zM70.0 65.6h.9v.9h-.9zM78.7 77.3h.9v.9h-.9zM81.7 72.6h.9v.9h-.9zM68.2 72.9h.9v.9h-.9zM73.3 65.3h.9v.9h-.9zM78.9 73.1h.9v.9h-.9zM73.0 80.5h.9v.9h-.9zM70.4 70.0h.9v.9h-.9zM68.5 69.0h.9v.9h-.9zM79.7 68.8h.9v.9h-.9zM80.7 68.7h.9v.9h-.9zM68.7 65.8h.9v.9h-.9zM73.0 69.2h.9v.9h-.9zM76.0 69.3h.9v.9h-.9zM81.2 63.4h.9v.9h-.9zM73.2 72.2h.9v.9h-.9zM78.0 74.2h.9v.9h-.9zM69.5 64.9h.9v.9h-.9zM78.3 73.2h.9v.9h-.9zM76.2 68.9h.9v.9h-.9zM70.5 70.1h.9v.9h-.9zM75.3 74.9h.9v.9h-.9zM72.4 75.3h.9v.9h-.9zM74.1 71.4h.9v.9h-.9zM76.9 79.7h.9v.9h-.9zM75.9 74.7h.9v.9h-.9zM83.5 71.0h.9v.9h-.9zM79.0 70.5h.9v.9h-.9z"/><path fill="#d2c8b2" opacity="0.8" d="M70.9 69.5h.9v.9h-.9zM85.2 70.7h.9v.9h-.9zM77.8 74.4h.9v.9h-.9zM79.8 69.1h.9v.9h-.9zM72.7 78.9h.9v.9h-.9zM83.3 72.1h.9v.9h-.9zM85.1 70.7h.9v.9h-.9zM73.5 64.2h.9v.9h-.9zM78.1 66.1h.9v.9h-.9zM68.8 67.6h.9v.9h-.9zM75.7 69.1h.9v.9h-.9zM71.7 63.3h.9v.9h-.9zM72.9 63.4h.9v.9h-.9zM72.9 68.8h.9v.9h-.9zM80.1 68.8h.9v.9h-.9zM73.1 74.3h.9v.9h-.9zM83.8 66.2h.9v.9h-.9zM73.9 73.8h.9v.9h-.9zM75.4 79.4h.9v.9h-.9zM80.2 78.5h.9v.9h-.9zM76.7 74.1h.9v.9h-.9zM80.7 63.7h.9v.9h-.9zM70.8 74.9h.9v.9h-.9zM79.6 72.3h.9v.9h-.9zM69.8 67.3h.9v.9h-.9zM80.9 65.4h.9v.9h-.9zM77.4 79.8h.9v.9h-.9zM73.9 69.6h.9v.9h-.9zM75.5 62.9h.9v.9h-.9zM74.1 62.5h.9v.9h-.9zM71.6 76.4h.9v.9h-.9zM71.4 68.3h.9v.9h-.9zM66.7 72.0h.9v.9h-.9zM84.0 75.4h.9v.9h-.9zM71.2 78.4h.9v.9h-.9zM73.5 63.5h.9v.9h-.9zM74.7 77.1h.9v.9h-.9z"/></g>
<g filter="url(#sblur)"><circle cx="156.0" cy="73.0" r="10.3" fill="url(#asph)"/>
<path fill="#948468" opacity="0.7" d="M155.2 74.0h.9v.9h-.9zM149.7 75.4h.9v.9h-.9zM153.8 72.9h.9v.9h-.9zM156.4 63.8h.9v.9h-.9zM160.6 72.8h.9v.9h-.9zM155.1 79.6h.9v.9h-.9zM154.3 70.0h.9v.9h-.9zM153.4 73.7h.9v.9h-.9zM163.4 67.5h.9v.9h-.9zM153.1 70.9h.9v.9h-.9zM164.3 68.4h.9v.9h-.9zM158.6 78.9h.9v.9h-.9zM155.1 70.2h.9v.9h-.9zM152.3 68.3h.9v.9h-.9zM156.4 80.4h.9v.9h-.9zM148.0 70.6h.9v.9h-.9zM147.8 74.0h.9v.9h-.9zM149.3 67.4h.9v.9h-.9zM154.1 73.0h.9v.9h-.9zM155.2 74.2h.9v.9h-.9zM159.8 77.4h.9v.9h-.9zM151.9 71.2h.9v.9h-.9zM158.7 74.1h.9v.9h-.9zM162.0 80.6h.9v.9h-.9zM150.1 78.0h.9v.9h-.9zM155.2 82.1h.9v.9h-.9zM159.3 70.5h.9v.9h-.9zM146.9 73.3h.9v.9h-.9zM150.1 68.1h.9v.9h-.9zM159.1 72.0h.9v.9h-.9zM154.8 70.3h.9v.9h-.9zM155.7 78.3h.9v.9h-.9zM152.2 73.8h.9v.9h-.9zM155.2 82.5h.9v.9h-.9zM160.9 76.1h.9v.9h-.9zM157.7 76.2h.9v.9h-.9zM159.2 71.0h.9v.9h-.9z"/><path fill="#d2c8b2" opacity="0.8" d="M156.3 72.4h.9v.9h-.9zM150.2 74.6h.9v.9h-.9zM160.3 74.5h.9v.9h-.9zM154.3 82.4h.9v.9h-.9zM157.1 66.7h.9v.9h-.9zM162.4 68.5h.9v.9h-.9zM157.5 73.3h.9v.9h-.9zM148.2 77.7h.9v.9h-.9zM161.2 69.9h.9v.9h-.9zM157.2 66.8h.9v.9h-.9zM164.8 74.0h.9v.9h-.9zM156.1 67.0h.9v.9h-.9zM160.1 78.8h.9v.9h-.9zM148.6 74.0h.9v.9h-.9zM156.8 66.7h.9v.9h-.9zM148.5 75.4h.9v.9h-.9zM151.1 78.2h.9v.9h-.9zM164.8 69.3h.9v.9h-.9zM154.7 76.8h.9v.9h-.9zM161.8 76.1h.9v.9h-.9zM150.0 71.9h.9v.9h-.9zM153.8 79.9h.9v.9h-.9zM154.6 81.5h.9v.9h-.9zM155.3 81.9h.9v.9h-.9zM164.0 75.7h.9v.9h-.9zM158.0 73.1h.9v.9h-.9zM153.2 71.2h.9v.9h-.9zM148.4 74.9h.9v.9h-.9zM155.5 70.5h.9v.9h-.9zM157.9 70.2h.9v.9h-.9zM156.4 66.0h.9v.9h-.9zM149.1 76.5h.9v.9h-.9zM153.5 67.0h.9v.9h-.9z"/></g>
<g filter="url(#sblur)"><circle cx="39.0" cy="112.2" r="10.8" fill="url(#asph)"/>
<path fill="#948468" opacity="0.7" d="M31.1 109.4h.9v.9h-.9zM41.0 103.0h.9v.9h-.9zM43.1 115.5h.9v.9h-.9zM32.6 104.4h.9v.9h-.9zM39.7 106.3h.9v.9h-.9zM48.6 115.3h.9v.9h-.9zM33.3 105.6h.9v.9h-.9zM34.1 115.4h.9v.9h-.9zM47.0 115.6h.9v.9h-.9zM40.8 110.3h.9v.9h-.9zM44.8 107.8h.9v.9h-.9zM34.8 114.7h.9v.9h-.9zM33.9 110.0h.9v.9h-.9zM44.6 117.2h.9v.9h-.9zM46.5 111.6h.9v.9h-.9zM35.2 111.5h.9v.9h-.9zM45.5 109.6h.9v.9h-.9zM37.1 120.8h.9v.9h-.9zM41.8 115.3h.9v.9h-.9zM43.5 119.5h.9v.9h-.9zM34.5 109.7h.9v.9h-.9zM47.2 115.0h.9v.9h-.9zM43.8 109.6h.9v.9h-.9zM41.7 109.6h.9v.9h-.9zM30.3 117.4h.9v.9h-.9zM49.0 112.3h.9v.9h-.9zM44.0 105.5h.9v.9h-.9zM43.4 105.0h.9v.9h-.9zM32.1 106.2h.9v.9h-.9zM40.3 102.9h.9v.9h-.9zM32.1 110.6h.9v.9h-.9zM32.8 117.7h.9v.9h-.9zM31.0 115.1h.9v.9h-.9zM38.4 121.6h.9v.9h-.9zM44.5 116.5h.9v.9h-.9zM39.8 114.7h.9v.9h-.9zM44.0 115.9h.9v.9h-.9zM39.1 112.8h.9v.9h-.9z"/><path fill="#d2c8b2" opacity="0.8" d="M31.5 112.5h.9v.9h-.9zM43.1 108.8h.9v.9h-.9zM32.6 105.2h.9v.9h-.9zM43.2 121.2h.9v.9h-.9zM29.1 111.5h.9v.9h-.9zM35.8 112.9h.9v.9h-.9zM37.9 119.7h.9v.9h-.9zM34.8 114.3h.9v.9h-.9zM44.5 109.1h.9v.9h-.9zM44.1 109.3h.9v.9h-.9zM45.8 108.4h.9v.9h-.9zM30.2 113.8h.9v.9h-.9zM42.1 115.6h.9v.9h-.9zM38.6 108.9h.9v.9h-.9zM31.4 114.9h.9v.9h-.9zM39.5 106.3h.9v.9h-.9zM34.4 106.7h.9v.9h-.9zM34.0 104.8h.9v.9h-.9zM38.2 105.0h.9v.9h-.9zM38.6 112.2h.9v.9h-.9zM42.0 121.9h.9v.9h-.9zM39.7 121.5h.9v.9h-.9zM38.8 113.2h.9v.9h-.9zM31.3 107.9h.9v.9h-.9zM33.8 114.5h.9v.9h-.9zM33.5 117.9h.9v.9h-.9zM40.2 112.6h.9v.9h-.9zM41.3 105.5h.9v.9h-.9zM48.0 113.6h.9v.9h-.9zM32.3 105.6h.9v.9h-.9zM37.0 103.0h.9v.9h-.9zM48.6 113.4h.9v.9h-.9z"/></g>
<g filter="url(#sblur)"><circle cx="115.5" cy="112.8" r="10.8" fill="url(#asph)"/>
<path fill="#948468" opacity="0.7" d="M112.8 121.1h.9v.9h-.9zM113.7 108.4h.9v.9h-.9zM109.2 114.8h.9v.9h-.9zM121.9 107.0h.9v.9h-.9zM117.6 118.3h.9v.9h-.9zM111.8 104.6h.9v.9h-.9zM106.3 110.8h.9v.9h-.9zM122.1 117.3h.9v.9h-.9zM118.9 117.1h.9v.9h-.9zM119.5 118.2h.9v.9h-.9zM119.0 114.7h.9v.9h-.9zM106.4 114.1h.9v.9h-.9zM118.7 118.7h.9v.9h-.9zM117.7 108.4h.9v.9h-.9zM122.8 117.7h.9v.9h-.9zM112.4 120.7h.9v.9h-.9zM122.6 108.7h.9v.9h-.9zM108.5 112.2h.9v.9h-.9zM118.6 117.2h.9v.9h-.9zM123.1 116.4h.9v.9h-.9zM114.7 115.8h.9v.9h-.9zM120.5 110.5h.9v.9h-.9zM109.9 121.0h.9v.9h-.9zM111.5 120.3h.9v.9h-.9zM117.2 111.0h.9v.9h-.9zM119.9 106.4h.9v.9h-.9zM111.1 106.1h.9v.9h-.9zM112.2 114.5h.9v.9h-.9zM119.6 108.9h.9v.9h-.9zM109.2 108.0h.9v.9h-.9zM107.2 115.7h.9v.9h-.9zM113.7 120.9h.9v.9h-.9zM111.5 113.9h.9v.9h-.9zM118.6 119.1h.9v.9h-.9zM114.5 105.9h.9v.9h-.9zM108.1 115.9h.9v.9h-.9zM112.8 108.5h.9v.9h-.9zM116.5 107.2h.9v.9h-.9zM122.5 114.8h.9v.9h-.9zM113.3 112.4h.9v.9h-.9z"/><path fill="#d2c8b2" opacity="0.8" d="M120.5 121.5h.9v.9h-.9zM106.9 115.3h.9v.9h-.9zM120.9 106.3h.9v.9h-.9zM122.3 105.7h.9v.9h-.9zM108.3 117.0h.9v.9h-.9zM123.1 113.1h.9v.9h-.9zM118.5 107.7h.9v.9h-.9zM122.9 115.7h.9v.9h-.9zM122.5 108.9h.9v.9h-.9zM116.6 110.3h.9v.9h-.9zM117.1 121.0h.9v.9h-.9zM111.4 121.4h.9v.9h-.9zM112.6 112.5h.9v.9h-.9zM112.9 116.7h.9v.9h-.9zM112.4 113.6h.9v.9h-.9zM114.3 117.9h.9v.9h-.9zM109.5 112.7h.9v.9h-.9zM122.4 118.4h.9v.9h-.9zM118.2 114.0h.9v.9h-.9zM113.0 105.9h.9v.9h-.9zM119.9 106.0h.9v.9h-.9zM113.1 110.4h.9v.9h-.9zM109.3 119.4h.9v.9h-.9zM121.5 110.4h.9v.9h-.9zM119.2 112.7h.9v.9h-.9zM118.5 118.6h.9v.9h-.9zM111.3 115.8h.9v.9h-.9zM115.1 114.7h.9v.9h-.9zM109.1 109.3h.9v.9h-.9zM112.3 110.1h.9v.9h-.9z"/></g>
<g filter="url(#sblur)"><circle cx="195.1" cy="110.0" r="10.3" fill="url(#asph)"/>
<path fill="#948468" opacity="0.7" d="M203.8 109.4h.9v.9h-.9zM193.4 110.5h.9v.9h-.9zM198.6 119.1h.9v.9h-.9zM195.1 112.5h.9v.9h-.9zM199.5 102.6h.9v.9h-.9zM197.6 114.4h.9v.9h-.9zM198.8 117.4h.9v.9h-.9zM201.3 106.2h.9v.9h-.9zM190.4 107.7h.9v.9h-.9zM194.7 116.6h.9v.9h-.9zM199.4 112.4h.9v.9h-.9zM194.8 102.5h.9v.9h-.9zM200.4 103.1h.9v.9h-.9zM195.2 110.7h.9v.9h-.9zM197.6 119.0h.9v.9h-.9zM194.1 107.4h.9v.9h-.9zM188.0 111.5h.9v.9h-.9zM194.8 104.2h.9v.9h-.9zM186.2 108.8h.9v.9h-.9zM193.1 114.8h.9v.9h-.9zM188.8 105.3h.9v.9h-.9zM188.2 112.4h.9v.9h-.9zM202.7 115.6h.9v.9h-.9zM189.8 110.0h.9v.9h-.9zM194.6 113.9h.9v.9h-.9zM197.4 108.5h.9v.9h-.9zM192.5 102.7h.9v.9h-.9zM190.5 111.8h.9v.9h-.9zM191.2 117.1h.9v.9h-.9zM193.6 101.6h.9v.9h-.9zM197.5 107.1h.9v.9h-.9zM198.0 101.6h.9v.9h-.9zM192.2 116.3h.9v.9h-.9zM198.6 118.8h.9v.9h-.9zM192.4 118.4h.9v.9h-.9zM189.5 110.8h.9v.9h-.9zM195.0 110.1h.9v.9h-.9z"/><path fill="#d2c8b2" opacity="0.8" d="M203.5 109.8h.9v.9h-.9zM200.5 110.4h.9v.9h-.9zM200.1 103.3h.9v.9h-.9zM201.7 108.2h.9v.9h-.9zM190.8 113.4h.9v.9h-.9zM195.6 110.7h.9v.9h-.9zM195.7 114.4h.9v.9h-.9zM190.6 107.4h.9v.9h-.9zM188.2 105.5h.9v.9h-.9zM186.0 110.7h.9v.9h-.9zM188.0 107.2h.9v.9h-.9zM195.8 115.1h.9v.9h-.9zM191.3 110.4h.9v.9h-.9zM193.9 103.4h.9v.9h-.9zM196.3 100.5h.9v.9h-.9zM201.8 111.9h.9v.9h-.9zM189.4 104.9h.9v.9h-.9zM202.4 106.3h.9v.9h-.9zM193.8 105.5h.9v.9h-.9zM193.3 108.3h.9v.9h-.9zM196.1 116.8h.9v.9h-.9zM201.1 107.6h.9v.9h-.9zM200.7 109.7h.9v.9h-.9zM197.8 109.2h.9v.9h-.9zM190.9 104.1h.9v.9h-.9zM189.0 104.6h.9v.9h-.9zM186.7 114.2h.9v.9h-.9zM195.3 104.4h.9v.9h-.9zM187.3 108.4h.9v.9h-.9zM200.6 103.8h.9v.9h-.9zM188.2 110.3h.9v.9h-.9zM193.1 109.2h.9v.9h-.9zM191.4 103.6h.9v.9h-.9z"/></g>
<g filter="url(#sblur)"><circle cx="76.3" cy="147.3" r="10.3" fill="url(#asph)"/>
<path fill="#948468" opacity="0.7" d="M81.7 145.2h.9v.9h-.9zM74.2 154.8h.9v.9h-.9zM81.5 152.1h.9v.9h-.9zM81.7 154.1h.9v.9h-.9zM85.2 149.8h.9v.9h-.9zM81.7 147.5h.9v.9h-.9zM84.1 142.3h.9v.9h-.9zM83.6 146.7h.9v.9h-.9zM76.5 153.7h.9v.9h-.9zM70.4 146.5h.9v.9h-.9zM79.6 147.9h.9v.9h-.9zM84.3 147.8h.9v.9h-.9zM76.9 152.8h.9v.9h-.9zM78.6 156.0h.9v.9h-.9zM75.2 145.4h.9v.9h-.9zM80.2 140.9h.9v.9h-.9zM67.1 148.3h.9v.9h-.9zM83.1 142.9h.9v.9h-.9zM73.0 152.0h.9v.9h-.9zM77.4 154.2h.9v.9h-.9zM85.3 149.1h.9v.9h-.9zM72.4 149.2h.9v.9h-.9zM81.8 145.5h.9v.9h-.9zM74.7 155.8h.9v.9h-.9zM82.6 149.2h.9v.9h-.9zM72.5 142.8h.9v.9h-.9zM68.3 147.9h.9v.9h-.9zM78.3 139.3h.9v.9h-.9zM72.9 149.2h.9v.9h-.9zM74.1 142.1h.9v.9h-.9zM83.1 142.8h.9v.9h-.9zM69.9 142.0h.9v.9h-.9zM75.8 141.8h.9v.9h-.9zM76.1 150.0h.9v.9h-.9z"/><path fill="#d2c8b2" opacity="0.8" d="M79.6 151.7h.9v.9h-.9zM68.4 150.5h.9v.9h-.9zM80.2 143.4h.9v.9h-.9zM81.3 147.4h.9v.9h-.9zM74.5 139.1h.9v.9h-.9zM81.8 150.5h.9v.9h-.9zM71.1 148.9h.9v.9h-.9zM70.9 148.1h.9v.9h-.9zM77.0 157.0h.9v.9h-.9zM68.4 146.1h.9v.9h-.9zM78.9 148.5h.9v.9h-.9zM71.6 144.8h.9v.9h-.9zM85.1 149.9h.9v.9h-.9zM76.5 149.8h.9v.9h-.9zM79.0 153.2h.9v.9h-.9zM81.9 143.3h.9v.9h-.9zM82.6 154.4h.9v.9h-.9zM81.8 146.6h.9v.9h-.9zM81.2 139.2h.9v.9h-.9zM80.9 149.6h.9v.9h-.9zM75.6 153.5h.9v.9h-.9zM69.3 142.5h.9v.9h-.9zM79.1 155.2h.9v.9h-.9zM71.2 142.8h.9v.9h-.9zM77.7 148.5h.9v.9h-.9zM80.7 155.4h.9v.9h-.9zM73.8 154.5h.9v.9h-.9zM82.4 145.2h.9v.9h-.9zM83.3 144.0h.9v.9h-.9zM77.8 147.5h.9v.9h-.9zM72.2 152.3h.9v.9h-.9zM80.5 147.0h.9v.9h-.9zM73.1 143.2h.9v.9h-.9zM78.9 142.7h.9v.9h-.9zM71.6 155.8h.9v.9h-.9zM69.1 148.6h.9v.9h-.9z"/></g>
<g filter="url(#sblur)"><circle cx="157.3" cy="146.8" r="10.3" fill="url(#asph)"/>
<path fill="#948468" opacity="0.7" d="M150.9 146.9h.9v.9h-.9zM154.4 145.3h.9v.9h-.9zM156.6 141.1h.9v.9h-.9zM158.4 155.1h.9v.9h-.9zM152.6 144.2h.9v.9h-.9zM153.0 142.3h.9v.9h-.9zM154.8 141.3h.9v.9h-.9zM148.0 144.8h.9v.9h-.9zM154.1 152.0h.9v.9h-.9zM148.8 146.9h.9v.9h-.9zM163.5 142.6h.9v.9h-.9zM157.6 146.9h.9v.9h-.9zM157.0 153.7h.9v.9h-.9zM149.8 143.9h.9v.9h-.9zM158.6 144.1h.9v.9h-.9zM163.2 140.1h.9v.9h-.9zM155.5 141.1h.9v.9h-.9zM158.1 138.6h.9v.9h-.9zM161.4 146.2h.9v.9h-.9zM156.5 140.8h.9v.9h-.9zM149.0 150.9h.9v.9h-.9zM161.6 144.3h.9v.9h-.9zM155.9 142.8h.9v.9h-.9zM159.7 151.0h.9v.9h-.9zM156.0 151.6h.9v.9h-.9zM162.2 151.1h.9v.9h-.9zM148.2 148.4h.9v.9h-.9zM155.7 147.5h.9v.9h-.9z"/><path fill="#d2c8b2" opacity="0.8" d="M150.7 143.1h.9v.9h-.9zM150.7 140.6h.9v.9h-.9zM151.4 153.0h.9v.9h-.9zM164.2 153.5h.9v.9h-.9zM157.2 139.6h.9v.9h-.9zM160.7 139.0h.9v.9h-.9zM154.6 149.1h.9v.9h-.9zM159.0 154.6h.9v.9h-.9zM157.2 147.3h.9v.9h-.9zM159.2 139.5h.9v.9h-.9zM150.0 144.5h.9v.9h-.9zM151.8 142.6h.9v.9h-.9zM160.1 151.9h.9v.9h-.9zM153.5 141.1h.9v.9h-.9zM154.6 151.9h.9v.9h-.9zM154.6 141.0h.9v.9h-.9zM164.4 148.0h.9v.9h-.9zM160.4 143.8h.9v.9h-.9zM153.3 140.1h.9v.9h-.9zM156.2 144.4h.9v.9h-.9zM159.9 150.2h.9v.9h-.9zM157.6 152.7h.9v.9h-.9zM160.6 155.5h.9v.9h-.9zM155.2 142.2h.9v.9h-.9zM149.9 140.7h.9v.9h-.9zM159.9 150.4h.9v.9h-.9zM151.1 143.3h.9v.9h-.9zM150.4 143.2h.9v.9h-.9zM163.3 142.1h.9v.9h-.9zM156.5 152.7h.9v.9h-.9zM152.9 147.8h.9v.9h-.9zM155.2 142.1h.9v.9h-.9zM158.6 151.2h.9v.9h-.9zM161.6 150.2h.9v.9h-.9zM151.5 153.6h.9v.9h-.9zM161.4 153.8h.9v.9h-.9zM152.4 146.1h.9v.9h-.9zM156.3 155.8h.9v.9h-.9zM161.5 144.8h.9v.9h-.9zM152.5 145.5h.9v.9h-.9zM151.1 153.6h.9v.9h-.9zM152.1 149.8h.9v.9h-.9z"/></g>
<rect x="188.30" y="142.00" width="12.20" height="3.00" fill="#fff" />
</g>
<g clip-path="url(#clipA2)">
<rect x="27.20" y="157.60" width="179.60" height="133.20" fill="#adabc4" />
<circle cx="36.5" cy="174.5" r="19.5" fill="url(#bsph)" filter="url(#grain2)"/>
<circle cx="36.5" cy="174.5" r="19.1" fill="none" stroke="#d6d4e0" stroke-width="0.8" opacity="0.7"/>
<circle cx="127.1" cy="164.5" r="26.5" fill="url(#bsph)" filter="url(#grain2)"/>
<circle cx="127.1" cy="164.5" r="26.1" fill="none" stroke="#d6d4e0" stroke-width="0.8" opacity="0.7"/>
<circle cx="187.0" cy="169.9" r="20.8" fill="url(#bsph)" filter="url(#grain2)"/>
<circle cx="187.0" cy="169.9" r="20.4" fill="none" stroke="#d6d4e0" stroke-width="0.8" opacity="0.7"/>
<circle cx="74.1" cy="203.6" r="27.0" fill="url(#bsph)" filter="url(#grain2)"/>
<circle cx="74.1" cy="203.6" r="26.6" fill="none" stroke="#d6d4e0" stroke-width="0.8" opacity="0.7"/>
<circle cx="135.7" cy="211.7" r="25.1" fill="url(#bsph)" filter="url(#grain2)"/>
<circle cx="135.7" cy="211.7" r="24.7" fill="none" stroke="#d6d4e0" stroke-width="0.8" opacity="0.7"/>
<circle cx="30.4" cy="224.7" r="23.0" fill="url(#bsph)" filter="url(#grain2)"/>
<circle cx="30.4" cy="224.7" r="22.6" fill="none" stroke="#d6d4e0" stroke-width="0.8" opacity="0.7"/>
<circle cx="183.0" cy="234.7" r="25.7" fill="url(#bsph)" filter="url(#grain2)"/>
<circle cx="183.0" cy="234.7" r="25.3" fill="none" stroke="#d6d4e0" stroke-width="0.8" opacity="0.7"/>
<circle cx="105.5" cy="248.2" r="27.0" fill="url(#bsph)" filter="url(#grain2)"/>
<circle cx="105.5" cy="248.2" r="26.6" fill="none" stroke="#d6d4e0" stroke-width="0.8" opacity="0.7"/>
<circle cx="56.9" cy="271.7" r="27.0" fill="url(#bsph)" filter="url(#grain2)"/>
<circle cx="56.9" cy="271.7" r="26.6" fill="none" stroke="#d6d4e0" stroke-width="0.8" opacity="0.7"/>
<circle cx="167.6" cy="281.9" r="27.0" fill="url(#bsph)" filter="url(#grain2)"/>
<circle cx="167.6" cy="281.9" r="26.6" fill="none" stroke="#d6d4e0" stroke-width="0.8" opacity="0.7"/>
<circle cx="211.3" cy="284.6" r="17.6" fill="url(#bsph)" filter="url(#grain2)"/>
<circle cx="211.3" cy="284.6" r="17.2" fill="none" stroke="#d6d4e0" stroke-width="0.8" opacity="0.7"/>
<circle cx="126.3" cy="301.0" r="13.5" fill="url(#bsph)" filter="url(#grain2)"/>
<circle cx="126.3" cy="301.0" r="13.1" fill="none" stroke="#d6d4e0" stroke-width="0.8" opacity="0.7"/>
<rect x="171.00" y="274.00" width="23.60" height="3.00" fill="#fff" />
</g>
<rect x="521.60" y="311.80" width="160.30" height="120.60" fill="#020302" />
<g clip-path="url(#clipE1)">
<ellipse cx="604.5" cy="372.7" rx="33" ry="32.8" fill="#3a3208"/>
<g filter="url(#eblur)"><path fill="#eeea44" d="M579.6 379.9a1.5 1.5 0 1 0 2.9 0a1.5 1.5 0 1 0 -2.9 0M622.1 360.8a1.4 1.4 0 1 0 2.8 0a1.4 1.4 0 1 0 -2.8 0M618.9 382.5a1.7 1.7 0 1 0 3.4 0a1.7 1.7 0 1 0 -3.4 0M587.7 388.5a1.5 1.5 0 1 0 3.0 0a1.5 1.5 0 1 0 -3.0 0M625.7 385.3a1.8 1.8 0 1 0 3.6 0a1.8 1.8 0 1 0 -3.6 0M606.8 385.5a1.6 1.6 0 1 0 3.3 0a1.6 1.6 0 1 0 -3.3 0M610.9 367.4a1.7 1.7 0 1 0 3.4 0a1.7 1.7 0 1 0 -3.4 0M625.0 365.1a1.2 1.2 0 1 0 2.3 0a1.2 1.2 0 1 0 -2.3 0M598.7 369.4a1.5 1.5 0 1 0 3.0 0a1.5 1.5 0 1 0 -3.0 0M583.9 359.1a1.7 1.7 0 1 0 3.5 0a1.7 1.7 0 1 0 -3.5 0M580.7 365.5a1.6 1.6 0 1 0 3.1 0a1.6 1.6 0 1 0 -3.1 0M597.0 367.6a1.4 1.4 0 1 0 2.9 0a1.4 1.4 0 1 0 -2.9 0M602.6 365.4a1.9 1.9 0 1 0 3.7 0a1.9 1.9 0 1 0 -3.7 0M598.9 350.7a1.8 1.8 0 1 0 3.5 0a1.8 1.8 0 1 0 -3.5 0M579.1 366.0a1.6 1.6 0 1 0 3.2 0a1.6 1.6 0 1 0 -3.2 0M598.1 345.7a1.4 1.4 0 1 0 2.9 0a1.4 1.4 0 1 0 -2.9 0M580.7 375.5a1.6 1.6 0 1 0 3.1 0a1.6 1.6 0 1 0 -3.1 0M620.4 394.1a1.5 1.5 0 1 0 3.0 0a1.5 1.5 0 1 0 -3.0 0M586.9 366.5a1.9 1.9 0 1 0 3.8 0a1.9 1.9 0 1 0 -3.8 0M616.3 375.5a1.9 1.9 0 1 0 3.7 0a1.9 1.9 0 1 0 -3.7 0M597.0 361.8a1.6 1.6 0 1 0 3.2 0a1.6 1.6 0 1 0 -3.2 0M620.5 389.5a1.1 1.1 0 1 0 2.2 0a1.1 1.1 0 1 0 -2.2 0M594.4 394.2a1.9 1.9 0 1 0 3.8 0a1.9 1.9 0 1 0 -3.8 0M605.2 390.4a1.6 1.6 0 1 0 3.3 0a1.6 1.6 0 1 0 -3.3 0M593.8 351.2a1.2 1.2 0 1 0 2.5 0a1.2 1.2 0 1 0 -2.5 0M595.0 393.0a1.6 1.6 0 1 0 3.3 0a1.6 1.6 0 1 0 -3.3 0M618.1 358.9a1.1 1.1 0 1 0 2.3 0a1.1 1.1 0 1 0 -2.3 0M608.1 382.2a1.3 1.3 0 1 0 2.6 0a1.3 1.3 0 1 0 -2.6 0M599.2 399.2a1.4 1.4 0 1 0 2.7 0a1.4 1.4 0 1 0 -2.7 0M611.2 390.5a1.2 1.2 0 1 0 2.4 0a1.2 1.2 0 1 0 -2.4 0M582.2 358.8a1.2 1.2 0 1 0 2.4 0a1.2 1.2 0 1 0 -2.4 0M616.9 350.5a1.8 1.8 0 1 0 3.5 0a1.8 1.8 0 1 0 -3.5 0M610.3 350.4a1.2 1.2 0 1 0 2.3 0a1.2 1.2 0 1 0 -2.3 0M590.4 350.4a1.9 1.9 0 1 0 3.8 0a1.9 1.9 0 1 0 -3.8 0M610.6 362.3a1.5 1.5 0 1 0 3.0 0a1.5 1.5 0 1 0 -3.0 0M624.3 373.9a1.1 1.1 0 1 0 2.2 0a1.1 1.1 0 1 0 -2.2 0M599.6 369.0a1.7 1.7 0 1 0 3.4 0a1.7 1.7 0 1 0 -3.4 0M596.4 383.7a1.7 1.7 0 1 0 3.4 0a1.7 1.7 0 1 0 -3.4 0M595.5 354.4a1.7 1.7 0 1 0 3.3 0a1.7 1.7 0 1 0 -3.3 0M592.7 368.2a1.3 1.3 0 1 0 2.7 0a1.3 1.3 0 1 0 -2.7 0M627.2 377.3a1.6 1.6 0 1 0 3.3 0a1.6 1.6 0 1 0 -3.3 0M588.5 396.2a1.9 1.9 0 1 0 3.8 0a1.9 1.9 0 1 0 -3.8 0"/><path fill="#e0d420" d="M577.9 371.5a1.5 1.5 0 1 0 3.0 0a1.5 1.5 0 1 0 -3.0 0M608.9 387.6a1.5 1.5 0 1 0 2.9 0a1.5 1.5 0 1 0 -2.9 0M597.1 387.0a1.2 1.2 0 1 0 2.3 0a1.2 1.2 0 1 0 -2.3 0M615.4 383.6a1.1 1.1 0 1 0 2.3 0a1.1 1.1 0 1 0 -2.3 0M613.1 398.7a1.6 1.6 0 1 0 3.2 0a1.6 1.6 0 1 0 -3.2 0M619.0 386.8a1.3 1.3 0 1 0 2.6 0a1.3 1.3 0 1 0 -2.6 0M606.0 354.2a1.2 1.2 0 1 0 2.3 0a1.2 1.2 0 1 0 -2.3 0M624.0 386.0a1.6 1.6 0 1 0 3.2 0a1.6 1.6 0 1 0 -3.2 0M615.8 397.4a1.3 1.3 0 1 0 2.6 0a1.3 1.3 0 1 0 -2.6 0M616.0 365.4a1.3 1.3 0 1 0 2.6 0a1.3 1.3 0 1 0 -2.6 0M595.5 375.4a1.4 1.4 0 1 0 2.8 0a1.4 1.4 0 1 0 -2.8 0M606.6 377.4a1.8 1.8 0 1 0 3.7 0a1.8 1.8 0 1 0 -3.7 0M574.7 375.8a1.9 1.9 0 1 0 3.8 0a1.9 1.9 0 1 0 -3.8 0M602.7 376.2a1.6 1.6 0 1 0 3.3 0a1.6 1.6 0 1 0 -3.3 0M586.7 377.9a1.4 1.4 0 1 0 2.9 0a1.4 1.4 0 1 0 -2.9 0M586.5 356.4a1.8 1.8 0 1 0 3.5 0a1.8 1.8 0 1 0 -3.5 0M625.3 370.2a1.1 1.1 0 1 0 2.3 0a1.1 1.1 0 1 0 -2.3 0M615.0 357.6a1.5 1.5 0 1 0 2.9 0a1.5 1.5 0 1 0 -2.9 0M607.1 396.0a1.7 1.7 0 1 0 3.4 0a1.7 1.7 0 1 0 -3.4 0M584.6 375.4a1.6 1.6 0 1 0 3.2 0a1.6 1.6 0 1 0 -3.2 0M586.9 392.9a1.7 1.7 0 1 0 3.4 0a1.7 1.7 0 1 0 -3.4 0M620.0 388.9a1.3 1.3 0 1 0 2.5 0a1.3 1.3 0 1 0 -2.5 0M590.0 370.3a1.6 1.6 0 1 0 3.2 0a1.6 1.6 0 1 0 -3.2 0M617.8 362.2a1.8 1.8 0 1 0 3.7 0a1.8 1.8 0 1 0 -3.7 0M605.2 400.4a1.2 1.2 0 1 0 2.4 0a1.2 1.2 0 1 0 -2.4 0M581.0 388.2a1.3 1.3 0 1 0 2.5 0a1.3 1.3 0 1 0 -2.5 0M606.6 380.7a1.1 1.1 0 1 0 2.3 0a1.1 1.1 0 1 0 -2.3 0M611.7 368.2a1.9 1.9 0 1 0 3.7 0a1.9 1.9 0 1 0 -3.7 0M601.9 352.0a1.2 1.2 0 1 0 2.5 0a1.2 1.2 0 1 0 -2.5 0M602.4 393.3a1.3 1.3 0 1 0 2.5 0a1.3 1.3 0 1 0 -2.5 0M595.4 379.9a1.8 1.8 0 1 0 3.6 0a1.8 1.8 0 1 0 -3.6 0M615.1 391.6a1.5 1.5 0 1 0 3.0 0a1.5 1.5 0 1 0 -3.0 0M589.0 352.5a1.7 1.7 0 1 0 3.3 0a1.7 1.7 0 1 0 -3.3 0M602.3 376.4a1.1 1.1 0 1 0 2.3 0a1.1 1.1 0 1 0 -2.3 0M610.9 374.7a1.4 1.4 0 1 0 2.9 0a1.4 1.4 0 1 0 -2.9 0M587.3 388.8a1.4 1.4 0 1 0 2.7 0a1.4 1.4 0 1 0 -2.7 0M604.3 363.8a1.6 1.6 0 1 0 3.3 0a1.6 1.6 0 1 0 -3.3 0M609.0 355.7a1.4 1.4 0 1 0 2.8 0a1.4 1.4 0 1 0 -2.8 0M615.5 351.8a1.7 1.7 0 1 0 3.4 0a1.7 1.7 0 1 0 -3.4 0M615.7 360.9a1.5 1.5 0 1 0 3.0 0a1.5 1.5 0 1 0 -3.0 0M625.3 385.9a1.7 1.7 0 1 0 3.4 0a1.7 1.7 0 1 0 -3.4 0M593.2 359.7a1.7 1.7 0 1 0 3.4 0a1.7 1.7 0 1 0 -3.4 0M593.5 382.1a1.4 1.4 0 1 0 2.9 0a1.4 1.4 0 1 0 -2.9 0M613.8 375.1a1.3 1.3 0 1 0 2.5 0a1.3 1.3 0 1 0 -2.5 0M609.7 388.6a1.7 1.7 0 1 0 3.4 0a1.7 1.7 0 1 0 -3.4 0M579.4 368.7a1.9 1.9 0 1 0 3.8 0a1.9 1.9 0 1 0 -3.8 0M594.2 359.4a1.5 1.5 0 1 0 3.0 0a1.5 1.5 0 1 0 -3.0 0M610.3 383.5a1.3 1.3 0 1 0 2.6 0a1.3 1.3 0 1 0 -2.6 0M600.3 396.4a1.7 1.7 0 1 0 3.4 0a1.7 1.7 0 1 0 -3.4 0M579.8 366.3a1.8 1.8 0 1 0 3.5 0a1.8 1.8 0 1 0 -3.5 0M596.3 389.5a1.3 1.3 0 1 0 2.7 0a1.3 1.3 0 1 0 -2.7 0M615.8 349.6a1.4 1.4 0 1 0 2.8 0a1.4 1.4 0 1 0 -2.8 0M608.0 363.9a1.2 1.2 0 1 0 2.4 0a1.2 1.2 0 1 0 -2.4 0M591.0 348.0a1.4 1.4 0 1 0 2.8 0a1.4 1.4 0 1 0 -2.8 0M616.3 351.3a1.3 1.3 0 1 0 2.6 0a1.3 1.3 0 1 0 -2.6 0M614.5 350.0a1.7 1.7 0 1 0 3.4 0a1.7 1.7 0 1 0 -3.4 0M593.0 362.3a1.3 1.3 0 1 0 2.6 0a1.3 1.3 0 1 0 -2.6 0M578.4 360.1a1.8 1.8 0 1 0 3.7 0a1.8 1.8 0 1 0 -3.7 0M588.3 389.7a1.9 1.9 0 1 0 3.8 0a1.9 1.9 0 1 0 -3.8 0M613.2 349.7a1.8 1.8 0 1 0 3.5 0a1.8 1.8 0 1 0 -3.5 0M610.1 393.9a1.4 1.4 0 1 0 2.8 0a1.4 1.4 0 1 0 -2.8 0M596.2 391.9a1.2 1.2 0 1 0 2.3 0a1.2 1.2 0 1 0 -2.3 0M604.0 390.5a1.2 1.2 0 1 0 2.3 0a1.2 1.2 0 1 0 -2.3 0M596.6 369.1a1.8 1.8 0 1 0 3.6 0a1.8 1.8 0 1 0 -3.6 0M588.0 375.2a1.8 1.8 0 1 0 3.7 0a1.8 1.8 0 1 0 -3.7 0M610.4 397.5a1.8 1.8 0 1 0 3.6 0a1.8 1.8 0 1 0 -3.6 0M598.2 398.4a1.9 1.9 0 1 0 3.8 0a1.9 1.9 0 1 0 -3.8 0M588.6 362.5a1.7 1.7 0 1 0 3.5 0a1.7 1.7 0 1 0 -3.5 0M598.3 396.4a1.8 1.8 0 1 0 3.6 0a1.8 1.8 0 1 0 -3.6 0M605.0 395.4a1.6 1.6 0 1 0 3.1 0a1.6 1.6 0 1 0 -3.1 0M614.2 387.2a1.4 1.4 0 1 0 2.7 0a1.4 1.4 0 1 0 -2.7 0M585.7 356.4a1.6 1.6 0 1 0 3.1 0a1.6 1.6 0 1 0 -3.1 0M628.5 369.7a1.4 1.4 0 1 0 2.8 0a1.4 1.4 0 1 0 -2.8 0M607.1 391.5a1.5 1.5 0 1 0 3.1 0a1.5 1.5 0 1 0 -3.1 0M610.7 385.3a1.5 1.5 0 1 0 2.9 0a1.5 1.5 0 1 0 -2.9 0M596.3 354.4a1.1 1.1 0 1 0 2.2 0a1.1 1.1 0 1 0 -2.2 0M607.0 370.1a1.4 1.4 0 1 0 2.8 0a1.4 1.4 0 1 0 -2.8 0M611.8 384.5a1.7 1.7 0 1 0 3.3 0a1.7 1.7 0 1 0 -3.3 0M598.3 391.2a1.1 1.1 0 1 0 2.3 0a1.1 1.1 0 1 0 -2.3 0M584.6 381.7a1.4 1.4 0 1 0 2.8 0a1.4 1.4 0 1 0 -2.8 0M592.4 393.0a1.2 1.2 0 1 0 2.5 0a1.2 1.2 0 1 0 -2.5 0M584.4 385.6a1.6 1.6 0 1 0 3.3 0a1.6 1.6 0 1 0 -3.3 0M622.3 380.7a1.5 1.5 0 1 0 3.0 0a1.5 1.5 0 1 0 -3.0 0M583.9 361.2a1.3 1.3 0 1 0 2.6 0a1.3 1.3 0 1 0 -2.6 0M601.0 399.3a1.5 1.5 0 1 0 3.0 0a1.5 1.5 0 1 0 -3.0 0M584.8 383.9a1.8 1.8 0 1 0 3.5 0a1.8 1.8 0 1 0 -3.5 0M618.5 390.2a1.4 1.4 0 1 0 2.8 0a1.4 1.4 0 1 0 -2.8 0M615.8 370.9a1.3 1.3 0 1 0 2.6 0a1.3 1.3 0 1 0 -2.6 0M596.2 358.4a1.5 1.5 0 1 0 3.1 0a1.5 1.5 0 1 0 -3.1 0M603.0 348.9a1.3 1.3 0 1 0 2.6 0a1.3 1.3 0 1 0 -2.6 0M610.8 376.0a1.7 1.7 0 1 0 3.3 0a1.7 1.7 0 1 0 -3.3 0M595.7 359.0a1.1 1.1 0 1 0 2.2 0a1.1 1.1 0 1 0 -2.2 0M607.8 377.2a1.7 1.7 0 1 0 3.4 0a1.7 1.7 0 1 0 -3.4 0M614.7 372.2a1.1 1.1 0 1 0 2.2 0a1.1 1.1 0 1 0 -2.2 0M592.0 373.5a1.1 1.1 0 1 0 2.2 0a1.1 1.1 0 1 0 -2.2 0M610.2 353.5a1.5 1.5 0 1 0 3.1 0a1.5 1.5 0 1 0 -3.1 0M588.4 351.2a1.9 1.9 0 1 0 3.7 0a1.9 1.9 0 1 0 -3.7 0M601.1 359.2a1.2 1.2 0 1 0 2.5 0a1.2 1.2 0 1 0 -2.5 0M594.6 394.4a1.3 1.3 0 1 0 2.5 0a1.3 1.3 0 1 0 -2.5 0M618.5 362.3a1.4 1.4 0 1 0 2.7 0a1.4 1.4 0 1 0 -2.7 0M597.4 360.3a1.2 1.2 0 1 0 2.4 0a1.2 1.2 0 1 0 -2.4 0M590.3 390.0a1.5 1.5 0 1 0 3.0 0a1.5 1.5 0 1 0 -3.0 0M578.0 372.0a1.8 1.8 0 1 0 3.5 0a1.8 1.8 0 1 0 -3.5 0M621.7 352.7a1.7 1.7 0 1 0 3.5 0a1.7 1.7 0 1 0 -3.5 0M598.1 398.4a1.5 1.5 0 1 0 3.1 0a1.5 1.5 0 1 0 -3.1 0M608.1 350.5a1.7 1.7 0 1 0 3.5 0a1.7 1.7 0 1 0 -3.5 0M581.5 356.3a1.2 1.2 0 1 0 2.4 0a1.2 1.2 0 1 0 -2.4 0M595.6 351.8a1.2 1.2 0 1 0 2.4 0a1.2 1.2 0 1 0 -2.4 0M595.1 392.1a1.6 1.6 0 1 0 3.2 0a1.6 1.6 0 1 0 -3.2 0M605.0 397.4a1.8 1.8 0 1 0 3.6 0a1.8 1.8 0 1 0 -3.6 0M581.0 388.0a1.9 1.9 0 1 0 3.8 0a1.9 1.9 0 1 0 -3.8 0M608.1 391.9a1.4 1.4 0 1 0 2.8 0a1.4 1.4 0 1 0 -2.8 0M602.4 363.3a1.6 1.6 0 1 0 3.2 0a1.6 1.6 0 1 0 -3.2 0M620.9 390.0a1.2 1.2 0 1 0 2.3 0a1.2 1.2 0 1 0 -2.3 0M596.5 376.6a1.5 1.5 0 1 0 2.9 0a1.5 1.5 0 1 0 -2.9 0M599.8 374.4a1.8 1.8 0 1 0 3.5 0a1.8 1.8 0 1 0 -3.5 0M600.3 345.3a1.5 1.5 0 1 0 3.0 0a1.5 1.5 0 1 0 -3.0 0M613.3 374.6a1.9 1.9 0 1 0 3.7 0a1.9 1.9 0 1 0 -3.7 0M617.4 380.6a1.8 1.8 0 1 0 3.7 0a1.8 1.8 0 1 0 -3.7 0M582.8 382.0a1.8 1.8 0 1 0 3.5 0a1.8 1.8 0 1 0 -3.5 0M612.6 375.9a1.3 1.3 0 1 0 2.6 0a1.3 1.3 0 1 0 -2.6 0M596.6 398.9a1.9 1.9 0 1 0 3.8 0a1.9 1.9 0 1 0 -3.8 0M612.0 356.4a1.8 1.8 0 1 0 3.5 0a1.8 1.8 0 1 0 -3.5 0M609.1 347.3a1.7 1.7 0 1 0 3.4 0a1.7 1.7 0 1 0 -3.4 0M582.6 379.7a1.4 1.4 0 1 0 2.7 0a1.4 1.4 0 1 0 -2.7 0M601.9 364.0a1.8 1.8 0 1 0 3.5 0a1.8 1.8 0 1 0 -3.5 0M591.1 351.8a1.2 1.2 0 1 0 2.4 0a1.2 1.2 0 1 0 -2.4 0M608.8 391.0a1.4 1.4 0 1 0 2.8 0a1.4 1.4 0 1 0 -2.8 0M602.9 362.3a1.8 1.8 0 1 0 3.6 0a1.8 1.8 0 1 0 -3.6 0M598.6 388.5a1.5 1.5 0 1 0 3.0 0a1.5 1.5 0 1 0 -3.0 0M600.5 389.9a1.5 1.5 0 1 0 3.0 0a1.5 1.5 0 1 0 -3.0 0M627.4 368.5a1.3 1.3 0 1 0 2.7 0a1.3 1.3 0 1 0 -2.7 0"/><path fill="#e0c820" d="M583.1 351.6a1.3 1.3 0 1 0 2.7 0a1.3 1.3 0 1 0 -2.7 0M632.4 364.9a1.3 1.3 0 1 0 2.5 0a1.3 1.3 0 1 0 -2.5 0M631.6 367.4a1.8 1.8 0 1 0 3.6 0a1.8 1.8 0 1 0 -3.6 0M629.5 391.8a1.3 1.3 0 1 0 2.6 0a1.3 1.3 0 1 0 -2.6 0M576.0 359.0a1.2 1.2 0 1 0 2.4 0a1.2 1.2 0 1 0 -2.4 0M628.1 356.7a1.3 1.3 0 1 0 2.5 0a1.3 1.3 0 1 0 -2.5 0M600.5 341.2a1.9 1.9 0 1 0 3.7 0a1.9 1.9 0 1 0 -3.7 0M634.1 380.4a1.7 1.7 0 1 0 3.3 0a1.7 1.7 0 1 0 -3.3 0M593.1 342.2a1.6 1.6 0 1 0 3.2 0a1.6 1.6 0 1 0 -3.2 0M574.8 383.6a1.7 1.7 0 1 0 3.4 0a1.7 1.7 0 1 0 -3.4 0M573.9 383.7a1.6 1.6 0 1 0 3.3 0a1.6 1.6 0 1 0 -3.3 0M595.6 341.9a1.2 1.2 0 1 0 2.5 0a1.2 1.2 0 1 0 -2.5 0M592.7 399.7a1.2 1.2 0 1 0 2.4 0a1.2 1.2 0 1 0 -2.4 0M581.3 354.0a1.7 1.7 0 1 0 3.5 0a1.7 1.7 0 1 0 -3.5 0M574.3 366.0a1.8 1.8 0 1 0 3.7 0a1.8 1.8 0 1 0 -3.7 0M588.5 397.6a1.2 1.2 0 1 0 2.4 0a1.2 1.2 0 1 0 -2.4 0M633.4 364.3a1.5 1.5 0 1 0 3.0 0a1.5 1.5 0 1 0 -3.0 0M575.2 379.4a1.5 1.5 0 1 0 2.9 0a1.5 1.5 0 1 0 -2.9 0M593.9 344.2a1.5 1.5 0 1 0 2.9 0a1.5 1.5 0 1 0 -2.9 0M579.3 356.4a1.8 1.8 0 1 0 3.7 0a1.8 1.8 0 1 0 -3.7 0M618.5 396.3a1.8 1.8 0 1 0 3.6 0a1.8 1.8 0 1 0 -3.6 0M631.0 386.5a1.5 1.5 0 1 0 3.0 0a1.5 1.5 0 1 0 -3.0 0M602.3 342.9a1.2 1.2 0 1 0 2.4 0a1.2 1.2 0 1 0 -2.4 0M584.4 346.0a1.5 1.5 0 1 0 3.1 0a1.5 1.5 0 1 0 -3.1 0M602.3 341.4a1.4 1.4 0 1 0 2.8 0a1.4 1.4 0 1 0 -2.8 0M628.5 390.2a1.2 1.2 0 1 0 2.3 0a1.2 1.2 0 1 0 -2.3 0M631.6 360.4a1.4 1.4 0 1 0 2.8 0a1.4 1.4 0 1 0 -2.8 0M574.7 368.9a1.4 1.4 0 1 0 2.7 0a1.4 1.4 0 1 0 -2.7 0M594.7 403.7a1.3 1.3 0 1 0 2.7 0a1.3 1.3 0 1 0 -2.7 0M606.3 343.3a1.4 1.4 0 1 0 2.7 0a1.4 1.4 0 1 0 -2.7 0M596.2 343.6a1.9 1.9 0 1 0 3.7 0a1.9 1.9 0 1 0 -3.7 0M595.5 402.7a1.6 1.6 0 1 0 3.1 0a1.6 1.6 0 1 0 -3.1 0M619.0 347.1a1.4 1.4 0 1 0 2.9 0a1.4 1.4 0 1 0 -2.9 0M575.0 385.5a1.1 1.1 0 1 0 2.3 0a1.1 1.1 0 1 0 -2.3 0M576.9 386.6a1.7 1.7 0 1 0 3.4 0a1.7 1.7 0 1 0 -3.4 0M574.3 360.1a1.7 1.7 0 1 0 3.5 0a1.7 1.7 0 1 0 -3.5 0M626.5 354.7a1.4 1.4 0 1 0 2.8 0a1.4 1.4 0 1 0 -2.8 0M592.8 342.9a1.2 1.2 0 1 0 2.3 0a1.2 1.2 0 1 0 -2.3 0M575.8 359.3a1.2 1.2 0 1 0 2.4 0a1.2 1.2 0 1 0 -2.4 0M600.3 401.7a1.8 1.8 0 1 0 3.7 0a1.8 1.8 0 1 0 -3.7 0M628.4 388.3a1.3 1.3 0 1 0 2.6 0a1.3 1.3 0 1 0 -2.6 0M572.4 380.2a1.4 1.4 0 1 0 2.7 0a1.4 1.4 0 1 0 -2.7 0M579.2 391.4a1.7 1.7 0 1 0 3.5 0a1.7 1.7 0 1 0 -3.5 0M629.5 388.0a1.7 1.7 0 1 0 3.4 0a1.7 1.7 0 1 0 -3.4 0M578.9 351.6a1.6 1.6 0 1 0 3.1 0a1.6 1.6 0 1 0 -3.1 0M631.9 366.0a1.6 1.6 0 1 0 3.2 0a1.6 1.6 0 1 0 -3.2 0M617.4 347.2a1.4 1.4 0 1 0 2.8 0a1.4 1.4 0 1 0 -2.8 0M632.6 359.5a1.7 1.7 0 1 0 3.3 0a1.7 1.7 0 1 0 -3.3 0M612.5 344.3a1.4 1.4 0 1 0 2.8 0a1.4 1.4 0 1 0 -2.8 0M624.3 348.3a1.8 1.8 0 1 0 3.5 0a1.8 1.8 0 1 0 -3.5 0M611.4 402.1a1.7 1.7 0 1 0 3.4 0a1.7 1.7 0 1 0 -3.4 0M628.0 393.1a1.9 1.9 0 1 0 3.7 0a1.9 1.9 0 1 0 -3.7 0M600.0 340.4a1.8 1.8 0 1 0 3.6 0a1.8 1.8 0 1 0 -3.6 0M579.5 351.9a1.9 1.9 0 1 0 3.8 0a1.9 1.9 0 1 0 -3.8 0M576.6 386.1a1.5 1.5 0 1 0 2.9 0a1.5 1.5 0 1 0 -2.9 0M571.0 371.4a1.7 1.7 0 1 0 3.3 0a1.7 1.7 0 1 0 -3.3 0M573.0 384.3a1.7 1.7 0 1 0 3.3 0a1.7 1.7 0 1 0 -3.3 0M628.3 390.8a1.4 1.4 0 1 0 2.8 0a1.4 1.4 0 1 0 -2.8 0M628.5 353.7a1.6 1.6 0 1 0 3.2 0a1.6 1.6 0 1 0 -3.2 0M593.1 341.7a1.5 1.5 0 1 0 2.9 0a1.5 1.5 0 1 0 -2.9 0M582.5 353.1a1.7 1.7 0 1 0 3.5 0a1.7 1.7 0 1 0 -3.5 0M599.6 344.2a1.5 1.5 0 1 0 2.9 0a1.5 1.5 0 1 0 -2.9 0M625.3 391.3a1.5 1.5 0 1 0 3.0 0a1.5 1.5 0 1 0 -3.0 0M584.3 349.2a1.4 1.4 0 1 0 2.9 0a1.4 1.4 0 1 0 -2.9 0M576.1 355.0a1.6 1.6 0 1 0 3.2 0a1.6 1.6 0 1 0 -3.2 0M625.2 389.9a1.6 1.6 0 1 0 3.1 0a1.6 1.6 0 1 0 -3.1 0M630.2 384.3a1.7 1.7 0 1 0 3.3 0a1.7 1.7 0 1 0 -3.3 0M632.7 383.3a1.7 1.7 0 1 0 3.5 0a1.7 1.7 0 1 0 -3.5 0M606.2 404.3a1.9 1.9 0 1 0 3.7 0a1.9 1.9 0 1 0 -3.7 0"/><path fill="#e0a818" d="M628.2 388.5a1.1 1.1 0 1 0 2.3 0a1.1 1.1 0 1 0 -2.3 0M634.9 369.1a1.6 1.6 0 1 0 3.2 0a1.6 1.6 0 1 0 -3.2 0M574.9 383.6a1.6 1.6 0 1 0 3.2 0a1.6 1.6 0 1 0 -3.2 0M605.2 352.2a1.4 1.4 0 1 0 2.8 0a1.4 1.4 0 1 0 -2.8 0M626.5 384.2a1.3 1.3 0 1 0 2.6 0a1.3 1.3 0 1 0 -2.6 0M607.9 392.5a1.6 1.6 0 1 0 3.2 0a1.6 1.6 0 1 0 -3.2 0M601.9 402.3a1.3 1.3 0 1 0 2.7 0a1.3 1.3 0 1 0 -2.7 0M575.0 361.7a1.3 1.3 0 1 0 2.6 0a1.3 1.3 0 1 0 -2.6 0M600.4 345.4a1.8 1.8 0 1 0 3.7 0a1.8 1.8 0 1 0 -3.7 0M609.5 393.0a1.8 1.8 0 1 0 3.7 0a1.8 1.8 0 1 0 -3.7 0M617.9 390.0a1.8 1.8 0 1 0 3.6 0a1.8 1.8 0 1 0 -3.6 0M598.3 374.1a1.3 1.3 0 1 0 2.6 0a1.3 1.3 0 1 0 -2.6 0M584.5 353.5a1.9 1.9 0 1 0 3.7 0a1.9 1.9 0 1 0 -3.7 0M597.6 343.7a1.7 1.7 0 1 0 3.3 0a1.7 1.7 0 1 0 -3.3 0M576.1 363.8a1.1 1.1 0 1 0 2.2 0a1.1 1.1 0 1 0 -2.2 0M606.3 365.0a1.2 1.2 0 1 0 2.5 0a1.2 1.2 0 1 0 -2.5 0M575.1 369.8a1.7 1.7 0 1 0 3.3 0a1.7 1.7 0 1 0 -3.3 0M587.7 354.6a1.5 1.5 0 1 0 3.1 0a1.5 1.5 0 1 0 -3.1 0M595.0 391.3a1.8 1.8 0 1 0 3.6 0a1.8 1.8 0 1 0 -3.6 0M579.2 389.8a1.5 1.5 0 1 0 3.0 0a1.5 1.5 0 1 0 -3.0 0M617.8 388.1a1.8 1.8 0 1 0 3.6 0a1.8 1.8 0 1 0 -3.6 0M613.9 367.4a1.1 1.1 0 1 0 2.2 0a1.1 1.1 0 1 0 -2.2 0M587.5 354.6a1.6 1.6 0 1 0 3.2 0a1.6 1.6 0 1 0 -3.2 0M613.8 354.3a1.2 1.2 0 1 0 2.4 0a1.2 1.2 0 1 0 -2.4 0M574.3 371.7a1.6 1.6 0 1 0 3.3 0a1.6 1.6 0 1 0 -3.3 0M608.5 386.2a1.9 1.9 0 1 0 3.8 0a1.9 1.9 0 1 0 -3.8 0M594.5 343.7a1.4 1.4 0 1 0 2.8 0a1.4 1.4 0 1 0 -2.8 0M606.7 404.2a1.4 1.4 0 1 0 2.7 0a1.4 1.4 0 1 0 -2.7 0M629.5 371.9a1.2 1.2 0 1 0 2.3 0a1.2 1.2 0 1 0 -2.3 0M584.5 362.3a1.5 1.5 0 1 0 3.0 0a1.5 1.5 0 1 0 -3.0 0M612.6 348.7a1.3 1.3 0 1 0 2.5 0a1.3 1.3 0 1 0 -2.5 0M588.3 380.3a1.4 1.4 0 1 0 2.8 0a1.4 1.4 0 1 0 -2.8 0M611.3 395.7a1.5 1.5 0 1 0 3.1 0a1.5 1.5 0 1 0 -3.1 0M615.1 349.1a1.7 1.7 0 1 0 3.5 0a1.7 1.7 0 1 0 -3.5 0M575.7 368.6a1.4 1.4 0 1 0 2.9 0a1.4 1.4 0 1 0 -2.9 0M623.1 390.0a1.2 1.2 0 1 0 2.5 0a1.2 1.2 0 1 0 -2.5 0M593.8 395.0a1.5 1.5 0 1 0 3.0 0a1.5 1.5 0 1 0 -3.0 0M572.5 363.4a1.3 1.3 0 1 0 2.6 0a1.3 1.3 0 1 0 -2.6 0M582.7 393.7a1.6 1.6 0 1 0 3.2 0a1.6 1.6 0 1 0 -3.2 0M614.4 358.7a1.4 1.4 0 1 0 2.9 0a1.4 1.4 0 1 0 -2.9 0M611.8 367.8a1.3 1.3 0 1 0 2.5 0a1.3 1.3 0 1 0 -2.5 0M631.9 369.4a1.6 1.6 0 1 0 3.2 0a1.6 1.6 0 1 0 -3.2 0M623.5 396.0a1.5 1.5 0 1 0 3.1 0a1.5 1.5 0 1 0 -3.1 0M584.8 389.7a1.1 1.1 0 1 0 2.2 0a1.1 1.1 0 1 0 -2.2 0M604.0 344.5a1.9 1.9 0 1 0 3.8 0a1.9 1.9 0 1 0 -3.8 0M574.4 360.2a1.5 1.5 0 1 0 3.0 0a1.5 1.5 0 1 0 -3.0 0M630.1 355.7a1.8 1.8 0 1 0 3.6 0a1.8 1.8 0 1 0 -3.6 0M614.7 364.0a1.4 1.4 0 1 0 2.8 0a1.4 1.4 0 1 0 -2.8 0M628.1 354.9a1.2 1.2 0 1 0 2.4 0a1.2 1.2 0 1 0 -2.4 0M579.6 393.5a1.2 1.2 0 1 0 2.5 0a1.2 1.2 0 1 0 -2.5 0M581.3 362.6a1.3 1.3 0 1 0 2.6 0a1.3 1.3 0 1 0 -2.6 0M617.4 395.6a1.7 1.7 0 1 0 3.5 0a1.7 1.7 0 1 0 -3.5 0M621.0 365.1a1.7 1.7 0 1 0 3.4 0a1.7 1.7 0 1 0 -3.4 0M629.8 362.6a1.6 1.6 0 1 0 3.2 0a1.6 1.6 0 1 0 -3.2 0M619.8 387.0a1.5 1.5 0 1 0 3.0 0a1.5 1.5 0 1 0 -3.0 0M602.5 395.9a1.4 1.4 0 1 0 2.8 0a1.4 1.4 0 1 0 -2.8 0M594.9 350.1a1.2 1.2 0 1 0 2.4 0a1.2 1.2 0 1 0 -2.4 0M612.1 401.7a1.4 1.4 0 1 0 2.9 0a1.4 1.4 0 1 0 -2.9 0M626.0 395.9a1.3 1.3 0 1 0 2.6 0a1.3 1.3 0 1 0 -2.6 0M620.3 350.1a1.8 1.8 0 1 0 3.6 0a1.8 1.8 0 1 0 -3.6 0M596.1 402.0a1.5 1.5 0 1 0 2.9 0a1.5 1.5 0 1 0 -2.9 0M615.9 345.5a1.5 1.5 0 1 0 3.1 0a1.5 1.5 0 1 0 -3.1 0M623.5 371.7a1.6 1.6 0 1 0 3.2 0a1.6 1.6 0 1 0 -3.2 0M585.5 371.3a1.3 1.3 0 1 0 2.6 0a1.3 1.3 0 1 0 -2.6 0M582.6 364.8a1.2 1.2 0 1 0 2.4 0a1.2 1.2 0 1 0 -2.4 0M590.9 402.3a1.8 1.8 0 1 0 3.7 0a1.8 1.8 0 1 0 -3.7 0M625.3 394.0a1.1 1.1 0 1 0 2.3 0a1.1 1.1 0 1 0 -2.3 0M606.7 363.1a1.3 1.3 0 1 0 2.5 0a1.3 1.3 0 1 0 -2.5 0M595.5 401.9a1.3 1.3 0 1 0 2.6 0a1.3 1.3 0 1 0 -2.6 0M621.2 349.9a1.2 1.2 0 1 0 2.3 0a1.2 1.2 0 1 0 -2.3 0"/><path fill="#a0d820" d="M605.6 376.0a1.1 1.1 0 1 0 2.3 0a1.1 1.1 0 1 0 -2.3 0M607.1 359.6a1.5 1.5 0 1 0 2.9 0a1.5 1.5 0 1 0 -2.9 0M588.6 358.4a1.6 1.6 0 1 0 3.2 0a1.6 1.6 0 1 0 -3.2 0M595.3 350.9a1.8 1.8 0 1 0 3.7 0a1.8 1.8 0 1 0 -3.7 0M618.0 358.9a1.4 1.4 0 1 0 2.7 0a1.4 1.4 0 1 0 -2.7 0M589.8 366.2a1.5 1.5 0 1 0 3.0 0a1.5 1.5 0 1 0 -3.0 0M600.0 364.9a1.4 1.4 0 1 0 2.9 0a1.4 1.4 0 1 0 -2.9 0M581.0 365.2a1.2 1.2 0 1 0 2.4 0a1.2 1.2 0 1 0 -2.4 0M582.0 370.6a1.1 1.1 0 1 0 2.2 0a1.1 1.1 0 1 0 -2.2 0M589.8 351.9a1.4 1.4 0 1 0 2.8 0a1.4 1.4 0 1 0 -2.8 0M607.7 372.1a1.7 1.7 0 1 0 3.4 0a1.7 1.7 0 1 0 -3.4 0M605.4 379.8a1.2 1.2 0 1 0 2.4 0a1.2 1.2 0 1 0 -2.4 0M595.8 365.4a1.2 1.2 0 1 0 2.3 0a1.2 1.2 0 1 0 -2.3 0M626.0 386.6a1.6 1.6 0 1 0 3.2 0a1.6 1.6 0 1 0 -3.2 0M605.5 364.9a1.7 1.7 0 1 0 3.5 0a1.7 1.7 0 1 0 -3.5 0M623.2 381.1a1.8 1.8 0 1 0 3.7 0a1.8 1.8 0 1 0 -3.7 0M605.8 400.2a1.3 1.3 0 1 0 2.6 0a1.3 1.3 0 1 0 -2.6 0M599.1 357.3a1.5 1.5 0 1 0 2.9 0a1.5 1.5 0 1 0 -2.9 0M610.2 360.4a1.2 1.2 0 1 0 2.3 0a1.2 1.2 0 1 0 -2.3 0M603.6 354.7a1.2 1.2 0 1 0 2.3 0a1.2 1.2 0 1 0 -2.3 0M629.1 381.4a1.3 1.3 0 1 0 2.6 0a1.3 1.3 0 1 0 -2.6 0M581.2 381.4a1.1 1.1 0 1 0 2.3 0a1.1 1.1 0 1 0 -2.3 0M605.7 359.7a1.3 1.3 0 1 0 2.6 0a1.3 1.3 0 1 0 -2.6 0M596.7 372.7a1.7 1.7 0 1 0 3.3 0a1.7 1.7 0 1 0 -3.3 0M605.3 389.0a1.3 1.3 0 1 0 2.6 0a1.3 1.3 0 1 0 -2.6 0M615.7 375.9a1.1 1.1 0 1 0 2.3 0a1.1 1.1 0 1 0 -2.3 0M595.1 392.3a1.2 1.2 0 1 0 2.4 0a1.2 1.2 0 1 0 -2.4 0M628.5 376.7a1.7 1.7 0 1 0 3.5 0a1.7 1.7 0 1 0 -3.5 0M578.0 365.0a1.8 1.8 0 1 0 3.5 0a1.8 1.8 0 1 0 -3.5 0M606.1 371.8a1.7 1.7 0 1 0 3.5 0a1.7 1.7 0 1 0 -3.5 0M607.5 370.0a1.3 1.3 0 1 0 2.6 0a1.3 1.3 0 1 0 -2.6 0M587.4 383.2a1.9 1.9 0 1 0 3.7 0a1.9 1.9 0 1 0 -3.7 0M591.2 383.1a1.6 1.6 0 1 0 3.1 0a1.6 1.6 0 1 0 -3.1 0M622.2 375.6a1.5 1.5 0 1 0 3.1 0a1.5 1.5 0 1 0 -3.1 0M625.1 381.7a1.4 1.4 0 1 0 2.8 0a1.4 1.4 0 1 0 -2.8 0M590.7 385.8a1.6 1.6 0 1 0 3.1 0a1.6 1.6 0 1 0 -3.1 0M627.4 380.3a1.8 1.8 0 1 0 3.7 0a1.8 1.8 0 1 0 -3.7 0M607.8 393.1a1.8 1.8 0 1 0 3.5 0a1.8 1.8 0 1 0 -3.5 0M613.8 356.4a1.5 1.5 0 1 0 3.0 0a1.5 1.5 0 1 0 -3.0 0M601.2 400.5a1.3 1.3 0 1 0 2.6 0a1.3 1.3 0 1 0 -2.6 0M579.1 383.2a1.9 1.9 0 1 0 3.8 0a1.9 1.9 0 1 0 -3.8 0M629.7 378.7a1.5 1.5 0 1 0 3.1 0a1.5 1.5 0 1 0 -3.1 0M610.8 395.3a1.2 1.2 0 1 0 2.4 0a1.2 1.2 0 1 0 -2.4 0M603.2 377.3a1.3 1.3 0 1 0 2.6 0a1.3 1.3 0 1 0 -2.6 0M625.0 364.7a1.4 1.4 0 1 0 2.8 0a1.4 1.4 0 1 0 -2.8 0M589.2 370.3a1.4 1.4 0 1 0 2.8 0a1.4 1.4 0 1 0 -2.8 0M625.6 375.6a1.6 1.6 0 1 0 3.3 0a1.6 1.6 0 1 0 -3.3 0"/><path fill="#c8dc20" d="M576.5 372.7a1.3 1.3 0 1 0 2.6 0a1.3 1.3 0 1 0 -2.6 0M622.1 355.6a1.2 1.2 0 1 0 2.4 0a1.2 1.2 0 1 0 -2.4 0M592.0 367.5a1.8 1.8 0 1 0 3.6 0a1.8 1.8 0 1 0 -3.6 0M628.2 377.4a1.3 1.3 0 1 0 2.6 0a1.3 1.3 0 1 0 -2.6 0M597.4 359.4a1.2 1.2 0 1 0 2.5 0a1.2 1.2 0 1 0 -2.5 0M581.8 368.6a1.4 1.4 0 1 0 2.9 0a1.4 1.4 0 1 0 -2.9 0M601.5 364.2a1.5 1.5 0 1 0 3.0 0a1.5 1.5 0 1 0 -3.0 0M578.2 368.5a1.3 1.3 0 1 0 2.7 0a1.3 1.3 0 1 0 -2.7 0M618.6 370.0a1.8 1.8 0 1 0 3.7 0a1.8 1.8 0 1 0 -3.7 0M578.1 382.1a1.3 1.3 0 1 0 2.6 0a1.3 1.3 0 1 0 -2.6 0M600.3 384.8a1.7 1.7 0 1 0 3.4 0a1.7 1.7 0 1 0 -3.4 0M590.0 387.4a1.4 1.4 0 1 0 2.8 0a1.4 1.4 0 1 0 -2.8 0M629.3 367.4a1.5 1.5 0 1 0 3.1 0a1.5 1.5 0 1 0 -3.1 0M575.7 378.3a1.6 1.6 0 1 0 3.3 0a1.6 1.6 0 1 0 -3.3 0M618.8 385.3a1.9 1.9 0 1 0 3.7 0a1.9 1.9 0 1 0 -3.7 0M589.8 361.0a1.5 1.5 0 1 0 3.1 0a1.5 1.5 0 1 0 -3.1 0M597.2 390.8a1.6 1.6 0 1 0 3.3 0a1.6 1.6 0 1 0 -3.3 0M609.7 382.3a1.2 1.2 0 1 0 2.3 0a1.2 1.2 0 1 0 -2.3 0M621.7 362.5a1.6 1.6 0 1 0 3.2 0a1.6 1.6 0 1 0 -3.2 0M599.4 374.8a1.7 1.7 0 1 0 3.3 0a1.7 1.7 0 1 0 -3.3 0M621.6 374.9a1.6 1.6 0 1 0 3.2 0a1.6 1.6 0 1 0 -3.2 0M618.6 385.1a1.7 1.7 0 1 0 3.5 0a1.7 1.7 0 1 0 -3.5 0M622.9 358.9a1.5 1.5 0 1 0 3.0 0a1.5 1.5 0 1 0 -3.0 0M590.8 367.0a1.3 1.3 0 1 0 2.6 0a1.3 1.3 0 1 0 -2.6 0M618.6 388.1a1.4 1.4 0 1 0 2.8 0a1.4 1.4 0 1 0 -2.8 0M608.8 372.2a1.7 1.7 0 1 0 3.4 0a1.7 1.7 0 1 0 -3.4 0M578.1 363.7a1.6 1.6 0 1 0 3.3 0a1.6 1.6 0 1 0 -3.3 0M607.6 349.8a1.8 1.8 0 1 0 3.6 0a1.8 1.8 0 1 0 -3.6 0M626.0 375.3a1.5 1.5 0 1 0 2.9 0a1.5 1.5 0 1 0 -2.9 0M622.7 380.5a1.3 1.3 0 1 0 2.5 0a1.3 1.3 0 1 0 -2.5 0M609.4 371.5a1.7 1.7 0 1 0 3.4 0a1.7 1.7 0 1 0 -3.4 0M615.2 371.6a1.7 1.7 0 1 0 3.4 0a1.7 1.7 0 1 0 -3.4 0M589.3 383.8a1.2 1.2 0 1 0 2.3 0a1.2 1.2 0 1 0 -2.3 0M598.2 366.3a1.7 1.7 0 1 0 3.3 0a1.7 1.7 0 1 0 -3.3 0M613.0 361.5a1.2 1.2 0 1 0 2.3 0a1.2 1.2 0 1 0 -2.3 0M609.6 387.9a1.8 1.8 0 1 0 3.7 0a1.8 1.8 0 1 0 -3.7 0M599.6 356.2a1.2 1.2 0 1 0 2.4 0a1.2 1.2 0 1 0 -2.4 0M595.6 371.8a1.3 1.3 0 1 0 2.6 0a1.3 1.3 0 1 0 -2.6 0M603.7 382.6a1.4 1.4 0 1 0 2.9 0a1.4 1.4 0 1 0 -2.9 0M601.6 368.0a1.4 1.4 0 1 0 2.8 0a1.4 1.4 0 1 0 -2.8 0M590.3 382.6a1.6 1.6 0 1 0 3.2 0a1.6 1.6 0 1 0 -3.2 0M621.3 369.0a1.8 1.8 0 1 0 3.6 0a1.8 1.8 0 1 0 -3.6 0M578.6 374.1a1.3 1.3 0 1 0 2.7 0a1.3 1.3 0 1 0 -2.7 0M597.0 384.9a1.2 1.2 0 1 0 2.4 0a1.2 1.2 0 1 0 -2.4 0M581.2 366.7a1.3 1.3 0 1 0 2.7 0a1.3 1.3 0 1 0 -2.7 0M606.4 395.1a1.3 1.3 0 1 0 2.6 0a1.3 1.3 0 1 0 -2.6 0M614.9 379.3a1.9 1.9 0 1 0 3.8 0a1.9 1.9 0 1 0 -3.8 0M609.4 378.7a1.7 1.7 0 1 0 3.4 0a1.7 1.7 0 1 0 -3.4 0M610.1 345.7a1.7 1.7 0 1 0 3.5 0a1.7 1.7 0 1 0 -3.5 0M585.9 392.3a1.3 1.3 0 1 0 2.6 0a1.3 1.3 0 1 0 -2.6 0M607.0 360.5a1.2 1.2 0 1 0 2.4 0a1.2 1.2 0 1 0 -2.4 0M613.1 382.0a1.8 1.8 0 1 0 3.6 0a1.8 1.8 0 1 0 -3.6 0M612.1 397.9a1.1 1.1 0 1 0 2.2 0a1.1 1.1 0 1 0 -2.2 0M627.1 363.5a1.3 1.3 0 1 0 2.5 0a1.3 1.3 0 1 0 -2.5 0M595.3 375.3a1.3 1.3 0 1 0 2.7 0a1.3 1.3 0 1 0 -2.7 0M595.7 358.5a1.2 1.2 0 1 0 2.4 0a1.2 1.2 0 1 0 -2.4 0M616.2 362.7a1.4 1.4 0 1 0 2.7 0a1.4 1.4 0 1 0 -2.7 0M583.8 376.5a1.4 1.4 0 1 0 2.7 0a1.4 1.4 0 1 0 -2.7 0M626.0 364.6a1.8 1.8 0 1 0 3.6 0a1.8 1.8 0 1 0 -3.6 0M588.6 388.5a1.4 1.4 0 1 0 2.8 0a1.4 1.4 0 1 0 -2.8 0M604.9 382.8a1.4 1.4 0 1 0 2.7 0a1.4 1.4 0 1 0 -2.7 0M593.6 393.8a1.7 1.7 0 1 0 3.4 0a1.7 1.7 0 1 0 -3.4 0M575.6 373.8a1.7 1.7 0 1 0 3.4 0a1.7 1.7 0 1 0 -3.4 0M583.1 359.9a1.6 1.6 0 1 0 3.1 0a1.6 1.6 0 1 0 -3.1 0M621.9 360.9a1.3 1.3 0 1 0 2.6 0a1.3 1.3 0 1 0 -2.6 0M605.1 394.5a1.7 1.7 0 1 0 3.4 0a1.7 1.7 0 1 0 -3.4 0M593.8 373.5a1.5 1.5 0 1 0 3.1 0a1.5 1.5 0 1 0 -3.1 0"/><path fill="#d8dc20" d="M635.6 372.2a1.7 1.7 0 1 0 3.3 0a1.7 1.7 0 1 0 -3.3 0M577.6 387.1a1.6 1.6 0 1 0 3.1 0a1.6 1.6 0 1 0 -3.1 0M609.7 402.8a1.9 1.9 0 1 0 3.8 0a1.9 1.9 0 1 0 -3.8 0M610.8 401.7a1.5 1.5 0 1 0 3.0 0a1.5 1.5 0 1 0 -3.0 0M609.8 404.6a1.2 1.2 0 1 0 2.4 0a1.2 1.2 0 1 0 -2.4 0M590.4 344.3a1.2 1.2 0 1 0 2.4 0a1.2 1.2 0 1 0 -2.4 0M602.9 405.0a1.8 1.8 0 1 0 3.6 0a1.8 1.8 0 1 0 -3.6 0M630.8 357.2a1.5 1.5 0 1 0 2.9 0a1.5 1.5 0 1 0 -2.9 0M618.4 346.1a1.6 1.6 0 1 0 3.2 0a1.6 1.6 0 1 0 -3.2 0M601.1 403.3a1.4 1.4 0 1 0 2.7 0a1.4 1.4 0 1 0 -2.7 0M632.5 373.0a1.8 1.8 0 1 0 3.5 0a1.8 1.8 0 1 0 -3.5 0M619.3 398.6a1.1 1.1 0 1 0 2.3 0a1.1 1.1 0 1 0 -2.3 0M588.4 397.3a1.8 1.8 0 1 0 3.5 0a1.8 1.8 0 1 0 -3.5 0M576.0 356.5a1.2 1.2 0 1 0 2.4 0a1.2 1.2 0 1 0 -2.4 0M581.9 353.5a1.4 1.4 0 1 0 2.8 0a1.4 1.4 0 1 0 -2.8 0M616.8 347.5a1.2 1.2 0 1 0 2.4 0a1.2 1.2 0 1 0 -2.4 0M579.9 352.2a1.6 1.6 0 1 0 3.2 0a1.6 1.6 0 1 0 -3.2 0M632.9 375.7a1.8 1.8 0 1 0 3.6 0a1.8 1.8 0 1 0 -3.6 0M589.4 343.5a1.2 1.2 0 1 0 2.3 0a1.2 1.2 0 1 0 -2.3 0M632.7 363.0a1.8 1.8 0 1 0 3.7 0a1.8 1.8 0 1 0 -3.7 0"/><path fill="#48d02a" d="M629.3 369.5a1.6 1.6 0 1 0 3.1 0a1.6 1.6 0 1 0 -3.1 0M624.3 383.7a1.8 1.8 0 1 0 3.6 0a1.8 1.8 0 1 0 -3.6 0M600.1 352.6a1.6 1.6 0 1 0 3.1 0a1.6 1.6 0 1 0 -3.1 0M607.6 367.9a1.6 1.6 0 1 0 3.1 0a1.6 1.6 0 1 0 -3.1 0M607.5 378.2a1.5 1.5 0 1 0 2.9 0a1.5 1.5 0 1 0 -2.9 0M625.7 374.2a1.2 1.2 0 1 0 2.5 0a1.2 1.2 0 1 0 -2.5 0M600.3 391.7a1.5 1.5 0 1 0 3.0 0a1.5 1.5 0 1 0 -3.0 0M617.8 388.7a1.8 1.8 0 1 0 3.7 0a1.8 1.8 0 1 0 -3.7 0M624.2 365.1a1.3 1.3 0 1 0 2.5 0a1.3 1.3 0 1 0 -2.5 0M608.5 387.3a1.4 1.4 0 1 0 2.7 0a1.4 1.4 0 1 0 -2.7 0M612.6 360.4a1.7 1.7 0 1 0 3.5 0a1.7 1.7 0 1 0 -3.5 0M622.4 374.0a1.6 1.6 0 1 0 3.2 0a1.6 1.6 0 1 0 -3.2 0M629.1 372.7a1.7 1.7 0 1 0 3.4 0a1.7 1.7 0 1 0 -3.4 0M594.2 366.0a1.5 1.5 0 1 0 2.9 0a1.5 1.5 0 1 0 -2.9 0M592.1 385.8a1.6 1.6 0 1 0 3.1 0a1.6 1.6 0 1 0 -3.1 0M581.4 358.6a1.3 1.3 0 1 0 2.5 0a1.3 1.3 0 1 0 -2.5 0M582.2 363.8a1.3 1.3 0 1 0 2.7 0a1.3 1.3 0 1 0 -2.7 0M618.6 381.5a1.7 1.7 0 1 0 3.3 0a1.7 1.7 0 1 0 -3.3 0M595.4 381.0a1.6 1.6 0 1 0 3.1 0a1.6 1.6 0 1 0 -3.1 0M610.8 377.4a1.8 1.8 0 1 0 3.6 0a1.8 1.8 0 1 0 -3.6 0M591.6 378.7a1.9 1.9 0 1 0 3.8 0a1.9 1.9 0 1 0 -3.8 0M618.7 355.6a1.9 1.9 0 1 0 3.8 0a1.9 1.9 0 1 0 -3.8 0M618.1 381.1a1.2 1.2 0 1 0 2.4 0a1.2 1.2 0 1 0 -2.4 0M602.5 387.3a1.4 1.4 0 1 0 2.7 0a1.4 1.4 0 1 0 -2.7 0M626.3 364.4a1.4 1.4 0 1 0 2.7 0a1.4 1.4 0 1 0 -2.7 0M592.9 357.5a1.7 1.7 0 1 0 3.4 0a1.7 1.7 0 1 0 -3.4 0M586.2 364.9a1.1 1.1 0 1 0 2.3 0a1.1 1.1 0 1 0 -2.3 0M582.2 376.6a1.7 1.7 0 1 0 3.3 0a1.7 1.7 0 1 0 -3.3 0M613.3 376.0a1.4 1.4 0 1 0 2.7 0a1.4 1.4 0 1 0 -2.7 0M606.3 390.5a1.3 1.3 0 1 0 2.5 0a1.3 1.3 0 1 0 -2.5 0M609.5 387.1a1.7 1.7 0 1 0 3.5 0a1.7 1.7 0 1 0 -3.5 0M618.2 381.8a1.3 1.3 0 1 0 2.6 0a1.3 1.3 0 1 0 -2.6 0M598.4 356.7a1.6 1.6 0 1 0 3.3 0a1.6 1.6 0 1 0 -3.3 0M620.4 370.0a1.8 1.8 0 1 0 3.7 0a1.8 1.8 0 1 0 -3.7 0M608.4 399.2a1.9 1.9 0 1 0 3.7 0a1.9 1.9 0 1 0 -3.7 0M614.1 361.1a1.2 1.2 0 1 0 2.3 0a1.2 1.2 0 1 0 -2.3 0M617.6 392.9a1.5 1.5 0 1 0 3.1 0a1.5 1.5 0 1 0 -3.1 0M592.1 398.1a1.6 1.6 0 1 0 3.3 0a1.6 1.6 0 1 0 -3.3 0M599.6 356.7a1.4 1.4 0 1 0 2.7 0a1.4 1.4 0 1 0 -2.7 0M583.5 364.0a1.6 1.6 0 1 0 3.2 0a1.6 1.6 0 1 0 -3.2 0M595.0 353.2a1.4 1.4 0 1 0 2.8 0a1.4 1.4 0 1 0 -2.8 0M591.8 367.7a1.3 1.3 0 1 0 2.6 0a1.3 1.3 0 1 0 -2.6 0M623.0 366.4a1.3 1.3 0 1 0 2.6 0a1.3 1.3 0 1 0 -2.6 0M587.5 385.5a1.7 1.7 0 1 0 3.5 0a1.7 1.7 0 1 0 -3.5 0M602.2 357.7a1.5 1.5 0 1 0 3.1 0a1.5 1.5 0 1 0 -3.1 0M607.2 393.2a1.2 1.2 0 1 0 2.5 0a1.2 1.2 0 1 0 -2.5 0M589.9 357.7a1.3 1.3 0 1 0 2.5 0a1.3 1.3 0 1 0 -2.5 0M594.9 352.3a1.4 1.4 0 1 0 2.9 0a1.4 1.4 0 1 0 -2.9 0M597.2 372.1a1.5 1.5 0 1 0 2.9 0a1.5 1.5 0 1 0 -2.9 0M593.3 388.2a1.3 1.3 0 1 0 2.6 0a1.3 1.3 0 1 0 -2.6 0M630.4 371.8a1.4 1.4 0 1 0 2.8 0a1.4 1.4 0 1 0 -2.8 0M621.6 364.5a1.6 1.6 0 1 0 3.2 0a1.6 1.6 0 1 0 -3.2 0M583.5 392.4a1.4 1.4 0 1 0 2.8 0a1.4 1.4 0 1 0 -2.8 0M591.8 392.8a1.8 1.8 0 1 0 3.6 0a1.8 1.8 0 1 0 -3.6 0M589.1 383.7a1.3 1.3 0 1 0 2.6 0a1.3 1.3 0 1 0 -2.6 0M587.3 374.3a1.5 1.5 0 1 0 3.0 0a1.5 1.5 0 1 0 -3.0 0M600.9 371.5a1.4 1.4 0 1 0 2.9 0a1.4 1.4 0 1 0 -2.9 0M607.4 351.5a1.4 1.4 0 1 0 2.8 0a1.4 1.4 0 1 0 -2.8 0M584.3 381.0a1.8 1.8 0 1 0 3.7 0a1.8 1.8 0 1 0 -3.7 0M621.9 370.4a1.3 1.3 0 1 0 2.6 0a1.3 1.3 0 1 0 -2.6 0M584.3 357.4a1.5 1.5 0 1 0 3.1 0a1.5 1.5 0 1 0 -3.1 0M609.0 366.9a1.2 1.2 0 1 0 2.3 0a1.2 1.2 0 1 0 -2.3 0M588.5 372.8a1.4 1.4 0 1 0 2.9 0a1.4 1.4 0 1 0 -2.9 0"/><path fill="#d07018" d="M586.5 394.3a1.8 1.8 0 1 0 3.6 0a1.8 1.8 0 1 0 -3.6 0M585.1 389.9a1.7 1.7 0 1 0 3.5 0a1.7 1.7 0 1 0 -3.5 0M598.7 372.4a1.7 1.7 0 1 0 3.5 0a1.7 1.7 0 1 0 -3.5 0M610.9 353.6a1.8 1.8 0 1 0 3.6 0a1.8 1.8 0 1 0 -3.6 0M589.2 375.0a1.9 1.9 0 1 0 3.8 0a1.9 1.9 0 1 0 -3.8 0M584.4 391.7a1.6 1.6 0 1 0 3.1 0a1.6 1.6 0 1 0 -3.1 0M618.9 376.6a1.2 1.2 0 1 0 2.4 0a1.2 1.2 0 1 0 -2.4 0M619.6 353.8a1.5 1.5 0 1 0 2.9 0a1.5 1.5 0 1 0 -2.9 0M586.3 384.1a1.3 1.3 0 1 0 2.6 0a1.3 1.3 0 1 0 -2.6 0M622.1 375.5a1.6 1.6 0 1 0 3.1 0a1.6 1.6 0 1 0 -3.1 0M611.0 375.3a1.3 1.3 0 1 0 2.7 0a1.3 1.3 0 1 0 -2.7 0M580.2 379.5a1.3 1.3 0 1 0 2.5 0a1.3 1.3 0 1 0 -2.5 0M621.5 377.1a1.8 1.8 0 1 0 3.5 0a1.8 1.8 0 1 0 -3.5 0M609.8 397.6a1.7 1.7 0 1 0 3.4 0a1.7 1.7 0 1 0 -3.4 0M581.3 386.8a1.9 1.9 0 1 0 3.7 0a1.9 1.9 0 1 0 -3.7 0M609.1 352.3a1.4 1.4 0 1 0 2.8 0a1.4 1.4 0 1 0 -2.8 0M605.0 347.9a1.8 1.8 0 1 0 3.7 0a1.8 1.8 0 1 0 -3.7 0M611.9 363.4a1.8 1.8 0 1 0 3.6 0a1.8 1.8 0 1 0 -3.6 0M598.5 365.4a1.2 1.2 0 1 0 2.4 0a1.2 1.2 0 1 0 -2.4 0"/><path fill="#d88818" d="M601.2 403.8a1.7 1.7 0 1 0 3.4 0a1.7 1.7 0 1 0 -3.4 0M593.3 345.8a1.4 1.4 0 1 0 2.8 0a1.4 1.4 0 1 0 -2.8 0M635.2 372.2a1.3 1.3 0 1 0 2.6 0a1.3 1.3 0 1 0 -2.6 0M626.3 392.9a1.6 1.6 0 1 0 3.2 0a1.6 1.6 0 1 0 -3.2 0M633.5 382.5a1.4 1.4 0 1 0 2.8 0a1.4 1.4 0 1 0 -2.8 0M635.8 374.8a1.3 1.3 0 1 0 2.5 0a1.3 1.3 0 1 0 -2.5 0M598.2 342.1a1.6 1.6 0 1 0 3.2 0a1.6 1.6 0 1 0 -3.2 0M575.9 383.2a1.7 1.7 0 1 0 3.5 0a1.7 1.7 0 1 0 -3.5 0M634.8 379.7a1.7 1.7 0 1 0 3.4 0a1.7 1.7 0 1 0 -3.4 0M571.1 379.1a1.4 1.4 0 1 0 2.7 0a1.4 1.4 0 1 0 -2.7 0M586.3 346.3a1.3 1.3 0 1 0 2.6 0a1.3 1.3 0 1 0 -2.6 0"/></g>
<g filter="url(#eblur)"><path fill="#d06018" d="M637.7 347.7a1.1 1.1 0 1 0 2.2 0a1.1 1.1 0 1 0 -2.2 0M642.1 343.0a1.4 1.4 0 1 0 2.8 0a1.4 1.4 0 1 0 -2.8 0M652.9 349.0a1.1 1.1 0 1 0 2.1 0a1.1 1.1 0 1 0 -2.1 0M648.2 349.3a1.1 1.1 0 1 0 2.2 0a1.1 1.1 0 1 0 -2.2 0M640.0 349.1a1.3 1.3 0 1 0 2.6 0a1.3 1.3 0 1 0 -2.6 0M652.7 347.9a1.3 1.3 0 1 0 2.6 0a1.3 1.3 0 1 0 -2.6 0M635.7 347.8a1.6 1.6 0 1 0 3.1 0a1.6 1.6 0 1 0 -3.1 0"/><path fill="#d8b81e" d="M650.0 347.2a1.5 1.5 0 1 0 3.0 0a1.5 1.5 0 1 0 -3.0 0M648.1 349.9a1.5 1.5 0 1 0 3.1 0a1.5 1.5 0 1 0 -3.1 0M652.2 348.8a1.4 1.4 0 1 0 2.8 0a1.4 1.4 0 1 0 -2.8 0M653.5 346.6a1.3 1.3 0 1 0 2.5 0a1.3 1.3 0 1 0 -2.5 0M643.8 345.8a1.5 1.5 0 1 0 3.0 0a1.5 1.5 0 1 0 -3.0 0M652.0 346.3a1.2 1.2 0 1 0 2.4 0a1.2 1.2 0 1 0 -2.4 0M642.1 342.8a1.1 1.1 0 1 0 2.3 0a1.1 1.1 0 1 0 -2.3 0M645.6 350.5a1.5 1.5 0 1 0 2.9 0a1.5 1.5 0 1 0 -2.9 0M649.9 349.5a1.4 1.4 0 1 0 2.8 0a1.4 1.4 0 1 0 -2.8 0M649.2 347.7a1.4 1.4 0 1 0 2.8 0a1.4 1.4 0 1 0 -2.8 0M650.6 348.2a1.2 1.2 0 1 0 2.3 0a1.2 1.2 0 1 0 -2.3 0M649.2 351.6a1.1 1.1 0 1 0 2.2 0a1.1 1.1 0 1 0 -2.2 0M644.8 341.7a1.2 1.2 0 1 0 2.3 0a1.2 1.2 0 1 0 -2.3 0M645.7 343.8a1.0 1.0 0 1 0 2.0 0a1.0 1.0 0 1 0 -2.0 0"/><path fill="#c8c81e" d="M642.0 350.0a1.0 1.0 0 1 0 2.0 0a1.0 1.0 0 1 0 -2.0 0M643.2 347.6a1.6 1.6 0 1 0 3.2 0a1.6 1.6 0 1 0 -3.2 0M640.5 350.0a1.3 1.3 0 1 0 2.6 0a1.3 1.3 0 1 0 -2.6 0M651.3 348.1a1.6 1.6 0 1 0 3.2 0a1.6 1.6 0 1 0 -3.2 0"/></g>
<rect x="521.60" y="385.30" width="45.60" height="46.60" fill="#242406" />
<g clip-path="url(#clipI1)"><g filter="url(#eblur2)"><path fill="#80da2a" d="M528.8 418.6a3.4 3.4 0 1 0 6.9 0a3.4 3.4 0 1 0 -6.9 0M564.1 403.3a3.5 3.5 0 1 0 7.1 0a3.5 3.5 0 1 0 -7.1 0M542.5 407.7a2.8 2.8 0 1 0 5.7 0a2.8 2.8 0 1 0 -5.7 0M526.4 420.4a3.5 3.5 0 1 0 7.1 0a3.5 3.5 0 1 0 -7.1 0M519.0 384.6a2.6 2.6 0 1 0 5.2 0a2.6 2.6 0 1 0 -5.2 0M527.0 421.8a3.0 3.0 0 1 0 5.9 0a3.0 3.0 0 1 0 -5.9 0M558.2 418.4a3.2 3.2 0 1 0 6.5 0a3.2 3.2 0 1 0 -6.5 0M550.4 430.5a2.9 2.9 0 1 0 5.8 0a2.9 2.9 0 1 0 -5.8 0M544.6 428.9a3.3 3.3 0 1 0 6.6 0a3.3 3.3 0 1 0 -6.6 0M555.9 392.1a3.0 3.0 0 1 0 5.9 0a3.0 3.0 0 1 0 -5.9 0M554.0 388.6a3.1 3.1 0 1 0 6.2 0a3.1 3.1 0 1 0 -6.2 0"/><path fill="#c4dc24" d="M525.7 395.0a2.7 2.7 0 1 0 5.5 0a2.7 2.7 0 1 0 -5.5 0M516.3 397.3a3.5 3.5 0 1 0 6.9 0a3.5 3.5 0 1 0 -6.9 0M564.0 424.3a3.4 3.4 0 1 0 6.9 0a3.4 3.4 0 1 0 -6.9 0M534.9 405.4a2.6 2.6 0 1 0 5.3 0a2.6 2.6 0 1 0 -5.3 0M544.0 421.9a3.2 3.2 0 1 0 6.5 0a3.2 3.2 0 1 0 -6.5 0M538.5 392.2a3.1 3.1 0 1 0 6.1 0a3.1 3.1 0 1 0 -6.1 0M522.9 408.5a2.8 2.8 0 1 0 5.5 0a2.8 2.8 0 1 0 -5.5 0M525.7 402.1a3.2 3.2 0 1 0 6.4 0a3.2 3.2 0 1 0 -6.4 0M548.1 391.3a3.5 3.5 0 1 0 6.9 0a3.5 3.5 0 1 0 -6.9 0M560.8 424.8a3.4 3.4 0 1 0 6.9 0a3.4 3.4 0 1 0 -6.9 0M534.5 420.3a3.6 3.6 0 1 0 7.1 0a3.6 3.6 0 1 0 -7.1 0M546.6 420.6a3.2 3.2 0 1 0 6.4 0a3.2 3.2 0 1 0 -6.4 0M545.3 413.7a3.3 3.3 0 1 0 6.6 0a3.3 3.3 0 1 0 -6.6 0M533.2 398.4a3.3 3.3 0 1 0 6.5 0a3.3 3.3 0 1 0 -6.5 0M521.5 394.7a3.2 3.2 0 1 0 6.4 0a3.2 3.2 0 1 0 -6.4 0M544.4 411.3a3.0 3.0 0 1 0 6.0 0a3.0 3.0 0 1 0 -6.0 0M532.9 387.8a3.6 3.6 0 1 0 7.2 0a3.6 3.6 0 1 0 -7.2 0M522.0 398.7a3.2 3.2 0 1 0 6.3 0a3.2 3.2 0 1 0 -6.3 0M519.5 407.4a3.4 3.4 0 1 0 6.8 0a3.4 3.4 0 1 0 -6.8 0M546.2 401.5a2.8 2.8 0 1 0 5.6 0a2.8 2.8 0 1 0 -5.6 0M526.5 401.2a2.9 2.9 0 1 0 5.9 0a2.9 2.9 0 1 0 -5.9 0M531.8 403.2a2.6 2.6 0 1 0 5.3 0a2.6 2.6 0 1 0 -5.3 0M517.8 410.8a3.4 3.4 0 1 0 6.8 0a3.4 3.4 0 1 0 -6.8 0M540.0 402.3a3.4 3.4 0 1 0 6.8 0a3.4 3.4 0 1 0 -6.8 0M531.7 433.0a2.6 2.6 0 1 0 5.2 0a2.6 2.6 0 1 0 -5.2 0M531.0 422.6a2.8 2.8 0 1 0 5.7 0a2.8 2.8 0 1 0 -5.7 0M566.4 407.5a3.4 3.4 0 1 0 6.7 0a3.4 3.4 0 1 0 -6.7 0M539.2 383.2a2.8 2.8 0 1 0 5.6 0a2.8 2.8 0 1 0 -5.6 0M532.5 431.7a3.4 3.4 0 1 0 6.9 0a3.4 3.4 0 1 0 -6.9 0M543.3 393.1a3.0 3.0 0 1 0 6.0 0a3.0 3.0 0 1 0 -6.0 0M525.3 412.8a3.4 3.4 0 1 0 6.8 0a3.4 3.4 0 1 0 -6.8 0M558.8 391.0a3.1 3.1 0 1 0 6.1 0a3.1 3.1 0 1 0 -6.1 0M528.4 410.6a3.0 3.0 0 1 0 6.0 0a3.0 3.0 0 1 0 -6.0 0M555.2 400.7a2.6 2.6 0 1 0 5.1 0a2.6 2.6 0 1 0 -5.1 0M545.8 396.4a3.3 3.3 0 1 0 6.6 0a3.3 3.3 0 1 0 -6.6 0M519.6 407.9a3.4 3.4 0 1 0 6.8 0a3.4 3.4 0 1 0 -6.8 0M545.0 422.0a2.7 2.7 0 1 0 5.5 0a2.7 2.7 0 1 0 -5.5 0M522.9 399.9a3.6 3.6 0 1 0 7.1 0a3.6 3.6 0 1 0 -7.1 0M526.9 431.5a2.7 2.7 0 1 0 5.4 0a2.7 2.7 0 1 0 -5.4 0M566.1 387.6a2.6 2.6 0 1 0 5.3 0a2.6 2.6 0 1 0 -5.3 0M519.7 403.1a2.7 2.7 0 1 0 5.4 0a2.7 2.7 0 1 0 -5.4 0M517.0 419.3a2.8 2.8 0 1 0 5.5 0a2.8 2.8 0 1 0 -5.5 0M537.4 395.7a3.1 3.1 0 1 0 6.3 0a3.1 3.1 0 1 0 -6.3 0M544.0 430.2a3.3 3.3 0 1 0 6.6 0a3.3 3.3 0 1 0 -6.6 0M520.5 416.9a3.4 3.4 0 1 0 6.9 0a3.4 3.4 0 1 0 -6.9 0M551.6 412.9a3.3 3.3 0 1 0 6.6 0a3.3 3.3 0 1 0 -6.6 0M528.4 400.2a2.5 2.5 0 1 0 5.0 0a2.5 2.5 0 1 0 -5.0 0M560.9 387.6a3.4 3.4 0 1 0 6.8 0a3.4 3.4 0 1 0 -6.8 0M558.1 406.3a2.7 2.7 0 1 0 5.3 0a2.7 2.7 0 1 0 -5.3 0M516.4 410.1a2.7 2.7 0 1 0 5.3 0a2.7 2.7 0 1 0 -5.3 0M561.9 384.0a3.3 3.3 0 1 0 6.7 0a3.3 3.3 0 1 0 -6.7 0M547.2 402.6a3.4 3.4 0 1 0 6.7 0a3.4 3.4 0 1 0 -6.7 0M533.2 405.3a3.1 3.1 0 1 0 6.2 0a3.1 3.1 0 1 0 -6.2 0"/><path fill="#dcd424" d="M553.7 389.8a2.7 2.7 0 1 0 5.5 0a2.7 2.7 0 1 0 -5.5 0M540.9 422.3a3.0 3.0 0 1 0 5.9 0a3.0 3.0 0 1 0 -5.9 0M529.0 406.9a2.9 2.9 0 1 0 5.9 0a2.9 2.9 0 1 0 -5.9 0M515.7 400.4a3.6 3.6 0 1 0 7.1 0a3.6 3.6 0 1 0 -7.1 0M520.9 422.4a2.5 2.5 0 1 0 5.0 0a2.5 2.5 0 1 0 -5.0 0M555.4 392.9a3.1 3.1 0 1 0 6.2 0a3.1 3.1 0 1 0 -6.2 0M533.3 398.1a2.7 2.7 0 1 0 5.3 0a2.7 2.7 0 1 0 -5.3 0M532.8 429.4a2.6 2.6 0 1 0 5.3 0a2.6 2.6 0 1 0 -5.3 0M542.4 430.9a3.1 3.1 0 1 0 6.3 0a3.1 3.1 0 1 0 -6.3 0M540.2 396.6a3.5 3.5 0 1 0 7.0 0a3.5 3.5 0 1 0 -7.0 0M525.3 388.3a2.8 2.8 0 1 0 5.7 0a2.8 2.8 0 1 0 -5.7 0M560.7 408.8a3.4 3.4 0 1 0 6.8 0a3.4 3.4 0 1 0 -6.8 0M563.0 396.4a3.2 3.2 0 1 0 6.3 0a3.2 3.2 0 1 0 -6.3 0M546.3 385.9a3.2 3.2 0 1 0 6.3 0a3.2 3.2 0 1 0 -6.3 0M557.6 409.0a3.0 3.0 0 1 0 5.9 0a3.0 3.0 0 1 0 -5.9 0M556.1 434.3a3.0 3.0 0 1 0 5.9 0a3.0 3.0 0 1 0 -5.9 0M518.7 415.3a3.1 3.1 0 1 0 6.1 0a3.1 3.1 0 1 0 -6.1 0M532.0 388.4a2.6 2.6 0 1 0 5.2 0a2.6 2.6 0 1 0 -5.2 0M554.9 408.6a3.4 3.4 0 1 0 6.8 0a3.4 3.4 0 1 0 -6.8 0"/><path fill="#48d030" d="M530.9 405.4a3.2 3.2 0 1 0 6.3 0a3.2 3.2 0 1 0 -6.3 0M557.0 424.9a3.3 3.3 0 1 0 6.6 0a3.3 3.3 0 1 0 -6.6 0M517.8 390.4a3.4 3.4 0 1 0 6.8 0a3.4 3.4 0 1 0 -6.8 0M529.4 418.6a2.8 2.8 0 1 0 5.6 0a2.8 2.8 0 1 0 -5.6 0M560.3 388.8a2.7 2.7 0 1 0 5.5 0a2.7 2.7 0 1 0 -5.5 0M522.9 410.8a3.1 3.1 0 1 0 6.2 0a3.1 3.1 0 1 0 -6.2 0M537.4 415.4a3.3 3.3 0 1 0 6.6 0a3.3 3.3 0 1 0 -6.6 0M552.1 424.5a2.7 2.7 0 1 0 5.3 0a2.7 2.7 0 1 0 -5.3 0M565.5 396.2a2.7 2.7 0 1 0 5.5 0a2.7 2.7 0 1 0 -5.5 0M548.0 432.1a3.2 3.2 0 1 0 6.3 0a3.2 3.2 0 1 0 -6.3 0"/><path fill="#8a6a10" d="M557.5 424.5a3.3 3.3 0 1 0 6.5 0a3.3 3.3 0 1 0 -6.5 0M552.1 428.0a3.4 3.4 0 1 0 6.8 0a3.4 3.4 0 1 0 -6.8 0M559.2 404.6a3.3 3.3 0 1 0 6.7 0a3.3 3.3 0 1 0 -6.7 0M520.7 430.5a3.4 3.4 0 1 0 6.8 0a3.4 3.4 0 1 0 -6.8 0M563.7 406.1a2.9 2.9 0 1 0 5.7 0a2.9 2.9 0 1 0 -5.7 0"/><path fill="#d8a018" d="M517.3 409.1a3.3 3.3 0 1 0 6.6 0a3.3 3.3 0 1 0 -6.6 0M533.8 406.0a3.6 3.6 0 1 0 7.2 0a3.6 3.6 0 1 0 -7.2 0M516.6 395.9a2.7 2.7 0 1 0 5.3 0a2.7 2.7 0 1 0 -5.3 0M548.0 426.7a2.6 2.6 0 1 0 5.3 0a2.6 2.6 0 1 0 -5.3 0M565.3 384.1a2.7 2.7 0 1 0 5.3 0a2.7 2.7 0 1 0 -5.3 0M551.4 405.2a3.3 3.3 0 1 0 6.6 0a3.3 3.3 0 1 0 -6.6 0M542.2 423.3a2.9 2.9 0 1 0 5.8 0a2.9 2.9 0 1 0 -5.8 0"/></g></g>
<path d="M521.6 385.3H567.2V431.9" fill="none" stroke="#f2f2f2" stroke-width="1.2"/>
<rect x="632.90" y="414.80" width="42.60" height="3.50" fill="#fff" />
</g>
<text x="530.0" y="330.9" font-size="13.8" fill="#ff1010">SOX9 <tspan fill="#18e818">PDX1</tspan></text>
<rect x="521.60" y="434.60" width="160.30" height="120.30" fill="#0a0302" />
<g clip-path="url(#clipE2)">
<ellipse cx="606.3" cy="496.8" rx="33.3" ry="32.6" fill="#1e1204"/>
<g filter="url(#eblur)"><path fill="#e88a1a" d="M618.9 519.8a1.4 1.4 0 1 0 2.8 0a1.4 1.4 0 1 0 -2.8 0M605.6 468.7a1.6 1.6 0 1 0 3.2 0a1.6 1.6 0 1 0 -3.2 0M614.4 498.5a1.8 1.8 0 1 0 3.6 0a1.8 1.8 0 1 0 -3.6 0M632.3 508.4a1.3 1.3 0 1 0 2.6 0a1.3 1.3 0 1 0 -2.6 0M588.4 493.2a1.0 1.0 0 1 0 2.0 0a1.0 1.0 0 1 0 -2.0 0M586.3 473.5a1.2 1.2 0 1 0 2.4 0a1.2 1.2 0 1 0 -2.4 0M624.7 520.0a1.1 1.1 0 1 0 2.2 0a1.1 1.1 0 1 0 -2.2 0M597.9 494.7a1.7 1.7 0 1 0 3.4 0a1.7 1.7 0 1 0 -3.4 0M585.6 483.2a1.8 1.8 0 1 0 3.5 0a1.8 1.8 0 1 0 -3.5 0M631.6 509.7a1.4 1.4 0 1 0 2.7 0a1.4 1.4 0 1 0 -2.7 0M601.6 493.7a1.4 1.4 0 1 0 2.7 0a1.4 1.4 0 1 0 -2.7 0M587.2 511.6a1.8 1.8 0 1 0 3.5 0a1.8 1.8 0 1 0 -3.5 0M627.2 478.7a1.6 1.6 0 1 0 3.2 0a1.6 1.6 0 1 0 -3.2 0M589.7 470.8a1.5 1.5 0 1 0 3.1 0a1.5 1.5 0 1 0 -3.1 0M630.1 502.9a1.2 1.2 0 1 0 2.4 0a1.2 1.2 0 1 0 -2.4 0M615.2 473.8a1.4 1.4 0 1 0 2.8 0a1.4 1.4 0 1 0 -2.8 0M626.7 506.3a1.2 1.2 0 1 0 2.3 0a1.2 1.2 0 1 0 -2.3 0M595.4 487.1a1.4 1.4 0 1 0 2.8 0a1.4 1.4 0 1 0 -2.8 0M598.0 483.2a1.7 1.7 0 1 0 3.4 0a1.7 1.7 0 1 0 -3.4 0M589.3 517.0a1.6 1.6 0 1 0 3.2 0a1.6 1.6 0 1 0 -3.2 0M581.2 508.6a1.6 1.6 0 1 0 3.2 0a1.6 1.6 0 1 0 -3.2 0M633.8 503.3a1.6 1.6 0 1 0 3.3 0a1.6 1.6 0 1 0 -3.3 0M603.2 498.0a1.5 1.5 0 1 0 2.9 0a1.5 1.5 0 1 0 -2.9 0M584.6 513.1a1.6 1.6 0 1 0 3.1 0a1.6 1.6 0 1 0 -3.1 0M610.0 502.8a1.3 1.3 0 1 0 2.7 0a1.3 1.3 0 1 0 -2.7 0M627.4 517.9a1.0 1.0 0 1 0 2.0 0a1.0 1.0 0 1 0 -2.0 0M624.4 492.2a1.5 1.5 0 1 0 3.0 0a1.5 1.5 0 1 0 -3.0 0M591.9 511.0a1.5 1.5 0 1 0 3.0 0a1.5 1.5 0 1 0 -3.0 0M627.7 479.0a1.1 1.1 0 1 0 2.3 0a1.1 1.1 0 1 0 -2.3 0M597.1 483.4a1.4 1.4 0 1 0 2.7 0a1.4 1.4 0 1 0 -2.7 0M579.9 480.4a1.4 1.4 0 1 0 2.8 0a1.4 1.4 0 1 0 -2.8 0M592.1 471.3a1.8 1.8 0 1 0 3.5 0a1.8 1.8 0 1 0 -3.5 0M619.2 509.5a1.7 1.7 0 1 0 3.3 0a1.7 1.7 0 1 0 -3.3 0M621.6 494.7a1.3 1.3 0 1 0 2.5 0a1.3 1.3 0 1 0 -2.5 0M622.7 489.3a1.7 1.7 0 1 0 3.3 0a1.7 1.7 0 1 0 -3.3 0M609.4 484.1a1.4 1.4 0 1 0 2.9 0a1.4 1.4 0 1 0 -2.9 0M622.9 472.8a1.1 1.1 0 1 0 2.3 0a1.1 1.1 0 1 0 -2.3 0M622.6 474.8a1.2 1.2 0 1 0 2.4 0a1.2 1.2 0 1 0 -2.4 0M578.5 503.3a1.1 1.1 0 1 0 2.3 0a1.1 1.1 0 1 0 -2.3 0M626.4 492.2a1.3 1.3 0 1 0 2.6 0a1.3 1.3 0 1 0 -2.6 0M612.1 513.0a1.2 1.2 0 1 0 2.4 0a1.2 1.2 0 1 0 -2.4 0M597.4 480.2a1.6 1.6 0 1 0 3.2 0a1.6 1.6 0 1 0 -3.2 0M576.6 490.8a1.7 1.7 0 1 0 3.5 0a1.7 1.7 0 1 0 -3.5 0M613.5 491.2a1.2 1.2 0 1 0 2.4 0a1.2 1.2 0 1 0 -2.4 0M603.4 526.7a1.5 1.5 0 1 0 3.0 0a1.5 1.5 0 1 0 -3.0 0M581.2 509.7a1.2 1.2 0 1 0 2.4 0a1.2 1.2 0 1 0 -2.4 0M594.0 506.8a1.8 1.8 0 1 0 3.6 0a1.8 1.8 0 1 0 -3.6 0M616.6 518.8a1.5 1.5 0 1 0 3.1 0a1.5 1.5 0 1 0 -3.1 0M614.8 519.5a1.4 1.4 0 1 0 2.7 0a1.4 1.4 0 1 0 -2.7 0M601.6 476.6a1.8 1.8 0 1 0 3.6 0a1.8 1.8 0 1 0 -3.6 0M610.6 476.6a1.7 1.7 0 1 0 3.5 0a1.7 1.7 0 1 0 -3.5 0M619.1 505.9a1.7 1.7 0 1 0 3.5 0a1.7 1.7 0 1 0 -3.5 0M573.9 498.6a1.1 1.1 0 1 0 2.2 0a1.1 1.1 0 1 0 -2.2 0M608.9 509.5a1.0 1.0 0 1 0 2.1 0a1.0 1.0 0 1 0 -2.1 0M584.1 482.3a1.5 1.5 0 1 0 2.9 0a1.5 1.5 0 1 0 -2.9 0M597.3 467.0a1.2 1.2 0 1 0 2.4 0a1.2 1.2 0 1 0 -2.4 0M599.9 491.6a1.2 1.2 0 1 0 2.5 0a1.2 1.2 0 1 0 -2.5 0M602.9 485.3a1.1 1.1 0 1 0 2.3 0a1.1 1.1 0 1 0 -2.3 0M604.3 503.3a1.5 1.5 0 1 0 3.1 0a1.5 1.5 0 1 0 -3.1 0M610.4 527.3a1.2 1.2 0 1 0 2.3 0a1.2 1.2 0 1 0 -2.3 0M586.4 487.2a1.3 1.3 0 1 0 2.5 0a1.3 1.3 0 1 0 -2.5 0M606.6 499.3a1.5 1.5 0 1 0 2.9 0a1.5 1.5 0 1 0 -2.9 0M608.9 484.7a1.4 1.4 0 1 0 2.7 0a1.4 1.4 0 1 0 -2.7 0M622.4 504.4a1.3 1.3 0 1 0 2.6 0a1.3 1.3 0 1 0 -2.6 0M618.1 503.2a1.7 1.7 0 1 0 3.5 0a1.7 1.7 0 1 0 -3.5 0M616.6 488.5a1.7 1.7 0 1 0 3.4 0a1.7 1.7 0 1 0 -3.4 0M629.8 495.6a1.3 1.3 0 1 0 2.6 0a1.3 1.3 0 1 0 -2.6 0M608.3 479.2a1.5 1.5 0 1 0 3.0 0a1.5 1.5 0 1 0 -3.0 0M592.1 512.6a1.2 1.2 0 1 0 2.4 0a1.2 1.2 0 1 0 -2.4 0M611.3 478.8a1.4 1.4 0 1 0 2.9 0a1.4 1.4 0 1 0 -2.9 0M623.3 476.4a1.6 1.6 0 1 0 3.3 0a1.6 1.6 0 1 0 -3.3 0M597.3 516.7a1.3 1.3 0 1 0 2.7 0a1.3 1.3 0 1 0 -2.7 0M615.7 506.7a1.6 1.6 0 1 0 3.1 0a1.6 1.6 0 1 0 -3.1 0M611.3 524.7a1.4 1.4 0 1 0 2.7 0a1.4 1.4 0 1 0 -2.7 0M606.7 466.0a1.4 1.4 0 1 0 2.7 0a1.4 1.4 0 1 0 -2.7 0M610.9 496.2a1.4 1.4 0 1 0 2.7 0a1.4 1.4 0 1 0 -2.7 0M606.7 506.1a1.3 1.3 0 1 0 2.7 0a1.3 1.3 0 1 0 -2.7 0M583.8 490.6a1.2 1.2 0 1 0 2.4 0a1.2 1.2 0 1 0 -2.4 0M605.7 496.6a1.6 1.6 0 1 0 3.2 0a1.6 1.6 0 1 0 -3.2 0M587.0 494.5a1.4 1.4 0 1 0 2.8 0a1.4 1.4 0 1 0 -2.8 0M598.7 526.7a1.4 1.4 0 1 0 2.7 0a1.4 1.4 0 1 0 -2.7 0M632.7 481.5a1.2 1.2 0 1 0 2.4 0a1.2 1.2 0 1 0 -2.4 0M598.9 517.9a1.7 1.7 0 1 0 3.5 0a1.7 1.7 0 1 0 -3.5 0"/><path fill="#e8b020" d="M611.1 524.8a1.4 1.4 0 1 0 2.8 0a1.4 1.4 0 1 0 -2.8 0M597.6 492.5a1.2 1.2 0 1 0 2.4 0a1.2 1.2 0 1 0 -2.4 0M607.6 502.5a1.2 1.2 0 1 0 2.4 0a1.2 1.2 0 1 0 -2.4 0M621.5 512.3a1.2 1.2 0 1 0 2.3 0a1.2 1.2 0 1 0 -2.3 0M593.5 472.6a1.8 1.8 0 1 0 3.5 0a1.8 1.8 0 1 0 -3.5 0M608.7 474.7a1.0 1.0 0 1 0 2.1 0a1.0 1.0 0 1 0 -2.1 0M621.9 504.7a1.8 1.8 0 1 0 3.6 0a1.8 1.8 0 1 0 -3.6 0M620.3 472.4a1.5 1.5 0 1 0 3.0 0a1.5 1.5 0 1 0 -3.0 0M582.6 507.8a1.2 1.2 0 1 0 2.5 0a1.2 1.2 0 1 0 -2.5 0M578.4 514.4a1.1 1.1 0 1 0 2.2 0a1.1 1.1 0 1 0 -2.2 0M591.0 508.3a1.2 1.2 0 1 0 2.5 0a1.2 1.2 0 1 0 -2.5 0M614.4 468.8a1.7 1.7 0 1 0 3.4 0a1.7 1.7 0 1 0 -3.4 0M597.5 521.1a1.1 1.1 0 1 0 2.1 0a1.1 1.1 0 1 0 -2.1 0M620.6 522.1a1.7 1.7 0 1 0 3.5 0a1.7 1.7 0 1 0 -3.5 0M635.1 485.7a1.0 1.0 0 1 0 2.0 0a1.0 1.0 0 1 0 -2.0 0M609.6 469.5a1.3 1.3 0 1 0 2.6 0a1.3 1.3 0 1 0 -2.6 0M607.5 507.0a1.4 1.4 0 1 0 2.8 0a1.4 1.4 0 1 0 -2.8 0M611.0 468.7a1.2 1.2 0 1 0 2.3 0a1.2 1.2 0 1 0 -2.3 0M596.7 487.6a1.2 1.2 0 1 0 2.4 0a1.2 1.2 0 1 0 -2.4 0M620.0 499.8a1.3 1.3 0 1 0 2.5 0a1.3 1.3 0 1 0 -2.5 0M590.4 523.6a1.1 1.1 0 1 0 2.2 0a1.1 1.1 0 1 0 -2.2 0M583.0 478.8a1.7 1.7 0 1 0 3.4 0a1.7 1.7 0 1 0 -3.4 0M580.2 475.6a1.7 1.7 0 1 0 3.5 0a1.7 1.7 0 1 0 -3.5 0M628.7 486.1a1.4 1.4 0 1 0 2.8 0a1.4 1.4 0 1 0 -2.8 0M632.8 512.7a1.4 1.4 0 1 0 2.8 0a1.4 1.4 0 1 0 -2.8 0M616.3 471.1a1.6 1.6 0 1 0 3.3 0a1.6 1.6 0 1 0 -3.3 0M625.9 489.6a1.8 1.8 0 1 0 3.6 0a1.8 1.8 0 1 0 -3.6 0M600.8 528.6a1.6 1.6 0 1 0 3.1 0a1.6 1.6 0 1 0 -3.1 0M621.5 500.6a1.3 1.3 0 1 0 2.6 0a1.3 1.3 0 1 0 -2.6 0M595.0 470.1a1.3 1.3 0 1 0 2.6 0a1.3 1.3 0 1 0 -2.6 0M588.5 498.9a1.1 1.1 0 1 0 2.2 0a1.1 1.1 0 1 0 -2.2 0M597.1 487.0a1.4 1.4 0 1 0 2.8 0a1.4 1.4 0 1 0 -2.8 0M598.1 503.0a1.6 1.6 0 1 0 3.3 0a1.6 1.6 0 1 0 -3.3 0M585.8 515.7a1.5 1.5 0 1 0 3.0 0a1.5 1.5 0 1 0 -3.0 0M607.2 466.7a1.3 1.3 0 1 0 2.6 0a1.3 1.3 0 1 0 -2.6 0M633.4 481.9a1.2 1.2 0 1 0 2.5 0a1.2 1.2 0 1 0 -2.5 0M579.8 492.2a1.1 1.1 0 1 0 2.2 0a1.1 1.1 0 1 0 -2.2 0M615.1 509.4a1.2 1.2 0 1 0 2.4 0a1.2 1.2 0 1 0 -2.4 0M587.3 508.7a1.1 1.1 0 1 0 2.3 0a1.1 1.1 0 1 0 -2.3 0M583.8 495.2a1.1 1.1 0 1 0 2.2 0a1.1 1.1 0 1 0 -2.2 0M611.0 525.9a1.8 1.8 0 1 0 3.5 0a1.8 1.8 0 1 0 -3.5 0M577.9 480.3a1.5 1.5 0 1 0 3.1 0a1.5 1.5 0 1 0 -3.1 0M575.7 487.0a1.6 1.6 0 1 0 3.2 0a1.6 1.6 0 1 0 -3.2 0M615.1 511.5a1.1 1.1 0 1 0 2.2 0a1.1 1.1 0 1 0 -2.2 0M614.9 498.0a1.0 1.0 0 1 0 2.0 0a1.0 1.0 0 1 0 -2.0 0"/><path fill="#30d02a" d="M589.0 496.3a1.3 1.3 0 1 0 2.6 0a1.3 1.3 0 1 0 -2.6 0M623.4 478.9a1.3 1.3 0 1 0 2.5 0a1.3 1.3 0 1 0 -2.5 0M621.4 520.9a1.7 1.7 0 1 0 3.5 0a1.7 1.7 0 1 0 -3.5 0M581.4 503.7a1.4 1.4 0 1 0 2.8 0a1.4 1.4 0 1 0 -2.8 0M632.5 482.7a1.3 1.3 0 1 0 2.6 0a1.3 1.3 0 1 0 -2.6 0M610.3 508.8a1.7 1.7 0 1 0 3.5 0a1.7 1.7 0 1 0 -3.5 0M590.7 517.2a1.1 1.1 0 1 0 2.2 0a1.1 1.1 0 1 0 -2.2 0M622.3 481.7a1.2 1.2 0 1 0 2.4 0a1.2 1.2 0 1 0 -2.4 0M614.1 487.7a1.6 1.6 0 1 0 3.3 0a1.6 1.6 0 1 0 -3.3 0M604.3 514.1a1.1 1.1 0 1 0 2.3 0a1.1 1.1 0 1 0 -2.3 0M603.9 474.5a1.8 1.8 0 1 0 3.5 0a1.8 1.8 0 1 0 -3.5 0M577.3 492.4a1.2 1.2 0 1 0 2.3 0a1.2 1.2 0 1 0 -2.3 0M592.1 467.9a1.5 1.5 0 1 0 2.9 0a1.5 1.5 0 1 0 -2.9 0M613.3 502.3a1.4 1.4 0 1 0 2.7 0a1.4 1.4 0 1 0 -2.7 0M611.9 508.7a1.6 1.6 0 1 0 3.1 0a1.6 1.6 0 1 0 -3.1 0M609.4 468.5a1.4 1.4 0 1 0 2.7 0a1.4 1.4 0 1 0 -2.7 0M631.3 507.7a1.6 1.6 0 1 0 3.1 0a1.6 1.6 0 1 0 -3.1 0M604.8 523.7a1.0 1.0 0 1 0 2.1 0a1.0 1.0 0 1 0 -2.1 0M591.6 526.0a1.1 1.1 0 1 0 2.1 0a1.1 1.1 0 1 0 -2.1 0M584.7 494.6a1.2 1.2 0 1 0 2.4 0a1.2 1.2 0 1 0 -2.4 0M625.5 503.2a1.6 1.6 0 1 0 3.1 0a1.6 1.6 0 1 0 -3.1 0M605.7 527.6a1.5 1.5 0 1 0 3.0 0a1.5 1.5 0 1 0 -3.0 0M598.1 513.4a1.1 1.1 0 1 0 2.2 0a1.1 1.1 0 1 0 -2.2 0M595.8 493.8a1.8 1.8 0 1 0 3.5 0a1.8 1.8 0 1 0 -3.5 0M603.5 474.9a1.8 1.8 0 1 0 3.5 0a1.8 1.8 0 1 0 -3.5 0M600.5 482.8a1.5 1.5 0 1 0 3.0 0a1.5 1.5 0 1 0 -3.0 0M603.9 526.4a1.5 1.5 0 1 0 3.1 0a1.5 1.5 0 1 0 -3.1 0M612.9 520.5a1.3 1.3 0 1 0 2.6 0a1.3 1.3 0 1 0 -2.6 0M602.4 510.0a1.2 1.2 0 1 0 2.4 0a1.2 1.2 0 1 0 -2.4 0M616.9 526.0a1.6 1.6 0 1 0 3.3 0a1.6 1.6 0 1 0 -3.3 0M630.3 486.0a1.4 1.4 0 1 0 2.8 0a1.4 1.4 0 1 0 -2.8 0M629.4 497.9a1.2 1.2 0 1 0 2.5 0a1.2 1.2 0 1 0 -2.5 0M575.3 505.5a1.1 1.1 0 1 0 2.2 0a1.1 1.1 0 1 0 -2.2 0M629.6 499.5a1.7 1.7 0 1 0 3.4 0a1.7 1.7 0 1 0 -3.4 0M604.7 468.7a1.0 1.0 0 1 0 2.1 0a1.0 1.0 0 1 0 -2.1 0M611.0 479.0a1.3 1.3 0 1 0 2.6 0a1.3 1.3 0 1 0 -2.6 0M603.9 504.5a1.4 1.4 0 1 0 2.8 0a1.4 1.4 0 1 0 -2.8 0M594.0 473.2a1.1 1.1 0 1 0 2.2 0a1.1 1.1 0 1 0 -2.2 0M626.7 486.9a1.6 1.6 0 1 0 3.1 0a1.6 1.6 0 1 0 -3.1 0M601.3 473.7a1.7 1.7 0 1 0 3.3 0a1.7 1.7 0 1 0 -3.3 0M606.4 503.1a1.4 1.4 0 1 0 2.9 0a1.4 1.4 0 1 0 -2.9 0M623.1 507.0a1.4 1.4 0 1 0 2.9 0a1.4 1.4 0 1 0 -2.9 0M613.2 479.0a1.0 1.0 0 1 0 2.0 0a1.0 1.0 0 1 0 -2.0 0M582.5 508.2a1.5 1.5 0 1 0 3.1 0a1.5 1.5 0 1 0 -3.1 0M623.8 482.7a1.2 1.2 0 1 0 2.4 0a1.2 1.2 0 1 0 -2.4 0M575.9 481.9a1.2 1.2 0 1 0 2.4 0a1.2 1.2 0 1 0 -2.4 0M624.1 475.9a1.2 1.2 0 1 0 2.4 0a1.2 1.2 0 1 0 -2.4 0M623.0 472.0a1.2 1.2 0 1 0 2.5 0a1.2 1.2 0 1 0 -2.5 0M597.7 480.8a1.2 1.2 0 1 0 2.3 0a1.2 1.2 0 1 0 -2.3 0M576.9 497.2a1.5 1.5 0 1 0 3.1 0a1.5 1.5 0 1 0 -3.1 0M591.6 519.1a1.2 1.2 0 1 0 2.3 0a1.2 1.2 0 1 0 -2.3 0M581.9 503.0a1.6 1.6 0 1 0 3.3 0a1.6 1.6 0 1 0 -3.3 0M583.4 484.0a1.4 1.4 0 1 0 2.8 0a1.4 1.4 0 1 0 -2.8 0M620.0 521.6a1.3 1.3 0 1 0 2.5 0a1.3 1.3 0 1 0 -2.5 0M606.7 503.7a1.1 1.1 0 1 0 2.2 0a1.1 1.1 0 1 0 -2.2 0M583.6 475.9a1.1 1.1 0 1 0 2.2 0a1.1 1.1 0 1 0 -2.2 0M593.7 494.4a1.6 1.6 0 1 0 3.2 0a1.6 1.6 0 1 0 -3.2 0M606.3 521.7a1.2 1.2 0 1 0 2.3 0a1.2 1.2 0 1 0 -2.3 0M622.7 497.8a1.7 1.7 0 1 0 3.5 0a1.7 1.7 0 1 0 -3.5 0M586.6 519.1a1.4 1.4 0 1 0 2.8 0a1.4 1.4 0 1 0 -2.8 0M600.5 473.8a1.3 1.3 0 1 0 2.5 0a1.3 1.3 0 1 0 -2.5 0M590.9 474.4a1.6 1.6 0 1 0 3.3 0a1.6 1.6 0 1 0 -3.3 0M621.7 502.5a1.3 1.3 0 1 0 2.5 0a1.3 1.3 0 1 0 -2.5 0M612.7 469.9a1.2 1.2 0 1 0 2.5 0a1.2 1.2 0 1 0 -2.5 0M583.2 518.1a1.6 1.6 0 1 0 3.1 0a1.6 1.6 0 1 0 -3.1 0M612.4 518.3a1.3 1.3 0 1 0 2.5 0a1.3 1.3 0 1 0 -2.5 0M617.4 525.2a1.2 1.2 0 1 0 2.3 0a1.2 1.2 0 1 0 -2.3 0M603.0 473.5a1.2 1.2 0 1 0 2.4 0a1.2 1.2 0 1 0 -2.4 0M581.2 518.6a1.3 1.3 0 1 0 2.6 0a1.3 1.3 0 1 0 -2.6 0M592.5 484.8a1.6 1.6 0 1 0 3.3 0a1.6 1.6 0 1 0 -3.3 0M580.8 507.9a1.1 1.1 0 1 0 2.2 0a1.1 1.1 0 1 0 -2.2 0M596.0 504.6a1.1 1.1 0 1 0 2.1 0a1.1 1.1 0 1 0 -2.1 0M577.1 504.8a1.5 1.5 0 1 0 3.0 0a1.5 1.5 0 1 0 -3.0 0M623.0 511.6a1.4 1.4 0 1 0 2.7 0a1.4 1.4 0 1 0 -2.7 0M599.7 476.7a1.6 1.6 0 1 0 3.2 0a1.6 1.6 0 1 0 -3.2 0M596.0 468.5a1.3 1.3 0 1 0 2.6 0a1.3 1.3 0 1 0 -2.6 0M599.8 524.8a1.3 1.3 0 1 0 2.5 0a1.3 1.3 0 1 0 -2.5 0M615.0 513.2a1.0 1.0 0 1 0 2.0 0a1.0 1.0 0 1 0 -2.0 0M604.4 511.8a1.6 1.6 0 1 0 3.3 0a1.6 1.6 0 1 0 -3.3 0M616.9 517.5a1.6 1.6 0 1 0 3.3 0a1.6 1.6 0 1 0 -3.3 0M604.2 491.2a1.1 1.1 0 1 0 2.2 0a1.1 1.1 0 1 0 -2.2 0M587.3 477.6a1.8 1.8 0 1 0 3.5 0a1.8 1.8 0 1 0 -3.5 0M633.6 509.7a1.3 1.3 0 1 0 2.7 0a1.3 1.3 0 1 0 -2.7 0M598.3 512.0a1.4 1.4 0 1 0 2.9 0a1.4 1.4 0 1 0 -2.9 0M623.2 512.5a1.1 1.1 0 1 0 2.1 0a1.1 1.1 0 1 0 -2.1 0M609.9 511.9a1.2 1.2 0 1 0 2.5 0a1.2 1.2 0 1 0 -2.5 0M633.6 491.5a1.3 1.3 0 1 0 2.7 0a1.3 1.3 0 1 0 -2.7 0M597.4 477.0a1.2 1.2 0 1 0 2.5 0a1.2 1.2 0 1 0 -2.5 0M578.3 481.0a1.3 1.3 0 1 0 2.6 0a1.3 1.3 0 1 0 -2.6 0M591.7 510.2a1.0 1.0 0 1 0 2.1 0a1.0 1.0 0 1 0 -2.1 0M591.2 468.4a1.1 1.1 0 1 0 2.3 0a1.1 1.1 0 1 0 -2.3 0M589.7 521.6a1.6 1.6 0 1 0 3.2 0a1.6 1.6 0 1 0 -3.2 0M621.2 477.5a1.3 1.3 0 1 0 2.6 0a1.3 1.3 0 1 0 -2.6 0M614.8 477.0a1.1 1.1 0 1 0 2.3 0a1.1 1.1 0 1 0 -2.3 0M578.1 514.8a1.5 1.5 0 1 0 3.1 0a1.5 1.5 0 1 0 -3.1 0M611.9 519.0a1.1 1.1 0 1 0 2.2 0a1.1 1.1 0 1 0 -2.2 0M599.0 506.1a1.5 1.5 0 1 0 3.0 0a1.5 1.5 0 1 0 -3.0 0M588.6 494.4a1.4 1.4 0 1 0 2.8 0a1.4 1.4 0 1 0 -2.8 0M600.4 506.1a1.5 1.5 0 1 0 3.0 0a1.5 1.5 0 1 0 -3.0 0M582.2 510.5a1.6 1.6 0 1 0 3.3 0a1.6 1.6 0 1 0 -3.3 0M608.1 477.2a1.8 1.8 0 1 0 3.5 0a1.8 1.8 0 1 0 -3.5 0M616.5 488.9a1.6 1.6 0 1 0 3.3 0a1.6 1.6 0 1 0 -3.3 0M597.1 510.3a1.6 1.6 0 1 0 3.3 0a1.6 1.6 0 1 0 -3.3 0M583.8 497.7a1.2 1.2 0 1 0 2.4 0a1.2 1.2 0 1 0 -2.4 0M620.5 489.3a1.5 1.5 0 1 0 2.9 0a1.5 1.5 0 1 0 -2.9 0M628.5 500.5a1.8 1.8 0 1 0 3.5 0a1.8 1.8 0 1 0 -3.5 0M580.7 488.9a1.6 1.6 0 1 0 3.1 0a1.6 1.6 0 1 0 -3.1 0M576.1 501.4a1.4 1.4 0 1 0 2.8 0a1.4 1.4 0 1 0 -2.8 0M584.4 474.7a1.5 1.5 0 1 0 3.1 0a1.5 1.5 0 1 0 -3.1 0M584.4 472.6a1.4 1.4 0 1 0 2.8 0a1.4 1.4 0 1 0 -2.8 0M633.1 486.1a1.7 1.7 0 1 0 3.4 0a1.7 1.7 0 1 0 -3.4 0M617.8 510.7a1.8 1.8 0 1 0 3.5 0a1.8 1.8 0 1 0 -3.5 0M598.5 515.9a1.7 1.7 0 1 0 3.3 0a1.7 1.7 0 1 0 -3.3 0M617.2 523.9a1.4 1.4 0 1 0 2.9 0a1.4 1.4 0 1 0 -2.9 0M572.8 502.1a1.3 1.3 0 1 0 2.6 0a1.3 1.3 0 1 0 -2.6 0M631.6 500.2a1.2 1.2 0 1 0 2.5 0a1.2 1.2 0 1 0 -2.5 0M626.4 515.4a1.6 1.6 0 1 0 3.2 0a1.6 1.6 0 1 0 -3.2 0M628.1 507.8a1.5 1.5 0 1 0 3.0 0a1.5 1.5 0 1 0 -3.0 0M608.4 498.7a1.7 1.7 0 1 0 3.4 0a1.7 1.7 0 1 0 -3.4 0M579.0 498.3a1.5 1.5 0 1 0 3.1 0a1.5 1.5 0 1 0 -3.1 0M634.4 494.9a1.1 1.1 0 1 0 2.3 0a1.1 1.1 0 1 0 -2.3 0M584.1 489.0a1.5 1.5 0 1 0 3.0 0a1.5 1.5 0 1 0 -3.0 0M574.7 509.6a1.7 1.7 0 1 0 3.4 0a1.7 1.7 0 1 0 -3.4 0M590.2 480.2a1.5 1.5 0 1 0 3.0 0a1.5 1.5 0 1 0 -3.0 0M630.7 512.8a1.4 1.4 0 1 0 2.8 0a1.4 1.4 0 1 0 -2.8 0M592.4 514.3a1.3 1.3 0 1 0 2.6 0a1.3 1.3 0 1 0 -2.6 0M613.4 523.0a1.7 1.7 0 1 0 3.5 0a1.7 1.7 0 1 0 -3.5 0M587.1 484.1a1.4 1.4 0 1 0 2.7 0a1.4 1.4 0 1 0 -2.7 0M588.9 503.7a1.2 1.2 0 1 0 2.4 0a1.2 1.2 0 1 0 -2.4 0M610.2 490.0a1.5 1.5 0 1 0 3.0 0a1.5 1.5 0 1 0 -3.0 0M581.9 510.0a1.4 1.4 0 1 0 2.9 0a1.4 1.4 0 1 0 -2.9 0M626.0 490.7a1.4 1.4 0 1 0 2.7 0a1.4 1.4 0 1 0 -2.7 0M626.4 502.5a1.7 1.7 0 1 0 3.3 0a1.7 1.7 0 1 0 -3.3 0M633.6 481.0a1.0 1.0 0 1 0 2.0 0a1.0 1.0 0 1 0 -2.0 0M626.8 493.3a1.2 1.2 0 1 0 2.3 0a1.2 1.2 0 1 0 -2.3 0M629.0 480.3a1.8 1.8 0 1 0 3.5 0a1.8 1.8 0 1 0 -3.5 0M580.7 481.6a1.3 1.3 0 1 0 2.6 0a1.3 1.3 0 1 0 -2.6 0M586.7 487.2a1.7 1.7 0 1 0 3.4 0a1.7 1.7 0 1 0 -3.4 0M591.3 473.1a1.0 1.0 0 1 0 2.0 0a1.0 1.0 0 1 0 -2.0 0M624.3 510.7a1.3 1.3 0 1 0 2.5 0a1.3 1.3 0 1 0 -2.5 0M606.7 504.9a1.1 1.1 0 1 0 2.2 0a1.1 1.1 0 1 0 -2.2 0M596.7 491.6a1.3 1.3 0 1 0 2.6 0a1.3 1.3 0 1 0 -2.6 0M572.9 488.3a1.8 1.8 0 1 0 3.6 0a1.8 1.8 0 1 0 -3.6 0M626.5 492.3a1.4 1.4 0 1 0 2.8 0a1.4 1.4 0 1 0 -2.8 0M624.4 513.4a1.1 1.1 0 1 0 2.2 0a1.1 1.1 0 1 0 -2.2 0M608.7 527.4a1.6 1.6 0 1 0 3.3 0a1.6 1.6 0 1 0 -3.3 0M591.1 518.0a1.7 1.7 0 1 0 3.3 0a1.7 1.7 0 1 0 -3.3 0M610.6 514.6a1.3 1.3 0 1 0 2.5 0a1.3 1.3 0 1 0 -2.5 0"/><path fill="#d05018" d="M605.4 503.4a1.6 1.6 0 1 0 3.2 0a1.6 1.6 0 1 0 -3.2 0M593.8 497.0a1.3 1.3 0 1 0 2.6 0a1.3 1.3 0 1 0 -2.6 0M607.4 482.4a1.7 1.7 0 1 0 3.4 0a1.7 1.7 0 1 0 -3.4 0M585.4 502.8a1.3 1.3 0 1 0 2.6 0a1.3 1.3 0 1 0 -2.6 0M577.5 514.5a1.5 1.5 0 1 0 2.9 0a1.5 1.5 0 1 0 -2.9 0M580.8 496.3a1.1 1.1 0 1 0 2.2 0a1.1 1.1 0 1 0 -2.2 0M632.4 508.1a1.3 1.3 0 1 0 2.6 0a1.3 1.3 0 1 0 -2.6 0M620.0 468.6a1.0 1.0 0 1 0 2.0 0a1.0 1.0 0 1 0 -2.0 0M598.0 481.8a1.3 1.3 0 1 0 2.5 0a1.3 1.3 0 1 0 -2.5 0M574.2 490.4a1.3 1.3 0 1 0 2.6 0a1.3 1.3 0 1 0 -2.6 0M596.9 486.5a1.4 1.4 0 1 0 2.9 0a1.4 1.4 0 1 0 -2.9 0M615.9 486.9a1.4 1.4 0 1 0 2.9 0a1.4 1.4 0 1 0 -2.9 0M602.6 469.4a1.3 1.3 0 1 0 2.6 0a1.3 1.3 0 1 0 -2.6 0M613.0 492.7a1.6 1.6 0 1 0 3.2 0a1.6 1.6 0 1 0 -3.2 0M616.9 485.8a1.3 1.3 0 1 0 2.5 0a1.3 1.3 0 1 0 -2.5 0M628.4 478.7a1.4 1.4 0 1 0 2.8 0a1.4 1.4 0 1 0 -2.8 0M597.7 474.8a1.5 1.5 0 1 0 3.0 0a1.5 1.5 0 1 0 -3.0 0M605.8 486.8a1.2 1.2 0 1 0 2.5 0a1.2 1.2 0 1 0 -2.5 0M614.1 496.6a1.7 1.7 0 1 0 3.5 0a1.7 1.7 0 1 0 -3.5 0M602.5 523.1a1.4 1.4 0 1 0 2.8 0a1.4 1.4 0 1 0 -2.8 0M618.5 508.4a1.2 1.2 0 1 0 2.3 0a1.2 1.2 0 1 0 -2.3 0M620.7 515.1a1.2 1.2 0 1 0 2.3 0a1.2 1.2 0 1 0 -2.3 0M588.3 479.8a1.4 1.4 0 1 0 2.8 0a1.4 1.4 0 1 0 -2.8 0M611.4 477.6a1.8 1.8 0 1 0 3.5 0a1.8 1.8 0 1 0 -3.5 0M576.1 492.7a1.2 1.2 0 1 0 2.4 0a1.2 1.2 0 1 0 -2.4 0M626.6 502.7a1.8 1.8 0 1 0 3.6 0a1.8 1.8 0 1 0 -3.6 0M589.9 504.2a1.2 1.2 0 1 0 2.5 0a1.2 1.2 0 1 0 -2.5 0M593.5 492.0a1.3 1.3 0 1 0 2.6 0a1.3 1.3 0 1 0 -2.6 0M625.9 476.5a1.2 1.2 0 1 0 2.4 0a1.2 1.2 0 1 0 -2.4 0M606.8 497.6a1.3 1.3 0 1 0 2.5 0a1.3 1.3 0 1 0 -2.5 0M588.5 516.7a1.8 1.8 0 1 0 3.5 0a1.8 1.8 0 1 0 -3.5 0M623.5 515.7a1.2 1.2 0 1 0 2.5 0a1.2 1.2 0 1 0 -2.5 0M589.1 487.5a1.6 1.6 0 1 0 3.3 0a1.6 1.6 0 1 0 -3.3 0M604.0 476.7a1.2 1.2 0 1 0 2.4 0a1.2 1.2 0 1 0 -2.4 0"/><path fill="#60e030" d="M581.6 497.4a1.6 1.6 0 1 0 3.2 0a1.6 1.6 0 1 0 -3.2 0M609.3 521.5a1.5 1.5 0 1 0 3.0 0a1.5 1.5 0 1 0 -3.0 0M586.9 492.4a1.2 1.2 0 1 0 2.4 0a1.2 1.2 0 1 0 -2.4 0M594.7 521.8a1.4 1.4 0 1 0 2.9 0a1.4 1.4 0 1 0 -2.9 0M616.6 471.8a1.2 1.2 0 1 0 2.4 0a1.2 1.2 0 1 0 -2.4 0M624.4 508.2a1.6 1.6 0 1 0 3.1 0a1.6 1.6 0 1 0 -3.1 0M625.8 488.8a1.5 1.5 0 1 0 3.0 0a1.5 1.5 0 1 0 -3.0 0M613.0 468.6a1.0 1.0 0 1 0 2.1 0a1.0 1.0 0 1 0 -2.1 0M613.1 515.7a1.2 1.2 0 1 0 2.4 0a1.2 1.2 0 1 0 -2.4 0M595.3 483.7a1.3 1.3 0 1 0 2.6 0a1.3 1.3 0 1 0 -2.6 0M588.0 497.9a1.4 1.4 0 1 0 2.7 0a1.4 1.4 0 1 0 -2.7 0M602.3 467.9a1.0 1.0 0 1 0 2.1 0a1.0 1.0 0 1 0 -2.1 0M584.3 518.1a1.4 1.4 0 1 0 2.7 0a1.4 1.4 0 1 0 -2.7 0M600.9 472.3a1.4 1.4 0 1 0 2.8 0a1.4 1.4 0 1 0 -2.8 0M631.4 500.0a1.2 1.2 0 1 0 2.4 0a1.2 1.2 0 1 0 -2.4 0M613.2 522.6a1.1 1.1 0 1 0 2.1 0a1.1 1.1 0 1 0 -2.1 0M578.3 483.3a1.5 1.5 0 1 0 3.1 0a1.5 1.5 0 1 0 -3.1 0M625.6 513.8a1.2 1.2 0 1 0 2.4 0a1.2 1.2 0 1 0 -2.4 0M589.2 480.9a1.3 1.3 0 1 0 2.6 0a1.3 1.3 0 1 0 -2.6 0M596.7 512.8a1.7 1.7 0 1 0 3.4 0a1.7 1.7 0 1 0 -3.4 0M628.6 510.6a1.7 1.7 0 1 0 3.5 0a1.7 1.7 0 1 0 -3.5 0M588.3 484.2a1.6 1.6 0 1 0 3.2 0a1.6 1.6 0 1 0 -3.2 0M618.6 474.5a1.6 1.6 0 1 0 3.2 0a1.6 1.6 0 1 0 -3.2 0M605.1 475.8a1.2 1.2 0 1 0 2.4 0a1.2 1.2 0 1 0 -2.4 0M578.1 490.5a1.4 1.4 0 1 0 2.9 0a1.4 1.4 0 1 0 -2.9 0M577.2 488.1a1.1 1.1 0 1 0 2.1 0a1.1 1.1 0 1 0 -2.1 0M600.6 480.8a1.2 1.2 0 1 0 2.4 0a1.2 1.2 0 1 0 -2.4 0M605.2 479.7a1.8 1.8 0 1 0 3.5 0a1.8 1.8 0 1 0 -3.5 0M613.2 483.0a1.3 1.3 0 1 0 2.6 0a1.3 1.3 0 1 0 -2.6 0M593.4 513.1a1.5 1.5 0 1 0 3.0 0a1.5 1.5 0 1 0 -3.0 0M607.5 509.3a1.5 1.5 0 1 0 3.0 0a1.5 1.5 0 1 0 -3.0 0M617.0 485.2a1.5 1.5 0 1 0 3.0 0a1.5 1.5 0 1 0 -3.0 0M575.2 492.2a1.3 1.3 0 1 0 2.7 0a1.3 1.3 0 1 0 -2.7 0M621.1 498.6a1.5 1.5 0 1 0 3.1 0a1.5 1.5 0 1 0 -3.1 0M617.3 521.0a1.6 1.6 0 1 0 3.1 0a1.6 1.6 0 1 0 -3.1 0M574.9 499.7a1.8 1.8 0 1 0 3.6 0a1.8 1.8 0 1 0 -3.6 0M615.6 471.6a1.5 1.5 0 1 0 3.0 0a1.5 1.5 0 1 0 -3.0 0M607.8 467.1a1.8 1.8 0 1 0 3.6 0a1.8 1.8 0 1 0 -3.6 0M577.7 484.2a1.6 1.6 0 1 0 3.3 0a1.6 1.6 0 1 0 -3.3 0M612.4 486.5a1.3 1.3 0 1 0 2.7 0a1.3 1.3 0 1 0 -2.7 0M586.6 499.2a1.1 1.1 0 1 0 2.1 0a1.1 1.1 0 1 0 -2.1 0M613.6 520.6a1.5 1.5 0 1 0 3.0 0a1.5 1.5 0 1 0 -3.0 0M612.8 482.7a1.4 1.4 0 1 0 2.7 0a1.4 1.4 0 1 0 -2.7 0M585.1 516.6a1.7 1.7 0 1 0 3.4 0a1.7 1.7 0 1 0 -3.4 0M599.0 497.2a1.7 1.7 0 1 0 3.4 0a1.7 1.7 0 1 0 -3.4 0M579.6 512.4a1.3 1.3 0 1 0 2.6 0a1.3 1.3 0 1 0 -2.6 0M594.5 508.7a1.8 1.8 0 1 0 3.5 0a1.8 1.8 0 1 0 -3.5 0M602.2 515.2a1.8 1.8 0 1 0 3.6 0a1.8 1.8 0 1 0 -3.6 0M628.2 501.9a1.2 1.2 0 1 0 2.5 0a1.2 1.2 0 1 0 -2.5 0M623.1 478.8a1.4 1.4 0 1 0 2.9 0a1.4 1.4 0 1 0 -2.9 0"/></g>
<rect x="521.60" y="508.00" width="45.60" height="46.60" fill="#140a02" />
<g clip-path="url(#clipI2)"><g filter="url(#eblur2)"><path fill="#d07018" d="M562.8 555.3a3.3 3.3 0 1 0 6.7 0a3.3 3.3 0 1 0 -6.7 0M564.7 524.2a3.8 3.8 0 1 0 7.6 0a3.8 3.8 0 1 0 -7.6 0M555.4 542.5a3.6 3.6 0 1 0 7.2 0a3.6 3.6 0 1 0 -7.2 0M528.0 527.4a3.9 3.9 0 1 0 7.8 0a3.9 3.9 0 1 0 -7.8 0M531.8 552.3a4.6 4.6 0 1 0 9.3 0a4.6 4.6 0 1 0 -9.3 0M558.8 531.4a4.3 4.3 0 1 0 8.6 0a4.3 4.3 0 1 0 -8.6 0M559.2 518.7a3.6 3.6 0 1 0 7.2 0a3.6 3.6 0 1 0 -7.2 0"/><path fill="#e0a020" d="M545.8 527.5a3.4 3.4 0 1 0 6.8 0a3.4 3.4 0 1 0 -6.8 0M516.4 509.5a3.9 3.9 0 1 0 7.7 0a3.9 3.9 0 1 0 -7.7 0M554.7 536.2a4.2 4.2 0 1 0 8.4 0a4.2 4.2 0 1 0 -8.4 0M539.3 543.0a3.9 3.9 0 1 0 7.8 0a3.9 3.9 0 1 0 -7.8 0M516.5 519.6a4.5 4.5 0 1 0 9.0 0a4.5 4.5 0 1 0 -9.0 0M542.1 553.7a4.7 4.7 0 1 0 9.4 0a4.7 4.7 0 1 0 -9.4 0M515.4 547.9a4.8 4.8 0 1 0 9.5 0a4.8 4.8 0 1 0 -9.5 0M555.3 555.3a4.8 4.8 0 1 0 9.6 0a4.8 4.8 0 1 0 -9.6 0M525.3 509.0a3.5 3.5 0 1 0 7.0 0a3.5 3.5 0 1 0 -7.0 0M541.5 514.0a4.5 4.5 0 1 0 9.0 0a4.5 4.5 0 1 0 -9.0 0M549.5 526.9a4.5 4.5 0 1 0 9.1 0a4.5 4.5 0 1 0 -9.1 0M553.8 534.5a4.5 4.5 0 1 0 9.0 0a4.5 4.5 0 1 0 -9.0 0M539.8 528.8a3.2 3.2 0 1 0 6.4 0a3.2 3.2 0 1 0 -6.4 0M536.6 509.3a4.0 4.0 0 1 0 7.9 0a4.0 4.0 0 1 0 -7.9 0M550.1 533.6a4.0 4.0 0 1 0 8.1 0a4.0 4.0 0 1 0 -8.1 0M536.3 548.3a4.1 4.1 0 1 0 8.2 0a4.1 4.1 0 1 0 -8.2 0M529.1 550.2a3.4 3.4 0 1 0 6.8 0a3.4 3.4 0 1 0 -6.8 0M538.7 511.4a3.9 3.9 0 1 0 7.8 0a3.9 3.9 0 1 0 -7.8 0"/><path fill="#38c828" d="M524.9 528.6a3.9 3.9 0 1 0 7.9 0a3.9 3.9 0 1 0 -7.9 0M541.9 543.9a3.3 3.3 0 1 0 6.6 0a3.3 3.3 0 1 0 -6.6 0M544.8 540.0a3.3 3.3 0 1 0 6.7 0a3.3 3.3 0 1 0 -6.7 0M548.0 514.6a3.7 3.7 0 1 0 7.4 0a3.7 3.7 0 1 0 -7.4 0M557.3 515.4a3.4 3.4 0 1 0 6.7 0a3.4 3.4 0 1 0 -6.7 0M532.2 524.6a3.7 3.7 0 1 0 7.4 0a3.7 3.7 0 1 0 -7.4 0M555.3 534.1a3.4 3.4 0 1 0 6.7 0a3.4 3.4 0 1 0 -6.7 0M523.7 556.7a3.9 3.9 0 1 0 7.7 0a3.9 3.9 0 1 0 -7.7 0M563.2 555.4a3.4 3.4 0 1 0 6.7 0a3.4 3.4 0 1 0 -6.7 0M547.8 517.6a3.9 3.9 0 1 0 7.7 0a3.9 3.9 0 1 0 -7.7 0M520.4 538.5a4.1 4.1 0 1 0 8.2 0a4.1 4.1 0 1 0 -8.2 0M543.6 533.7a4.1 4.1 0 1 0 8.2 0a4.1 4.1 0 1 0 -8.2 0M533.6 546.6a4.6 4.6 0 1 0 9.2 0a4.6 4.6 0 1 0 -9.2 0M525.5 541.1a3.9 3.9 0 1 0 7.8 0a3.9 3.9 0 1 0 -7.8 0M529.6 552.6a4.6 4.6 0 1 0 9.2 0a4.6 4.6 0 1 0 -9.2 0M546.1 520.5a3.8 3.8 0 1 0 7.5 0a3.8 3.8 0 1 0 -7.5 0M530.6 555.9a3.8 3.8 0 1 0 7.6 0a3.8 3.8 0 1 0 -7.6 0M528.5 519.7a3.5 3.5 0 1 0 7.1 0a3.5 3.5 0 1 0 -7.1 0M564.6 538.6a4.5 4.5 0 1 0 9.0 0a4.5 4.5 0 1 0 -9.0 0M528.5 524.2a4.5 4.5 0 1 0 9.1 0a4.5 4.5 0 1 0 -9.1 0M519.3 544.1a4.3 4.3 0 1 0 8.6 0a4.3 4.3 0 1 0 -8.6 0"/><path fill="#d0c020" d="M553.4 523.3a3.8 3.8 0 1 0 7.6 0a3.8 3.8 0 1 0 -7.6 0M558.3 518.2a3.3 3.3 0 1 0 6.7 0a3.3 3.3 0 1 0 -6.7 0M529.7 509.1a4.2 4.2 0 1 0 8.5 0a4.2 4.2 0 1 0 -8.5 0M524.2 556.7a3.5 3.5 0 1 0 7.0 0a3.5 3.5 0 1 0 -7.0 0"/></g></g>
<path d="M521.6 508.0H567.2V554.6" fill="none" stroke="#f2f2f2" stroke-width="1.2"/>
<rect x="632.90" y="538.80" width="43.10" height="3.40" fill="#fff" />
</g>
<text x="531.0" y="453.2" font-size="14.2" fill="#ff1010">Ki67 <tspan fill="#18e818">PDX1</tspan></text>
</svg>
</body></html>
